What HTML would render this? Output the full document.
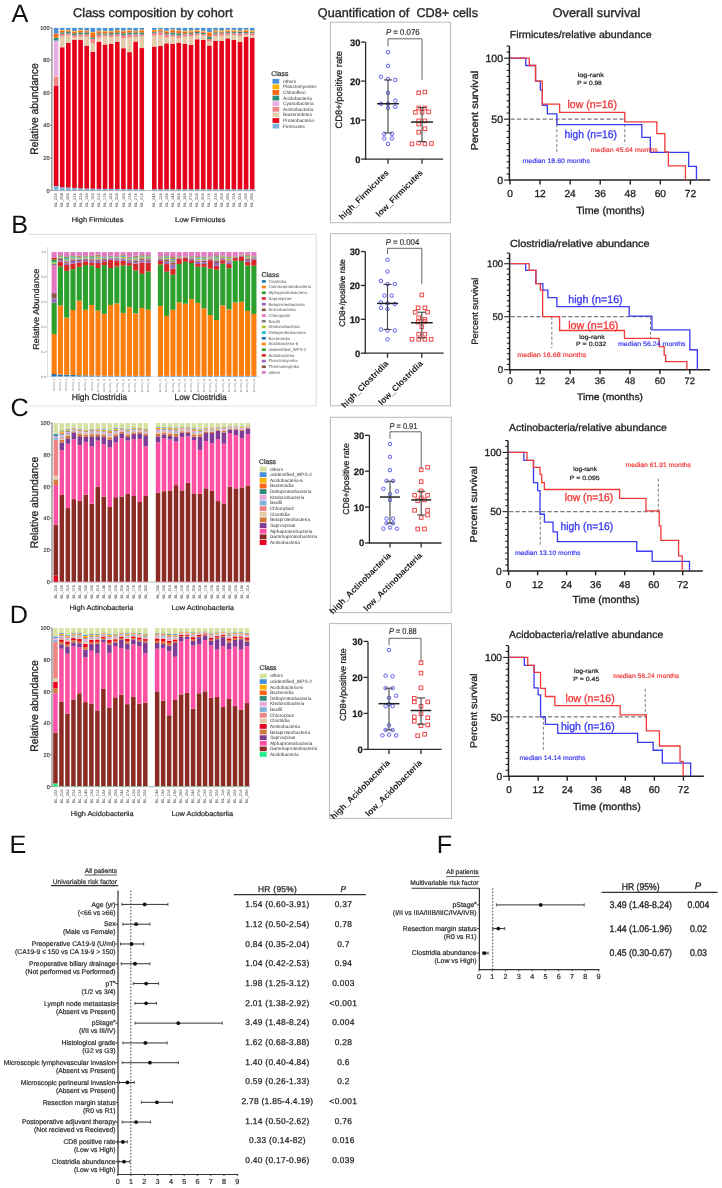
<!DOCTYPE html>
<html><head><meta charset="utf-8"><title>Figure</title>
<style>
html,body{margin:0;padding:0;background:#fff;}
body{width:722px;height:1188px;overflow:hidden;}
svg{display:block;font-family:"Liberation Sans", sans-serif;text-rendering:geometricPrecision;will-change:transform;filter:blur(0.3px);}
</style></head><body>
<svg width="722" height="1188" viewBox="0 0 722 1188">
<rect x="0" y="0" width="722" height="1188" fill="#fff"/>
<text x="11.40" y="22.20" font-size="25.2" fill="#111" stroke="none">A</text>
<text x="11.20" y="233.40" font-size="25.2" fill="#111" stroke="none">B</text>
<text x="10.40" y="415.60" font-size="25.2" fill="#111" stroke="none">C</text>
<text x="9.80" y="622.50" font-size="25.2" fill="#111" stroke="none">D</text>
<text x="9.40" y="852.80" font-size="25.2" fill="#111" stroke="none">E</text>
<text x="436.80" y="852.80" font-size="25.2" fill="#111" stroke="none">F</text>
<text x="73.10" y="16.80" font-size="12.6" fill="#2a2a2a" textLength="159.60" lengthAdjust="spacingAndGlyphs" stroke="#2a2a2a" stroke-width="0.38">Class composition by cohort</text>
<text x="317.80" y="16.80" font-size="12.6" fill="#2a2a2a" textLength="160.20" lengthAdjust="spacingAndGlyphs" stroke="#2a2a2a" stroke-width="0.38">Quantification of  CD8+ cells</text>
<text x="552.50" y="16.80" font-size="12.6" fill="#2a2a2a" textLength="87.80" lengthAdjust="spacingAndGlyphs" stroke="#2a2a2a" stroke-width="0.38">Overall survival</text>
<rect x="53.80" y="185.95" width="4.60" height="4.55" fill="#7db3da"/>
<rect x="53.80" y="85.95" width="4.60" height="100.00" fill="#e6001a"/>
<rect x="53.80" y="76.68" width="4.60" height="9.27" fill="#f08585"/>
<rect x="53.80" y="40.58" width="4.60" height="36.10" fill="#e8aee2"/>
<rect x="53.80" y="37.66" width="4.60" height="2.93" fill="#2b8c7a"/>
<rect x="53.80" y="33.59" width="4.60" height="4.06" fill="#ff6612"/>
<rect x="53.80" y="27.90" width="4.60" height="5.69" fill="#4a90d9"/>
<rect x="59.92" y="187.25" width="4.60" height="3.25" fill="#7db3da"/>
<rect x="59.92" y="47.25" width="4.60" height="140.00" fill="#e6001a"/>
<rect x="59.92" y="36.41" width="4.60" height="10.84" fill="#e2ccaa"/>
<rect x="59.92" y="33.80" width="4.60" height="2.61" fill="#f08585"/>
<rect x="59.92" y="32.36" width="4.60" height="1.44" fill="#2b8c7a"/>
<rect x="59.92" y="30.69" width="4.60" height="1.67" fill="#ff6612"/>
<rect x="59.92" y="30.00" width="4.60" height="0.69" fill="#ffb300"/>
<rect x="59.92" y="27.90" width="4.60" height="2.10" fill="#4a90d9"/>
<rect x="66.04" y="187.57" width="4.60" height="2.93" fill="#7db3da"/>
<rect x="66.04" y="42.86" width="4.60" height="144.71" fill="#e6001a"/>
<rect x="66.04" y="35.36" width="4.60" height="7.50" fill="#e2ccaa"/>
<rect x="66.04" y="33.31" width="4.60" height="2.05" fill="#f08585"/>
<rect x="66.04" y="31.49" width="4.60" height="1.82" fill="#2b8c7a"/>
<rect x="66.04" y="30.34" width="4.60" height="1.15" fill="#ff6612"/>
<rect x="66.04" y="29.77" width="4.60" height="0.56" fill="#ffb300"/>
<rect x="66.04" y="27.90" width="4.60" height="1.87" fill="#4a90d9"/>
<rect x="72.16" y="187.90" width="4.60" height="2.60" fill="#7db3da"/>
<rect x="72.16" y="39.61" width="4.60" height="148.29" fill="#e6001a"/>
<rect x="72.16" y="37.50" width="4.60" height="2.11" fill="#e2ccaa"/>
<rect x="72.16" y="35.09" width="4.60" height="2.40" fill="#f08585"/>
<rect x="72.16" y="33.28" width="4.60" height="1.82" fill="#2b8c7a"/>
<rect x="72.16" y="31.68" width="4.60" height="1.60" fill="#ff6612"/>
<rect x="72.16" y="30.98" width="4.60" height="0.70" fill="#ffb300"/>
<rect x="72.16" y="27.90" width="4.60" height="3.08" fill="#4a90d9"/>
<rect x="78.28" y="188.22" width="4.60" height="2.28" fill="#7db3da"/>
<rect x="78.28" y="39.61" width="4.60" height="148.62" fill="#e6001a"/>
<rect x="78.28" y="36.69" width="4.60" height="2.92" fill="#e2ccaa"/>
<rect x="78.28" y="34.21" width="4.60" height="2.48" fill="#f08585"/>
<rect x="78.28" y="32.37" width="4.60" height="1.84" fill="#2b8c7a"/>
<rect x="78.28" y="30.61" width="4.60" height="1.76" fill="#ff6612"/>
<rect x="78.28" y="29.88" width="4.60" height="0.73" fill="#ffb300"/>
<rect x="78.28" y="27.90" width="4.60" height="1.98" fill="#4a90d9"/>
<rect x="84.40" y="188.55" width="4.60" height="1.95" fill="#7db3da"/>
<rect x="84.40" y="45.62" width="4.60" height="142.93" fill="#e6001a"/>
<rect x="84.40" y="36.69" width="4.60" height="8.93" fill="#e2ccaa"/>
<rect x="84.40" y="34.10" width="4.60" height="2.59" fill="#f08585"/>
<rect x="84.40" y="32.35" width="4.60" height="1.75" fill="#2b8c7a"/>
<rect x="84.40" y="31.15" width="4.60" height="1.20" fill="#ff6612"/>
<rect x="84.40" y="30.56" width="4.60" height="0.59" fill="#ffb300"/>
<rect x="84.40" y="27.90" width="4.60" height="2.66" fill="#4a90d9"/>
<rect x="90.52" y="188.71" width="4.60" height="1.79" fill="#7db3da"/>
<rect x="90.52" y="51.64" width="4.60" height="137.07" fill="#e6001a"/>
<rect x="90.52" y="43.20" width="4.60" height="8.44" fill="#e2ccaa"/>
<rect x="90.52" y="38.81" width="4.60" height="4.39" fill="#f08585"/>
<rect x="90.52" y="37.29" width="4.60" height="1.52" fill="#2b8c7a"/>
<rect x="90.52" y="32.90" width="4.60" height="4.39" fill="#ff6612"/>
<rect x="90.52" y="32.13" width="4.60" height="0.77" fill="#ffb300"/>
<rect x="90.52" y="27.90" width="4.60" height="4.23" fill="#4a90d9"/>
<rect x="96.64" y="188.87" width="4.60" height="1.63" fill="#7db3da"/>
<rect x="96.64" y="41.72" width="4.60" height="147.15" fill="#e6001a"/>
<rect x="96.64" y="37.67" width="4.60" height="4.05" fill="#e2ccaa"/>
<rect x="96.64" y="34.75" width="4.60" height="2.93" fill="#f08585"/>
<rect x="96.64" y="33.29" width="4.60" height="1.46" fill="#2b8c7a"/>
<rect x="96.64" y="31.25" width="4.60" height="2.04" fill="#ff6612"/>
<rect x="96.64" y="30.62" width="4.60" height="0.63" fill="#ffb300"/>
<rect x="96.64" y="27.90" width="4.60" height="2.72" fill="#4a90d9"/>
<rect x="102.76" y="188.87" width="4.60" height="1.63" fill="#7db3da"/>
<rect x="102.76" y="44.49" width="4.60" height="144.39" fill="#e6001a"/>
<rect x="102.76" y="36.52" width="4.60" height="7.96" fill="#e2ccaa"/>
<rect x="102.76" y="34.68" width="4.60" height="1.85" fill="#f08585"/>
<rect x="102.76" y="33.46" width="4.60" height="1.22" fill="#2b8c7a"/>
<rect x="102.76" y="31.46" width="4.60" height="2.00" fill="#ff6612"/>
<rect x="102.76" y="30.91" width="4.60" height="0.56" fill="#ffb300"/>
<rect x="102.76" y="27.90" width="4.60" height="3.01" fill="#4a90d9"/>
<rect x="108.88" y="188.87" width="4.60" height="1.63" fill="#7db3da"/>
<rect x="108.88" y="43.83" width="4.60" height="145.04" fill="#e6001a"/>
<rect x="108.88" y="36.92" width="4.60" height="6.91" fill="#e2ccaa"/>
<rect x="108.88" y="34.81" width="4.60" height="2.12" fill="#f08585"/>
<rect x="108.88" y="33.16" width="4.60" height="1.65" fill="#2b8c7a"/>
<rect x="108.88" y="31.60" width="4.60" height="1.56" fill="#ff6612"/>
<rect x="108.88" y="30.94" width="4.60" height="0.65" fill="#ffb300"/>
<rect x="108.88" y="27.90" width="4.60" height="3.04" fill="#4a90d9"/>
<rect x="115.00" y="189.04" width="4.60" height="1.46" fill="#7db3da"/>
<rect x="115.00" y="41.72" width="4.60" height="147.32" fill="#e6001a"/>
<rect x="115.00" y="36.64" width="4.60" height="5.08" fill="#e2ccaa"/>
<rect x="115.00" y="34.07" width="4.60" height="2.58" fill="#f08585"/>
<rect x="115.00" y="32.45" width="4.60" height="1.61" fill="#2b8c7a"/>
<rect x="115.00" y="30.97" width="4.60" height="1.48" fill="#ff6612"/>
<rect x="115.00" y="30.19" width="4.60" height="0.78" fill="#ffb300"/>
<rect x="115.00" y="27.90" width="4.60" height="2.29" fill="#4a90d9"/>
<rect x="121.12" y="189.04" width="4.60" height="1.46" fill="#7db3da"/>
<rect x="121.12" y="48.23" width="4.60" height="140.81" fill="#e6001a"/>
<rect x="121.12" y="38.40" width="4.60" height="9.83" fill="#e2ccaa"/>
<rect x="121.12" y="35.16" width="4.60" height="3.24" fill="#f08585"/>
<rect x="121.12" y="33.33" width="4.60" height="1.83" fill="#2b8c7a"/>
<rect x="121.12" y="31.28" width="4.60" height="2.04" fill="#ff6612"/>
<rect x="121.12" y="30.58" width="4.60" height="0.71" fill="#ffb300"/>
<rect x="121.12" y="27.90" width="4.60" height="2.68" fill="#4a90d9"/>
<rect x="127.24" y="189.04" width="4.60" height="1.46" fill="#7db3da"/>
<rect x="127.24" y="52.13" width="4.60" height="136.91" fill="#e6001a"/>
<rect x="127.24" y="37.57" width="4.60" height="14.56" fill="#e2ccaa"/>
<rect x="127.24" y="34.47" width="4.60" height="3.10" fill="#f08585"/>
<rect x="127.24" y="32.55" width="4.60" height="1.92" fill="#2b8c7a"/>
<rect x="127.24" y="30.57" width="4.60" height="1.98" fill="#ff6612"/>
<rect x="127.24" y="29.90" width="4.60" height="0.67" fill="#ffb300"/>
<rect x="127.24" y="27.90" width="4.60" height="2.00" fill="#4a90d9"/>
<rect x="133.36" y="189.20" width="4.60" height="1.30" fill="#7db3da"/>
<rect x="133.36" y="41.56" width="4.60" height="147.64" fill="#e6001a"/>
<rect x="133.36" y="36.91" width="4.60" height="4.64" fill="#e2ccaa"/>
<rect x="133.36" y="34.36" width="4.60" height="2.56" fill="#f08585"/>
<rect x="133.36" y="32.54" width="4.60" height="1.81" fill="#2b8c7a"/>
<rect x="133.36" y="31.20" width="4.60" height="1.34" fill="#ff6612"/>
<rect x="133.36" y="30.62" width="4.60" height="0.58" fill="#ffb300"/>
<rect x="133.36" y="27.90" width="4.60" height="2.72" fill="#4a90d9"/>
<rect x="139.48" y="189.20" width="4.60" height="1.30" fill="#7db3da"/>
<rect x="139.48" y="48.06" width="4.60" height="141.14" fill="#e6001a"/>
<rect x="139.48" y="36.20" width="4.60" height="11.86" fill="#e2ccaa"/>
<rect x="139.48" y="34.43" width="4.60" height="1.77" fill="#f08585"/>
<rect x="139.48" y="32.49" width="4.60" height="1.94" fill="#2b8c7a"/>
<rect x="139.48" y="30.52" width="4.60" height="1.97" fill="#ff6612"/>
<rect x="139.48" y="29.77" width="4.60" height="0.75" fill="#ffb300"/>
<rect x="139.48" y="27.90" width="4.60" height="1.87" fill="#4a90d9"/>
<rect x="152.00" y="189.20" width="4.60" height="1.30" fill="#7db3da"/>
<rect x="152.00" y="46.60" width="4.60" height="142.60" fill="#e6001a"/>
<rect x="152.00" y="35.65" width="4.60" height="10.94" fill="#e2ccaa"/>
<rect x="152.00" y="32.78" width="4.60" height="2.88" fill="#f08585"/>
<rect x="152.00" y="31.84" width="4.60" height="0.94" fill="#2b8c7a"/>
<rect x="152.00" y="31.02" width="4.60" height="0.82" fill="#ff6612"/>
<rect x="152.00" y="29.96" width="4.60" height="1.06" fill="#ffb300"/>
<rect x="152.00" y="27.90" width="4.60" height="2.06" fill="#4a90d9"/>
<rect x="158.12" y="189.20" width="4.60" height="1.30" fill="#7db3da"/>
<rect x="158.12" y="45.79" width="4.60" height="143.41" fill="#e6001a"/>
<rect x="158.12" y="34.97" width="4.60" height="10.82" fill="#e2ccaa"/>
<rect x="158.12" y="32.18" width="4.60" height="2.79" fill="#f08585"/>
<rect x="158.12" y="31.48" width="4.60" height="0.69" fill="#2b8c7a"/>
<rect x="158.12" y="30.13" width="4.60" height="1.35" fill="#ff6612"/>
<rect x="158.12" y="29.43" width="4.60" height="0.70" fill="#ffb300"/>
<rect x="158.12" y="27.90" width="4.60" height="1.53" fill="#4a90d9"/>
<rect x="164.24" y="189.20" width="4.60" height="1.30" fill="#7db3da"/>
<rect x="164.24" y="43.35" width="4.60" height="145.85" fill="#e6001a"/>
<rect x="164.24" y="37.50" width="4.60" height="5.85" fill="#e2ccaa"/>
<rect x="164.24" y="34.25" width="4.60" height="3.25" fill="#f08585"/>
<rect x="164.24" y="33.11" width="4.60" height="1.14" fill="#2b8c7a"/>
<rect x="164.24" y="31.34" width="4.60" height="1.77" fill="#ff6612"/>
<rect x="164.24" y="30.65" width="4.60" height="0.69" fill="#ffb300"/>
<rect x="164.24" y="27.90" width="4.60" height="2.75" fill="#4a90d9"/>
<rect x="170.36" y="189.20" width="4.60" height="1.30" fill="#7db3da"/>
<rect x="170.36" y="43.83" width="4.60" height="145.36" fill="#e6001a"/>
<rect x="170.36" y="36.57" width="4.60" height="7.27" fill="#e2ccaa"/>
<rect x="170.36" y="34.62" width="4.60" height="1.95" fill="#f08585"/>
<rect x="170.36" y="32.51" width="4.60" height="2.11" fill="#2b8c7a"/>
<rect x="170.36" y="30.23" width="4.60" height="2.28" fill="#ff6612"/>
<rect x="170.36" y="29.48" width="4.60" height="0.75" fill="#ffb300"/>
<rect x="170.36" y="27.90" width="4.60" height="1.58" fill="#4a90d9"/>
<rect x="176.48" y="189.20" width="4.60" height="1.30" fill="#7db3da"/>
<rect x="176.48" y="42.70" width="4.60" height="146.50" fill="#e6001a"/>
<rect x="176.48" y="38.38" width="4.60" height="4.32" fill="#e2ccaa"/>
<rect x="176.48" y="35.34" width="4.60" height="3.04" fill="#f08585"/>
<rect x="176.48" y="33.23" width="4.60" height="2.11" fill="#2b8c7a"/>
<rect x="176.48" y="30.95" width="4.60" height="2.28" fill="#ff6612"/>
<rect x="176.48" y="30.26" width="4.60" height="0.69" fill="#ffb300"/>
<rect x="176.48" y="27.90" width="4.60" height="2.36" fill="#4a90d9"/>
<rect x="182.60" y="189.20" width="4.60" height="1.30" fill="#7db3da"/>
<rect x="182.60" y="43.83" width="4.60" height="145.36" fill="#e6001a"/>
<rect x="182.60" y="36.66" width="4.60" height="7.18" fill="#e2ccaa"/>
<rect x="182.60" y="34.28" width="4.60" height="2.37" fill="#f08585"/>
<rect x="182.60" y="33.26" width="4.60" height="1.02" fill="#2b8c7a"/>
<rect x="182.60" y="31.59" width="4.60" height="1.67" fill="#ff6612"/>
<rect x="182.60" y="30.77" width="4.60" height="0.83" fill="#ffb300"/>
<rect x="182.60" y="27.90" width="4.60" height="2.87" fill="#4a90d9"/>
<rect x="188.72" y="189.20" width="4.60" height="1.30" fill="#7db3da"/>
<rect x="188.72" y="44.97" width="4.60" height="144.23" fill="#e6001a"/>
<rect x="188.72" y="36.56" width="4.60" height="8.41" fill="#e2ccaa"/>
<rect x="188.72" y="33.93" width="4.60" height="2.63" fill="#f08585"/>
<rect x="188.72" y="32.73" width="4.60" height="1.20" fill="#2b8c7a"/>
<rect x="188.72" y="31.41" width="4.60" height="1.33" fill="#ff6612"/>
<rect x="188.72" y="30.31" width="4.60" height="1.10" fill="#ffb300"/>
<rect x="188.72" y="27.90" width="4.60" height="2.41" fill="#4a90d9"/>
<rect x="194.84" y="189.20" width="4.60" height="1.30" fill="#7db3da"/>
<rect x="194.84" y="39.28" width="4.60" height="149.92" fill="#e6001a"/>
<rect x="194.84" y="35.30" width="4.60" height="3.99" fill="#e2ccaa"/>
<rect x="194.84" y="33.28" width="4.60" height="2.01" fill="#f08585"/>
<rect x="194.84" y="31.93" width="4.60" height="1.35" fill="#2b8c7a"/>
<rect x="194.84" y="30.79" width="4.60" height="1.14" fill="#ff6612"/>
<rect x="194.84" y="30.11" width="4.60" height="0.68" fill="#ffb300"/>
<rect x="194.84" y="27.90" width="4.60" height="2.21" fill="#4a90d9"/>
<rect x="200.96" y="189.20" width="4.60" height="1.30" fill="#7db3da"/>
<rect x="200.96" y="39.93" width="4.60" height="149.27" fill="#e6001a"/>
<rect x="200.96" y="35.63" width="4.60" height="4.31" fill="#e2ccaa"/>
<rect x="200.96" y="33.98" width="4.60" height="1.64" fill="#f08585"/>
<rect x="200.96" y="32.80" width="4.60" height="1.19" fill="#2b8c7a"/>
<rect x="200.96" y="31.55" width="4.60" height="1.24" fill="#ff6612"/>
<rect x="200.96" y="30.79" width="4.60" height="0.76" fill="#ffb300"/>
<rect x="200.96" y="27.90" width="4.60" height="2.89" fill="#4a90d9"/>
<rect x="207.08" y="189.20" width="4.60" height="1.30" fill="#7db3da"/>
<rect x="207.08" y="45.46" width="4.60" height="143.74" fill="#e6001a"/>
<rect x="207.08" y="41.65" width="4.60" height="3.81" fill="#e2ccaa"/>
<rect x="207.08" y="39.00" width="4.60" height="2.65" fill="#f08585"/>
<rect x="207.08" y="36.56" width="4.60" height="2.44" fill="#2b8c7a"/>
<rect x="207.08" y="32.49" width="4.60" height="4.06" fill="#ff6612"/>
<rect x="207.08" y="31.97" width="4.60" height="0.53" fill="#ffb300"/>
<rect x="207.08" y="27.90" width="4.60" height="4.06" fill="#4a90d9"/>
<rect x="213.20" y="189.20" width="4.60" height="1.30" fill="#7db3da"/>
<rect x="213.20" y="40.91" width="4.60" height="148.29" fill="#e6001a"/>
<rect x="213.20" y="35.92" width="4.60" height="4.99" fill="#e2ccaa"/>
<rect x="213.20" y="33.72" width="4.60" height="2.20" fill="#f08585"/>
<rect x="213.20" y="32.41" width="4.60" height="1.31" fill="#2b8c7a"/>
<rect x="213.20" y="31.23" width="4.60" height="1.18" fill="#ff6612"/>
<rect x="213.20" y="30.28" width="4.60" height="0.95" fill="#ffb300"/>
<rect x="213.20" y="27.90" width="4.60" height="2.38" fill="#4a90d9"/>
<rect x="219.32" y="189.20" width="4.60" height="1.30" fill="#7db3da"/>
<rect x="219.32" y="40.91" width="4.60" height="148.29" fill="#e6001a"/>
<rect x="219.32" y="35.67" width="4.60" height="5.24" fill="#e2ccaa"/>
<rect x="219.32" y="32.94" width="4.60" height="2.73" fill="#f08585"/>
<rect x="219.32" y="32.23" width="4.60" height="0.71" fill="#2b8c7a"/>
<rect x="219.32" y="31.56" width="4.60" height="0.68" fill="#ff6612"/>
<rect x="219.32" y="30.44" width="4.60" height="1.11" fill="#ffb300"/>
<rect x="219.32" y="27.90" width="4.60" height="2.54" fill="#4a90d9"/>
<rect x="225.44" y="189.20" width="4.60" height="1.30" fill="#7db3da"/>
<rect x="225.44" y="38.31" width="4.60" height="150.89" fill="#e6001a"/>
<rect x="225.44" y="35.00" width="4.60" height="3.31" fill="#e2ccaa"/>
<rect x="225.44" y="32.85" width="4.60" height="2.15" fill="#f08585"/>
<rect x="225.44" y="31.63" width="4.60" height="1.23" fill="#2b8c7a"/>
<rect x="225.44" y="30.46" width="4.60" height="1.17" fill="#ff6612"/>
<rect x="225.44" y="29.73" width="4.60" height="0.72" fill="#ffb300"/>
<rect x="225.44" y="27.90" width="4.60" height="1.83" fill="#4a90d9"/>
<rect x="231.56" y="189.20" width="4.60" height="1.30" fill="#7db3da"/>
<rect x="231.56" y="39.93" width="4.60" height="149.27" fill="#e6001a"/>
<rect x="231.56" y="34.97" width="4.60" height="4.96" fill="#e2ccaa"/>
<rect x="231.56" y="32.86" width="4.60" height="2.11" fill="#f08585"/>
<rect x="231.56" y="31.62" width="4.60" height="1.23" fill="#2b8c7a"/>
<rect x="231.56" y="30.55" width="4.60" height="1.07" fill="#ff6612"/>
<rect x="231.56" y="29.82" width="4.60" height="0.73" fill="#ffb300"/>
<rect x="231.56" y="27.90" width="4.60" height="1.92" fill="#4a90d9"/>
<rect x="237.68" y="189.20" width="4.60" height="1.30" fill="#7db3da"/>
<rect x="237.68" y="41.72" width="4.60" height="147.48" fill="#e6001a"/>
<rect x="237.68" y="35.89" width="4.60" height="5.83" fill="#e2ccaa"/>
<rect x="237.68" y="33.07" width="4.60" height="2.82" fill="#f08585"/>
<rect x="237.68" y="31.86" width="4.60" height="1.21" fill="#2b8c7a"/>
<rect x="237.68" y="31.18" width="4.60" height="0.68" fill="#ff6612"/>
<rect x="237.68" y="30.49" width="4.60" height="0.69" fill="#ffb300"/>
<rect x="237.68" y="27.90" width="4.60" height="2.59" fill="#4a90d9"/>
<rect x="243.80" y="189.20" width="4.60" height="1.30" fill="#7db3da"/>
<rect x="243.80" y="36.68" width="4.60" height="152.52" fill="#e6001a"/>
<rect x="243.80" y="34.84" width="4.60" height="1.84" fill="#e2ccaa"/>
<rect x="243.80" y="32.91" width="4.60" height="1.93" fill="#f08585"/>
<rect x="243.80" y="32.03" width="4.60" height="0.88" fill="#2b8c7a"/>
<rect x="243.80" y="30.46" width="4.60" height="1.57" fill="#ff6612"/>
<rect x="243.80" y="29.69" width="4.60" height="0.77" fill="#ffb300"/>
<rect x="243.80" y="27.90" width="4.60" height="1.79" fill="#4a90d9"/>
<rect x="249.92" y="189.20" width="4.60" height="1.30" fill="#7db3da"/>
<rect x="249.92" y="37.66" width="4.60" height="151.54" fill="#e6001a"/>
<rect x="249.92" y="35.31" width="4.60" height="2.34" fill="#e2ccaa"/>
<rect x="249.92" y="33.15" width="4.60" height="2.17" fill="#f08585"/>
<rect x="249.92" y="32.18" width="4.60" height="0.96" fill="#2b8c7a"/>
<rect x="249.92" y="31.41" width="4.60" height="0.77" fill="#ff6612"/>
<rect x="249.92" y="30.38" width="4.60" height="1.03" fill="#ffb300"/>
<rect x="249.92" y="27.90" width="4.60" height="2.48" fill="#4a90d9"/>
<line x1="51.90" y1="27.60" x2="51.90" y2="190.80" stroke="#7a7a7a" stroke-width="1.1"/>
<line x1="51.80" y1="190.60" x2="256.00" y2="190.60" stroke="#8a8a8a" stroke-width="0.6"/>
<line x1="50.00" y1="190.50" x2="51.80" y2="190.50" stroke="#666" stroke-width="0.7"/>
<text x="49.60" y="192.50" font-size="5.6" fill="#444" text-anchor="end" stroke="#444" stroke-width="0.17">0</text>
<line x1="50.00" y1="157.98" x2="51.80" y2="157.98" stroke="#666" stroke-width="0.7"/>
<text x="49.60" y="159.98" font-size="5.6" fill="#444" text-anchor="end" stroke="#444" stroke-width="0.17">20</text>
<line x1="50.00" y1="125.46" x2="51.80" y2="125.46" stroke="#666" stroke-width="0.7"/>
<text x="49.60" y="127.46" font-size="5.6" fill="#444" text-anchor="end" stroke="#444" stroke-width="0.17">40</text>
<line x1="50.00" y1="92.94" x2="51.80" y2="92.94" stroke="#666" stroke-width="0.7"/>
<text x="49.60" y="94.94" font-size="5.6" fill="#444" text-anchor="end" stroke="#444" stroke-width="0.17">60</text>
<line x1="50.00" y1="60.42" x2="51.80" y2="60.42" stroke="#666" stroke-width="0.7"/>
<text x="49.60" y="62.42" font-size="5.6" fill="#444" text-anchor="end" stroke="#444" stroke-width="0.17">80</text>
<line x1="50.00" y1="27.90" x2="51.80" y2="27.90" stroke="#666" stroke-width="0.7"/>
<text x="49.60" y="29.90" font-size="5.6" fill="#444" text-anchor="end" stroke="#444" stroke-width="0.17">100</text>
<text x="38.20" y="109.00" font-size="11" fill="#2a2a2a" text-anchor="middle" textLength="91.60" lengthAdjust="spacingAndGlyphs" transform="rotate(-90 38.20 109.00)" stroke="#2a2a2a" stroke-width="0.33">Relative abundance</text>
<text x="57.20" y="193.00" font-size="3.9" fill="#444" text-anchor="end" transform="rotate(-90 57.20 193.00)">BL_22A</text>
<text x="63.32" y="193.00" font-size="3.9" fill="#444" text-anchor="end" transform="rotate(-90 63.32 193.00)">BL_25B</text>
<text x="69.44" y="193.00" font-size="3.9" fill="#444" text-anchor="end" transform="rotate(-90 69.44 193.00)">BL_26A</text>
<text x="75.56" y="193.00" font-size="3.9" fill="#444" text-anchor="end" transform="rotate(-90 75.56 193.00)">BL_23A</text>
<text x="81.68" y="193.00" font-size="3.9" fill="#444" text-anchor="end" transform="rotate(-90 81.68 193.00)">BL_22A</text>
<text x="87.80" y="193.00" font-size="3.9" fill="#444" text-anchor="end" transform="rotate(-90 87.80 193.00)">BL_19A</text>
<text x="93.92" y="193.00" font-size="3.9" fill="#444" text-anchor="end" transform="rotate(-90 93.92 193.00)">BL_16A</text>
<text x="100.04" y="193.00" font-size="3.9" fill="#444" text-anchor="end" transform="rotate(-90 100.04 193.00)">BL_21A</text>
<text x="106.16" y="193.00" font-size="3.9" fill="#444" text-anchor="end" transform="rotate(-90 106.16 193.00)">BL_17A</text>
<text x="112.28" y="193.00" font-size="3.9" fill="#444" text-anchor="end" transform="rotate(-90 112.28 193.00)">BL_16A</text>
<text x="118.40" y="193.00" font-size="3.9" fill="#444" text-anchor="end" transform="rotate(-90 118.40 193.00)">BL_20A</text>
<text x="124.52" y="193.00" font-size="3.9" fill="#444" text-anchor="end" transform="rotate(-90 124.52 193.00)">BL_18A</text>
<text x="130.64" y="193.00" font-size="3.9" fill="#444" text-anchor="end" transform="rotate(-90 130.64 193.00)">BL_13A</text>
<text x="136.76" y="193.00" font-size="3.9" fill="#444" text-anchor="end" transform="rotate(-90 136.76 193.00)">BL_27A</text>
<text x="142.88" y="193.00" font-size="3.9" fill="#444" text-anchor="end" transform="rotate(-90 142.88 193.00)">BL_21A</text>
<text x="155.40" y="193.00" font-size="3.9" fill="#444" text-anchor="end" transform="rotate(-90 155.40 193.00)">BL_24A</text>
<text x="161.52" y="193.00" font-size="3.9" fill="#444" text-anchor="end" transform="rotate(-90 161.52 193.00)">BL_12A</text>
<text x="167.64" y="193.00" font-size="3.9" fill="#444" text-anchor="end" transform="rotate(-90 167.64 193.00)">BL_19A</text>
<text x="173.76" y="193.00" font-size="3.9" fill="#444" text-anchor="end" transform="rotate(-90 173.76 193.00)">BL_14A</text>
<text x="179.88" y="193.00" font-size="3.9" fill="#444" text-anchor="end" transform="rotate(-90 179.88 193.00)">BL_26A</text>
<text x="186.00" y="193.00" font-size="3.9" fill="#444" text-anchor="end" transform="rotate(-90 186.00 193.00)">BL_18A</text>
<text x="192.12" y="193.00" font-size="3.9" fill="#444" text-anchor="end" transform="rotate(-90 192.12 193.00)">BL_27A</text>
<text x="198.24" y="193.00" font-size="3.9" fill="#444" text-anchor="end" transform="rotate(-90 198.24 193.00)">BL_20A</text>
<text x="204.36" y="193.00" font-size="3.9" fill="#444" text-anchor="end" transform="rotate(-90 204.36 193.00)">BL_30A</text>
<text x="210.48" y="193.00" font-size="3.9" fill="#444" text-anchor="end" transform="rotate(-90 210.48 193.00)">BL_17A</text>
<text x="216.60" y="193.00" font-size="3.9" fill="#444" text-anchor="end" transform="rotate(-90 216.60 193.00)">BL_23A</text>
<text x="222.72" y="193.00" font-size="3.9" fill="#444" text-anchor="end" transform="rotate(-90 222.72 193.00)">BL_25A</text>
<text x="228.84" y="193.00" font-size="3.9" fill="#444" text-anchor="end" transform="rotate(-90 228.84 193.00)">BL_28A</text>
<text x="234.96" y="193.00" font-size="3.9" fill="#444" text-anchor="end" transform="rotate(-90 234.96 193.00)">BL_15A</text>
<text x="241.08" y="193.00" font-size="3.9" fill="#444" text-anchor="end" transform="rotate(-90 241.08 193.00)">BL_32A</text>
<text x="247.20" y="193.00" font-size="3.9" fill="#444" text-anchor="end" transform="rotate(-90 247.20 193.00)">BL_19A</text>
<text x="253.32" y="193.00" font-size="3.9" fill="#444" text-anchor="end" transform="rotate(-90 253.32 193.00)">BL_29A</text>
<text x="71.70" y="221.70" font-size="7" fill="#2a2a2a" textLength="51.80" lengthAdjust="spacingAndGlyphs" stroke="#2a2a2a" stroke-width="0.21">High Firmicutes</text>
<text x="175.00" y="221.70" font-size="7" fill="#2a2a2a" textLength="50.50" lengthAdjust="spacingAndGlyphs" stroke="#2a2a2a" stroke-width="0.21">Low Firmicutes</text>
<text x="271.30" y="75.60" font-size="6.8" fill="#2a2a2a" stroke="#2a2a2a" stroke-width="0.20">Class</text>
<rect x="272.50" y="78.90" width="6.70" height="4.80" fill="#4a90d9"/>
<text x="283.00" y="82.80" font-size="4.75" fill="#333">others</text>
<rect x="272.50" y="84.50" width="6.70" height="4.80" fill="#ffb300"/>
<text x="283.00" y="88.40" font-size="4.75" fill="#333">Planctomycetes</text>
<rect x="272.50" y="90.10" width="6.70" height="4.80" fill="#ff6612"/>
<text x="283.00" y="94.00" font-size="4.75" fill="#333">Chloroflexi</text>
<rect x="272.50" y="95.70" width="6.70" height="4.80" fill="#2b8c7a"/>
<text x="283.00" y="99.60" font-size="4.75" fill="#333">Acidobacteria</text>
<rect x="272.50" y="101.30" width="6.70" height="4.80" fill="#e8aee2"/>
<text x="283.00" y="105.20" font-size="4.75" fill="#333">Cyanobacteria</text>
<rect x="272.50" y="106.90" width="6.70" height="4.80" fill="#f08585"/>
<text x="283.00" y="110.80" font-size="4.75" fill="#333">Actinobacteria</text>
<rect x="272.50" y="112.50" width="6.70" height="4.80" fill="#e2ccaa"/>
<text x="283.00" y="116.40" font-size="4.75" fill="#333">Bacteroidetes</text>
<rect x="272.50" y="118.10" width="6.70" height="4.80" fill="#e6001a"/>
<text x="283.00" y="122.00" font-size="4.75" fill="#333">Proteobacteria</text>
<rect x="272.50" y="123.70" width="6.70" height="4.80" fill="#7db3da"/>
<text x="283.00" y="127.60" font-size="4.75" fill="#333">Firmicutes</text>
<rect x="330.40" y="22.20" width="120.10" height="200.50" fill="none" stroke="#b9b9b9" stroke-width="1"/>
<line x1="365.60" y1="42.10" x2="365.60" y2="159.70" stroke="#2b2b2b" stroke-width="1.3"/>
<line x1="365.00" y1="159.10" x2="443.00" y2="159.10" stroke="#2b2b2b" stroke-width="1.3"/>
<line x1="361.10" y1="159.10" x2="365.60" y2="159.10" stroke="#2b2b2b" stroke-width="1.3"/>
<text x="360.40" y="162.50" font-size="9.4" fill="#222" text-anchor="end" font-weight="bold" stroke="#222" stroke-width="0.25">0</text>
<line x1="361.10" y1="120.10" x2="365.60" y2="120.10" stroke="#2b2b2b" stroke-width="1.3"/>
<text x="360.40" y="123.50" font-size="9.4" fill="#222" text-anchor="end" font-weight="bold" stroke="#222" stroke-width="0.25">10</text>
<line x1="361.10" y1="81.10" x2="365.60" y2="81.10" stroke="#2b2b2b" stroke-width="1.3"/>
<text x="360.40" y="84.50" font-size="9.4" fill="#222" text-anchor="end" font-weight="bold" stroke="#222" stroke-width="0.25">20</text>
<line x1="361.10" y1="42.10" x2="365.60" y2="42.10" stroke="#2b2b2b" stroke-width="1.3"/>
<text x="360.40" y="45.50" font-size="9.4" fill="#222" text-anchor="end" font-weight="bold" stroke="#222" stroke-width="0.25">30</text>
<line x1="388.00" y1="159.10" x2="388.00" y2="163.70" stroke="#2b2b2b" stroke-width="1.3"/>
<line x1="422.00" y1="159.10" x2="422.00" y2="163.70" stroke="#2b2b2b" stroke-width="1.3"/>
<text x="342.50" y="89.80" font-size="9.393939393939394" fill="#222" text-anchor="middle" textLength="77.50" lengthAdjust="spacingAndGlyphs" transform="rotate(-90 342.50 89.80)" stroke="#222" stroke-width="0.28">CD8+/positive rate</text>
<polyline points="388.00,46.50 388.00,38.80 422.00,38.80 422.00,79.80" fill="none" stroke="#666" stroke-width="1.0"/>
<text x="402.80" y="34.80" font-size="8.6" fill="#333" stroke="#333" stroke-width="0.2" text-anchor="middle" textLength="33.6" lengthAdjust="spacingAndGlyphs"><tspan font-style="italic">P</tspan> = 0.076</text>
<circle cx="388.00" cy="52.24" r="1.75" fill="none" stroke="#5b5bf2" stroke-width="1.0"/>
<circle cx="388.00" cy="65.89" r="1.75" fill="none" stroke="#5b5bf2" stroke-width="1.0"/>
<circle cx="380.90" cy="76.81" r="1.75" fill="none" stroke="#5b5bf2" stroke-width="1.0"/>
<circle cx="395.30" cy="79.93" r="1.75" fill="none" stroke="#5b5bf2" stroke-width="1.0"/>
<circle cx="388.00" cy="79.15" r="1.75" fill="none" stroke="#5b5bf2" stroke-width="1.0"/>
<circle cx="388.00" cy="92.80" r="1.75" fill="none" stroke="#5b5bf2" stroke-width="1.0"/>
<circle cx="395.30" cy="100.60" r="1.75" fill="none" stroke="#5b5bf2" stroke-width="1.0"/>
<circle cx="381.00" cy="103.72" r="1.75" fill="none" stroke="#5b5bf2" stroke-width="1.0"/>
<circle cx="388.00" cy="103.72" r="1.75" fill="none" stroke="#5b5bf2" stroke-width="1.0"/>
<circle cx="388.00" cy="108.01" r="1.75" fill="none" stroke="#5b5bf2" stroke-width="1.0"/>
<circle cx="395.30" cy="106.84" r="1.75" fill="none" stroke="#5b5bf2" stroke-width="1.0"/>
<circle cx="384.20" cy="133.75" r="1.75" fill="none" stroke="#5b5bf2" stroke-width="1.0"/>
<circle cx="392.00" cy="133.75" r="1.75" fill="none" stroke="#5b5bf2" stroke-width="1.0"/>
<circle cx="384.20" cy="138.43" r="1.75" fill="none" stroke="#5b5bf2" stroke-width="1.0"/>
<circle cx="392.00" cy="138.43" r="1.75" fill="none" stroke="#5b5bf2" stroke-width="1.0"/>
<circle cx="388.00" cy="143.89" r="1.75" fill="none" stroke="#5b5bf2" stroke-width="1.0"/>
<rect x="416.90" y="91.00" width="3.6" height="3.6" fill="none" stroke="#f04848" stroke-width="1.0"/>
<rect x="423.10" y="90.22" width="3.6" height="3.6" fill="none" stroke="#f04848" stroke-width="1.0"/>
<rect x="416.90" y="106.21" width="3.6" height="3.6" fill="none" stroke="#f04848" stroke-width="1.0"/>
<rect x="423.10" y="106.21" width="3.6" height="3.6" fill="none" stroke="#f04848" stroke-width="1.0"/>
<rect x="413.60" y="110.50" width="3.6" height="3.6" fill="none" stroke="#f04848" stroke-width="1.0"/>
<rect x="420.20" y="110.50" width="3.6" height="3.6" fill="none" stroke="#f04848" stroke-width="1.0"/>
<rect x="426.80" y="110.11" width="3.6" height="3.6" fill="none" stroke="#f04848" stroke-width="1.0"/>
<rect x="416.90" y="119.08" width="3.6" height="3.6" fill="none" stroke="#f04848" stroke-width="1.0"/>
<rect x="423.10" y="119.08" width="3.6" height="3.6" fill="none" stroke="#f04848" stroke-width="1.0"/>
<rect x="416.90" y="122.20" width="3.6" height="3.6" fill="none" stroke="#f04848" stroke-width="1.0"/>
<rect x="423.10" y="126.88" width="3.6" height="3.6" fill="none" stroke="#f04848" stroke-width="1.0"/>
<rect x="416.90" y="130.39" width="3.6" height="3.6" fill="none" stroke="#f04848" stroke-width="1.0"/>
<rect x="410.20" y="142.09" width="3.6" height="3.6" fill="none" stroke="#f04848" stroke-width="1.0"/>
<rect x="416.90" y="141.31" width="3.6" height="3.6" fill="none" stroke="#f04848" stroke-width="1.0"/>
<rect x="423.10" y="142.09" width="3.6" height="3.6" fill="none" stroke="#f04848" stroke-width="1.0"/>
<rect x="429.70" y="141.70" width="3.6" height="3.6" fill="none" stroke="#f04848" stroke-width="1.0"/>
<line x1="388.00" y1="132.97" x2="388.00" y2="79.93" stroke="#444" stroke-width="1.1"/>
<line x1="377.00" y1="103.72" x2="399.00" y2="103.72" stroke="#222" stroke-width="1.5"/>
<line x1="384.00" y1="132.97" x2="392.00" y2="132.97" stroke="#444" stroke-width="1.1"/>
<line x1="384.00" y1="79.93" x2="392.00" y2="79.93" stroke="#444" stroke-width="1.1"/>
<line x1="422.00" y1="141.55" x2="422.00" y2="107.62" stroke="#444" stroke-width="1.1"/>
<line x1="411.00" y1="122.05" x2="433.00" y2="122.05" stroke="#222" stroke-width="1.5"/>
<line x1="418.00" y1="141.55" x2="426.00" y2="141.55" stroke="#444" stroke-width="1.1"/>
<line x1="418.00" y1="107.62" x2="426.00" y2="107.62" stroke="#444" stroke-width="1.1"/>
<text x="389.50" y="173.30" font-size="8.6" fill="#222" font-weight="bold" text-anchor="end" transform="rotate(-45 389.50 173.30)">high_Firmicutes</text>
<text x="423.50" y="173.30" font-size="8.6" fill="#222" font-weight="bold" text-anchor="end" transform="rotate(-45 423.50 173.30)">low_Firmicutes</text>
<rect x="330.40" y="233.70" width="120.10" height="172.10" fill="none" stroke="#b9b9b9" stroke-width="1"/>
<line x1="365.30" y1="251.59" x2="365.30" y2="353.80" stroke="#2b2b2b" stroke-width="1.3"/>
<line x1="364.70" y1="353.20" x2="443.60" y2="353.20" stroke="#2b2b2b" stroke-width="1.3"/>
<line x1="360.80" y1="353.20" x2="365.30" y2="353.20" stroke="#2b2b2b" stroke-width="1.3"/>
<text x="360.10" y="356.60" font-size="9.4" fill="#222" text-anchor="end" font-weight="bold" stroke="#222" stroke-width="0.25">0</text>
<line x1="360.80" y1="319.33" x2="365.30" y2="319.33" stroke="#2b2b2b" stroke-width="1.3"/>
<text x="360.10" y="322.73" font-size="9.4" fill="#222" text-anchor="end" font-weight="bold" stroke="#222" stroke-width="0.25">10</text>
<line x1="360.80" y1="285.46" x2="365.30" y2="285.46" stroke="#2b2b2b" stroke-width="1.3"/>
<text x="360.10" y="288.86" font-size="9.4" fill="#222" text-anchor="end" font-weight="bold" stroke="#222" stroke-width="0.25">20</text>
<line x1="360.80" y1="251.59" x2="365.30" y2="251.59" stroke="#2b2b2b" stroke-width="1.3"/>
<text x="360.10" y="254.99" font-size="9.4" fill="#222" text-anchor="end" font-weight="bold" stroke="#222" stroke-width="0.25">30</text>
<line x1="387.50" y1="353.20" x2="387.50" y2="357.80" stroke="#2b2b2b" stroke-width="1.3"/>
<line x1="421.80" y1="353.20" x2="421.80" y2="357.80" stroke="#2b2b2b" stroke-width="1.3"/>
<text x="344.60" y="293.00" font-size="8.181818181818182" fill="#222" text-anchor="middle" textLength="67.50" lengthAdjust="spacingAndGlyphs" transform="rotate(-90 344.60 293.00)" stroke="#222" stroke-width="0.25">CD8+/positive rate</text>
<polyline points="387.50,254.00 387.50,248.30 421.80,248.30 421.80,284.20" fill="none" stroke="#666" stroke-width="1.0"/>
<text x="402.45" y="244.70" font-size="8.6" fill="#333" stroke="#333" stroke-width="0.2" text-anchor="middle" textLength="33.6" lengthAdjust="spacingAndGlyphs"><tspan font-style="italic">P</tspan> = 0.004</text>
<circle cx="387.50" cy="259.72" r="1.75" fill="none" stroke="#5b5bf2" stroke-width="1.0"/>
<circle cx="387.50" cy="271.57" r="1.75" fill="none" stroke="#5b5bf2" stroke-width="1.0"/>
<circle cx="380.90" cy="281.06" r="1.75" fill="none" stroke="#5b5bf2" stroke-width="1.0"/>
<circle cx="394.80" cy="284.11" r="1.75" fill="none" stroke="#5b5bf2" stroke-width="1.0"/>
<circle cx="387.50" cy="284.11" r="1.75" fill="none" stroke="#5b5bf2" stroke-width="1.0"/>
<circle cx="384.40" cy="295.62" r="1.75" fill="none" stroke="#5b5bf2" stroke-width="1.0"/>
<circle cx="391.70" cy="295.62" r="1.75" fill="none" stroke="#5b5bf2" stroke-width="1.0"/>
<circle cx="380.90" cy="302.39" r="1.75" fill="none" stroke="#5b5bf2" stroke-width="1.0"/>
<circle cx="387.50" cy="303.41" r="1.75" fill="none" stroke="#5b5bf2" stroke-width="1.0"/>
<circle cx="394.80" cy="304.09" r="1.75" fill="none" stroke="#5b5bf2" stroke-width="1.0"/>
<circle cx="380.90" cy="307.81" r="1.75" fill="none" stroke="#5b5bf2" stroke-width="1.0"/>
<circle cx="387.50" cy="309.17" r="1.75" fill="none" stroke="#5b5bf2" stroke-width="1.0"/>
<circle cx="380.90" cy="329.49" r="1.75" fill="none" stroke="#5b5bf2" stroke-width="1.0"/>
<circle cx="387.50" cy="330.51" r="1.75" fill="none" stroke="#5b5bf2" stroke-width="1.0"/>
<circle cx="394.80" cy="330.51" r="1.75" fill="none" stroke="#5b5bf2" stroke-width="1.0"/>
<circle cx="387.50" cy="339.31" r="1.75" fill="none" stroke="#5b5bf2" stroke-width="1.0"/>
<rect x="420.00" y="293.14" width="3.6" height="3.6" fill="none" stroke="#f04848" stroke-width="1.0"/>
<rect x="416.30" y="306.01" width="3.6" height="3.6" fill="none" stroke="#f04848" stroke-width="1.0"/>
<rect x="423.10" y="306.01" width="3.6" height="3.6" fill="none" stroke="#f04848" stroke-width="1.0"/>
<rect x="413.40" y="310.42" width="3.6" height="3.6" fill="none" stroke="#f04848" stroke-width="1.0"/>
<rect x="425.80" y="310.42" width="3.6" height="3.6" fill="none" stroke="#f04848" stroke-width="1.0"/>
<rect x="416.90" y="315.84" width="3.6" height="3.6" fill="none" stroke="#f04848" stroke-width="1.0"/>
<rect x="423.10" y="317.53" width="3.6" height="3.6" fill="none" stroke="#f04848" stroke-width="1.0"/>
<rect x="416.30" y="320.24" width="3.6" height="3.6" fill="none" stroke="#f04848" stroke-width="1.0"/>
<rect x="423.10" y="319.56" width="3.6" height="3.6" fill="none" stroke="#f04848" stroke-width="1.0"/>
<rect x="420.00" y="324.98" width="3.6" height="3.6" fill="none" stroke="#f04848" stroke-width="1.0"/>
<rect x="416.90" y="332.43" width="3.6" height="3.6" fill="none" stroke="#f04848" stroke-width="1.0"/>
<rect x="423.10" y="332.43" width="3.6" height="3.6" fill="none" stroke="#f04848" stroke-width="1.0"/>
<rect x="410.20" y="337.51" width="3.6" height="3.6" fill="none" stroke="#f04848" stroke-width="1.0"/>
<rect x="416.90" y="337.51" width="3.6" height="3.6" fill="none" stroke="#f04848" stroke-width="1.0"/>
<rect x="423.10" y="337.51" width="3.6" height="3.6" fill="none" stroke="#f04848" stroke-width="1.0"/>
<rect x="429.40" y="337.51" width="3.6" height="3.6" fill="none" stroke="#f04848" stroke-width="1.0"/>
<line x1="387.50" y1="329.49" x2="387.50" y2="284.44" stroke="#444" stroke-width="1.1"/>
<line x1="377.00" y1="303.41" x2="398.00" y2="303.41" stroke="#222" stroke-width="1.5"/>
<line x1="383.50" y1="329.49" x2="391.50" y2="329.49" stroke="#444" stroke-width="1.1"/>
<line x1="383.50" y1="284.44" x2="391.50" y2="284.44" stroke="#444" stroke-width="1.1"/>
<line x1="421.80" y1="337.96" x2="421.80" y2="312.22" stroke="#444" stroke-width="1.1"/>
<line x1="410.90" y1="322.72" x2="432.70" y2="322.72" stroke="#222" stroke-width="1.5"/>
<line x1="417.80" y1="337.96" x2="425.80" y2="337.96" stroke="#444" stroke-width="1.1"/>
<line x1="417.80" y1="312.22" x2="425.80" y2="312.22" stroke="#444" stroke-width="1.1"/>
<text x="389.00" y="364.20" font-size="8.6" fill="#222" font-weight="bold" text-anchor="end" transform="rotate(-45 389.00 364.20)">high_Clostridia</text>
<text x="423.30" y="364.20" font-size="8.6" fill="#222" font-weight="bold" text-anchor="end" transform="rotate(-45 423.30 364.20)">low_Clostridia</text>
<rect x="330.40" y="417.30" width="120.90" height="195.30" fill="none" stroke="#b9b9b9" stroke-width="1"/>
<line x1="369.40" y1="435.30" x2="369.40" y2="543.60" stroke="#2b2b2b" stroke-width="1.3"/>
<line x1="368.80" y1="543.00" x2="441.50" y2="543.00" stroke="#2b2b2b" stroke-width="1.3"/>
<line x1="364.90" y1="543.00" x2="369.40" y2="543.00" stroke="#2b2b2b" stroke-width="1.3"/>
<text x="364.20" y="546.40" font-size="9.4" fill="#222" text-anchor="end" font-weight="bold" stroke="#222" stroke-width="0.25">0</text>
<line x1="364.90" y1="507.10" x2="369.40" y2="507.10" stroke="#2b2b2b" stroke-width="1.3"/>
<text x="364.20" y="510.50" font-size="9.4" fill="#222" text-anchor="end" font-weight="bold" stroke="#222" stroke-width="0.25">10</text>
<line x1="364.90" y1="471.20" x2="369.40" y2="471.20" stroke="#2b2b2b" stroke-width="1.3"/>
<text x="364.20" y="474.60" font-size="9.4" fill="#222" text-anchor="end" font-weight="bold" stroke="#222" stroke-width="0.25">20</text>
<line x1="364.90" y1="435.30" x2="369.40" y2="435.30" stroke="#2b2b2b" stroke-width="1.3"/>
<text x="364.20" y="438.70" font-size="9.4" fill="#222" text-anchor="end" font-weight="bold" stroke="#222" stroke-width="0.25">30</text>
<line x1="390.00" y1="543.00" x2="390.00" y2="547.60" stroke="#2b2b2b" stroke-width="1.3"/>
<line x1="421.20" y1="543.00" x2="421.20" y2="547.60" stroke="#2b2b2b" stroke-width="1.3"/>
<text x="348.80" y="479.00" font-size="8.690909090909091" fill="#222" text-anchor="middle" textLength="71.70" lengthAdjust="spacingAndGlyphs" transform="rotate(-90 348.80 479.00)" stroke="#222" stroke-width="0.26">CD8+/positive rate</text>
<polyline points="390.00,439.00 390.00,431.80 421.20,431.80 421.20,469.20" fill="none" stroke="#666" stroke-width="1.0"/>
<text x="403.40" y="428.70" font-size="8.6" fill="#333" stroke="#333" stroke-width="0.2" text-anchor="middle" textLength="27.8" lengthAdjust="spacingAndGlyphs"><tspan font-style="italic">P</tspan> = 0.91</text>
<circle cx="390.00" cy="443.92" r="1.75" fill="none" stroke="#5b5bf2" stroke-width="1.0"/>
<circle cx="390.00" cy="456.84" r="1.75" fill="none" stroke="#5b5bf2" stroke-width="1.0"/>
<circle cx="390.00" cy="470.12" r="1.75" fill="none" stroke="#5b5bf2" stroke-width="1.0"/>
<circle cx="386.50" cy="480.89" r="1.75" fill="none" stroke="#5b5bf2" stroke-width="1.0"/>
<circle cx="393.10" cy="480.89" r="1.75" fill="none" stroke="#5b5bf2" stroke-width="1.0"/>
<circle cx="383.40" cy="488.79" r="1.75" fill="none" stroke="#5b5bf2" stroke-width="1.0"/>
<circle cx="396.90" cy="491.30" r="1.75" fill="none" stroke="#5b5bf2" stroke-width="1.0"/>
<circle cx="390.00" cy="494.18" r="1.75" fill="none" stroke="#5b5bf2" stroke-width="1.0"/>
<circle cx="390.00" cy="499.92" r="1.75" fill="none" stroke="#5b5bf2" stroke-width="1.0"/>
<circle cx="386.50" cy="518.59" r="1.75" fill="none" stroke="#5b5bf2" stroke-width="1.0"/>
<circle cx="393.10" cy="518.59" r="1.75" fill="none" stroke="#5b5bf2" stroke-width="1.0"/>
<circle cx="386.50" cy="523.25" r="1.75" fill="none" stroke="#5b5bf2" stroke-width="1.0"/>
<circle cx="393.10" cy="523.25" r="1.75" fill="none" stroke="#5b5bf2" stroke-width="1.0"/>
<circle cx="383.40" cy="528.64" r="1.75" fill="none" stroke="#5b5bf2" stroke-width="1.0"/>
<circle cx="390.00" cy="527.56" r="1.75" fill="none" stroke="#5b5bf2" stroke-width="1.0"/>
<circle cx="396.90" cy="528.64" r="1.75" fill="none" stroke="#5b5bf2" stroke-width="1.0"/>
<rect x="419.40" y="467.96" width="3.6" height="3.6" fill="none" stroke="#f04848" stroke-width="1.0"/>
<rect x="425.80" y="465.45" width="3.6" height="3.6" fill="none" stroke="#f04848" stroke-width="1.0"/>
<rect x="419.40" y="479.81" width="3.6" height="3.6" fill="none" stroke="#f04848" stroke-width="1.0"/>
<rect x="419.40" y="489.14" width="3.6" height="3.6" fill="none" stroke="#f04848" stroke-width="1.0"/>
<rect x="412.80" y="493.45" width="3.6" height="3.6" fill="none" stroke="#f04848" stroke-width="1.0"/>
<rect x="425.80" y="493.45" width="3.6" height="3.6" fill="none" stroke="#f04848" stroke-width="1.0"/>
<rect x="415.90" y="498.84" width="3.6" height="3.6" fill="none" stroke="#f04848" stroke-width="1.0"/>
<rect x="422.70" y="498.12" width="3.6" height="3.6" fill="none" stroke="#f04848" stroke-width="1.0"/>
<rect x="412.80" y="508.53" width="3.6" height="3.6" fill="none" stroke="#f04848" stroke-width="1.0"/>
<rect x="425.80" y="508.53" width="3.6" height="3.6" fill="none" stroke="#f04848" stroke-width="1.0"/>
<rect x="425.80" y="513.20" width="3.6" height="3.6" fill="none" stroke="#f04848" stroke-width="1.0"/>
<rect x="419.40" y="515.71" width="3.6" height="3.6" fill="none" stroke="#f04848" stroke-width="1.0"/>
<rect x="415.90" y="527.20" width="3.6" height="3.6" fill="none" stroke="#f04848" stroke-width="1.0"/>
<rect x="422.70" y="527.20" width="3.6" height="3.6" fill="none" stroke="#f04848" stroke-width="1.0"/>
<rect x="419.40" y="495.97" width="3.6" height="3.6" fill="none" stroke="#f04848" stroke-width="1.0"/>
<line x1="390.00" y1="523.25" x2="390.00" y2="481.25" stroke="#444" stroke-width="1.1"/>
<line x1="380.00" y1="497.05" x2="400.00" y2="497.05" stroke="#222" stroke-width="1.5"/>
<line x1="386.00" y1="523.25" x2="394.00" y2="523.25" stroke="#444" stroke-width="1.1"/>
<line x1="386.00" y1="481.25" x2="394.00" y2="481.25" stroke="#444" stroke-width="1.1"/>
<line x1="421.20" y1="515.00" x2="421.20" y2="491.30" stroke="#444" stroke-width="1.1"/>
<line x1="411.20" y1="499.92" x2="431.20" y2="499.92" stroke="#222" stroke-width="1.5"/>
<line x1="417.20" y1="515.00" x2="425.20" y2="515.00" stroke="#444" stroke-width="1.1"/>
<line x1="417.20" y1="491.30" x2="425.20" y2="491.30" stroke="#444" stroke-width="1.1"/>
<text x="391.50" y="556.00" font-size="8.6" fill="#222" font-weight="bold" text-anchor="end" transform="rotate(-45 391.50 556.00)">high_Actinobacteria</text>
<text x="422.70" y="556.00" font-size="8.6" fill="#222" font-weight="bold" text-anchor="end" transform="rotate(-45 422.70 556.00)">low_Actinobacteria</text>
<rect x="329.50" y="623.60" width="122.00" height="194.80" fill="none" stroke="#b9b9b9" stroke-width="1"/>
<line x1="368.00" y1="641.40" x2="368.00" y2="750.00" stroke="#2b2b2b" stroke-width="1.3"/>
<line x1="367.40" y1="749.40" x2="441.60" y2="749.40" stroke="#2b2b2b" stroke-width="1.3"/>
<line x1="363.50" y1="749.40" x2="368.00" y2="749.40" stroke="#2b2b2b" stroke-width="1.3"/>
<text x="362.80" y="752.80" font-size="9.4" fill="#222" text-anchor="end" font-weight="bold" stroke="#222" stroke-width="0.25">0</text>
<line x1="363.50" y1="713.40" x2="368.00" y2="713.40" stroke="#2b2b2b" stroke-width="1.3"/>
<text x="362.80" y="716.80" font-size="9.4" fill="#222" text-anchor="end" font-weight="bold" stroke="#222" stroke-width="0.25">10</text>
<line x1="363.50" y1="677.40" x2="368.00" y2="677.40" stroke="#2b2b2b" stroke-width="1.3"/>
<text x="362.80" y="680.80" font-size="9.4" fill="#222" text-anchor="end" font-weight="bold" stroke="#222" stroke-width="0.25">20</text>
<line x1="363.50" y1="641.40" x2="368.00" y2="641.40" stroke="#2b2b2b" stroke-width="1.3"/>
<text x="362.80" y="644.80" font-size="9.4" fill="#222" text-anchor="end" font-weight="bold" stroke="#222" stroke-width="0.25">30</text>
<line x1="389.00" y1="749.40" x2="389.00" y2="754.00" stroke="#2b2b2b" stroke-width="1.3"/>
<line x1="421.00" y1="749.40" x2="421.00" y2="754.00" stroke="#2b2b2b" stroke-width="1.3"/>
<text x="346.00" y="684.70" font-size="8.799999999999999" fill="#222" text-anchor="middle" textLength="72.60" lengthAdjust="spacingAndGlyphs" transform="rotate(-90 346.00 684.70)" stroke="#222" stroke-width="0.26">CD8+/positive rate</text>
<polyline points="389.00,645.20 389.00,638.30 421.00,638.30 421.00,662.00" fill="none" stroke="#666" stroke-width="1.0"/>
<text x="402.80" y="634.20" font-size="8.6" fill="#333" stroke="#333" stroke-width="0.2" text-anchor="middle" textLength="27.8" lengthAdjust="spacingAndGlyphs"><tspan font-style="italic">P</tspan> = 0.88</text>
<circle cx="389.00" cy="650.04" r="1.75" fill="none" stroke="#5b5bf2" stroke-width="1.0"/>
<circle cx="385.60" cy="675.60" r="1.75" fill="none" stroke="#5b5bf2" stroke-width="1.0"/>
<circle cx="392.60" cy="676.32" r="1.75" fill="none" stroke="#5b5bf2" stroke-width="1.0"/>
<circle cx="385.60" cy="688.20" r="1.75" fill="none" stroke="#5b5bf2" stroke-width="1.0"/>
<circle cx="392.60" cy="688.20" r="1.75" fill="none" stroke="#5b5bf2" stroke-width="1.0"/>
<circle cx="389.00" cy="697.92" r="1.75" fill="none" stroke="#5b5bf2" stroke-width="1.0"/>
<circle cx="396.20" cy="695.76" r="1.75" fill="none" stroke="#5b5bf2" stroke-width="1.0"/>
<circle cx="385.60" cy="706.20" r="1.75" fill="none" stroke="#5b5bf2" stroke-width="1.0"/>
<circle cx="392.60" cy="706.20" r="1.75" fill="none" stroke="#5b5bf2" stroke-width="1.0"/>
<circle cx="389.00" cy="704.04" r="1.75" fill="none" stroke="#5b5bf2" stroke-width="1.0"/>
<circle cx="389.00" cy="725.28" r="1.75" fill="none" stroke="#5b5bf2" stroke-width="1.0"/>
<circle cx="385.60" cy="729.96" r="1.75" fill="none" stroke="#5b5bf2" stroke-width="1.0"/>
<circle cx="392.60" cy="729.96" r="1.75" fill="none" stroke="#5b5bf2" stroke-width="1.0"/>
<circle cx="382.50" cy="735.36" r="1.75" fill="none" stroke="#5b5bf2" stroke-width="1.0"/>
<circle cx="389.00" cy="734.64" r="1.75" fill="none" stroke="#5b5bf2" stroke-width="1.0"/>
<circle cx="396.20" cy="735.36" r="1.75" fill="none" stroke="#5b5bf2" stroke-width="1.0"/>
<rect x="419.20" y="660.84" width="3.6" height="3.6" fill="none" stroke="#f04848" stroke-width="1.0"/>
<rect x="419.20" y="671.28" width="3.6" height="3.6" fill="none" stroke="#f04848" stroke-width="1.0"/>
<rect x="419.20" y="686.04" width="3.6" height="3.6" fill="none" stroke="#f04848" stroke-width="1.0"/>
<rect x="412.50" y="696.48" width="3.6" height="3.6" fill="none" stroke="#f04848" stroke-width="1.0"/>
<rect x="412.50" y="700.08" width="3.6" height="3.6" fill="none" stroke="#f04848" stroke-width="1.0"/>
<rect x="425.90" y="700.08" width="3.6" height="3.6" fill="none" stroke="#f04848" stroke-width="1.0"/>
<rect x="419.20" y="704.40" width="3.6" height="3.6" fill="none" stroke="#f04848" stroke-width="1.0"/>
<rect x="419.20" y="711.96" width="3.6" height="3.6" fill="none" stroke="#f04848" stroke-width="1.0"/>
<rect x="412.50" y="715.20" width="3.6" height="3.6" fill="none" stroke="#f04848" stroke-width="1.0"/>
<rect x="425.90" y="715.92" width="3.6" height="3.6" fill="none" stroke="#f04848" stroke-width="1.0"/>
<rect x="412.50" y="719.52" width="3.6" height="3.6" fill="none" stroke="#f04848" stroke-width="1.0"/>
<rect x="419.20" y="723.84" width="3.6" height="3.6" fill="none" stroke="#f04848" stroke-width="1.0"/>
<rect x="425.90" y="723.12" width="3.6" height="3.6" fill="none" stroke="#f04848" stroke-width="1.0"/>
<rect x="415.80" y="733.92" width="3.6" height="3.6" fill="none" stroke="#f04848" stroke-width="1.0"/>
<rect x="422.80" y="732.48" width="3.6" height="3.6" fill="none" stroke="#f04848" stroke-width="1.0"/>
<line x1="389.00" y1="729.96" x2="389.00" y2="688.20" stroke="#444" stroke-width="1.1"/>
<line x1="378.50" y1="703.68" x2="399.50" y2="703.68" stroke="#222" stroke-width="1.5"/>
<line x1="385.00" y1="729.96" x2="393.00" y2="729.96" stroke="#444" stroke-width="1.1"/>
<line x1="385.00" y1="688.20" x2="393.00" y2="688.20" stroke="#444" stroke-width="1.1"/>
<line x1="421.00" y1="724.20" x2="421.00" y2="697.92" stroke="#444" stroke-width="1.1"/>
<line x1="410.70" y1="710.52" x2="431.30" y2="710.52" stroke="#222" stroke-width="1.5"/>
<line x1="417.00" y1="724.20" x2="425.00" y2="724.20" stroke="#444" stroke-width="1.1"/>
<line x1="417.00" y1="697.92" x2="425.00" y2="697.92" stroke="#444" stroke-width="1.1"/>
<text x="390.50" y="763.40" font-size="8.6" fill="#222" font-weight="bold" text-anchor="end" transform="rotate(-45 390.50 763.40)">high_Acidobacteria</text>
<text x="422.50" y="763.40" font-size="8.6" fill="#222" font-weight="bold" text-anchor="end" transform="rotate(-45 422.50 763.40)">low_Acidobacteria</text>
<text x="509.70" y="38.20" font-size="10.3" fill="#222" textLength="141.90" lengthAdjust="spacingAndGlyphs" stroke="#222" stroke-width="0.31">Firmicutes/relative abundance</text>
<line x1="509.40" y1="46.10" x2="509.40" y2="180.80" stroke="#222" stroke-width="1.5"/>
<line x1="504.00" y1="180.10" x2="509.40" y2="180.10" stroke="#222" stroke-width="1.1"/>
<line x1="506.60" y1="174.00" x2="509.40" y2="174.00" stroke="#222" stroke-width="1.1"/>
<line x1="506.60" y1="167.91" x2="509.40" y2="167.91" stroke="#222" stroke-width="1.1"/>
<line x1="506.60" y1="161.81" x2="509.40" y2="161.81" stroke="#222" stroke-width="1.1"/>
<line x1="506.60" y1="155.72" x2="509.40" y2="155.72" stroke="#222" stroke-width="1.1"/>
<line x1="506.60" y1="149.62" x2="509.40" y2="149.62" stroke="#222" stroke-width="1.1"/>
<line x1="506.60" y1="143.53" x2="509.40" y2="143.53" stroke="#222" stroke-width="1.1"/>
<line x1="506.60" y1="137.44" x2="509.40" y2="137.44" stroke="#222" stroke-width="1.1"/>
<line x1="506.60" y1="131.34" x2="509.40" y2="131.34" stroke="#222" stroke-width="1.1"/>
<line x1="506.60" y1="125.24" x2="509.40" y2="125.24" stroke="#222" stroke-width="1.1"/>
<line x1="504.00" y1="119.15" x2="509.40" y2="119.15" stroke="#222" stroke-width="1.1"/>
<line x1="506.60" y1="113.05" x2="509.40" y2="113.05" stroke="#222" stroke-width="1.1"/>
<line x1="506.60" y1="106.96" x2="509.40" y2="106.96" stroke="#222" stroke-width="1.1"/>
<line x1="506.60" y1="100.86" x2="509.40" y2="100.86" stroke="#222" stroke-width="1.1"/>
<line x1="506.60" y1="94.77" x2="509.40" y2="94.77" stroke="#222" stroke-width="1.1"/>
<line x1="506.60" y1="88.67" x2="509.40" y2="88.67" stroke="#222" stroke-width="1.1"/>
<line x1="506.60" y1="82.58" x2="509.40" y2="82.58" stroke="#222" stroke-width="1.1"/>
<line x1="506.60" y1="76.48" x2="509.40" y2="76.48" stroke="#222" stroke-width="1.1"/>
<line x1="506.60" y1="70.39" x2="509.40" y2="70.39" stroke="#222" stroke-width="1.1"/>
<line x1="506.60" y1="64.29" x2="509.40" y2="64.29" stroke="#222" stroke-width="1.1"/>
<line x1="504.00" y1="58.20" x2="509.40" y2="58.20" stroke="#222" stroke-width="1.1"/>
<line x1="506.60" y1="52.10" x2="509.40" y2="52.10" stroke="#222" stroke-width="1.1"/>
<line x1="506.60" y1="46.01" x2="509.40" y2="46.01" stroke="#222" stroke-width="1.1"/>
<text x="503.00" y="183.90" font-size="10.5" fill="#222" text-anchor="end" stroke="#222" stroke-width="0.32">0</text>
<text x="503.00" y="122.95" font-size="10.5" fill="#222" text-anchor="end" stroke="#222" stroke-width="0.32">50</text>
<text x="503.00" y="62.00" font-size="10.5" fill="#222" text-anchor="end" stroke="#222" stroke-width="0.32">100</text>
<line x1="508.80" y1="180.10" x2="710.20" y2="180.10" stroke="#222" stroke-width="1.5"/>
<line x1="510.00" y1="180.10" x2="510.00" y2="184.50" stroke="#222" stroke-width="1.4"/>
<text x="510.00" y="197.30" font-size="10.2" fill="#222" text-anchor="middle" stroke="#222" stroke-width="0.31">0</text>
<line x1="540.07" y1="180.10" x2="540.07" y2="184.50" stroke="#222" stroke-width="1.4"/>
<text x="540.07" y="197.30" font-size="10.2" fill="#222" text-anchor="middle" stroke="#222" stroke-width="0.31">12</text>
<line x1="570.14" y1="180.10" x2="570.14" y2="184.50" stroke="#222" stroke-width="1.4"/>
<text x="570.14" y="197.30" font-size="10.2" fill="#222" text-anchor="middle" stroke="#222" stroke-width="0.31">24</text>
<line x1="600.22" y1="180.10" x2="600.22" y2="184.50" stroke="#222" stroke-width="1.4"/>
<text x="600.22" y="197.30" font-size="10.2" fill="#222" text-anchor="middle" stroke="#222" stroke-width="0.31">36</text>
<line x1="630.29" y1="180.10" x2="630.29" y2="184.50" stroke="#222" stroke-width="1.4"/>
<text x="630.29" y="197.30" font-size="10.2" fill="#222" text-anchor="middle" stroke="#222" stroke-width="0.31">48</text>
<line x1="660.36" y1="180.10" x2="660.36" y2="184.50" stroke="#222" stroke-width="1.4"/>
<text x="660.36" y="197.30" font-size="10.2" fill="#222" text-anchor="middle" stroke="#222" stroke-width="0.31">60</text>
<line x1="690.43" y1="180.10" x2="690.43" y2="184.50" stroke="#222" stroke-width="1.4"/>
<text x="690.43" y="197.30" font-size="10.2" fill="#222" text-anchor="middle" stroke="#222" stroke-width="0.31">72</text>
<text x="576.20" y="214.00" font-size="10.4" fill="#222" textLength="68.50" lengthAdjust="spacingAndGlyphs" stroke="#222" stroke-width="0.31">Time (months)</text>
<text x="478.10" y="110.70" font-size="10.0" fill="#222" text-anchor="middle" textLength="79.80" lengthAdjust="spacingAndGlyphs" transform="rotate(-90 478.10 110.70)" stroke="#222" stroke-width="0.30">Percent survival</text>
<line x1="510.50" y1="119.15" x2="624.77" y2="119.15" stroke="#7a7a7a" stroke-width="1.2" stroke-dasharray="4.2,2.2"/>
<line x1="556.86" y1="119.15" x2="556.86" y2="153.00" stroke="#7a7a7a" stroke-width="1.0" stroke-dasharray="3,2"/>
<line x1="624.77" y1="119.15" x2="624.77" y2="144.50" stroke="#7a7a7a" stroke-width="1.0" stroke-dasharray="3,2"/>
<polyline points="510.00,58.20 525.79,58.20 525.79,65.51 535.56,65.51 535.56,81.12 540.32,81.12 540.32,89.89 542.33,89.89 542.33,105.25 547.34,105.25 547.34,113.79 556.86,113.79 556.86,124.64 641.82,124.64 641.82,137.31 650.34,137.31 650.34,152.43 688.68,152.43 688.68,166.45 696.45,166.45 696.45,180.10" fill="none" stroke="#3b3bf0" stroke-width="1.3" stroke-linejoin="miter"/>
<polyline points="510.00,58.20 529.30,58.20 529.30,65.51 535.56,65.51 535.56,81.12 542.33,81.12 542.33,104.03 559.62,104.03 559.62,112.45 624.77,112.45 624.77,121.83 656.85,121.83 656.85,133.53 664.87,133.53 664.87,151.82 668.38,151.82 668.38,165.84 685.42,165.84 685.42,180.10" fill="none" stroke="#f03a3a" stroke-width="1.3" stroke-linejoin="miter"/>
<text x="577.70" y="76.93" font-size="6.2" fill="#222" textLength="26.20" lengthAdjust="spacingAndGlyphs" stroke="#222" stroke-width="0.19">log-rank</text>
<text x="577.20" y="85.13" font-size="6.2" fill="#222" textLength="24.50" lengthAdjust="spacingAndGlyphs" stroke="#222" stroke-width="0.19">P = 0.98</text>
<text x="567.50" y="107.76" font-size="11" fill="#f03a3a" textLength="49.50" lengthAdjust="spacingAndGlyphs" stroke="#f03a3a" stroke-width="0.33">low (n=16)</text>
<text x="564.60" y="137.76" font-size="11" fill="#3b3bf0" textLength="52.40" lengthAdjust="spacingAndGlyphs" stroke="#3b3bf0" stroke-width="0.33">high (n=16)</text>
<text x="590.80" y="152.10" font-size="6.4" fill="#f03a3a" textLength="66.90" lengthAdjust="spacingAndGlyphs" stroke="#f03a3a" stroke-width="0.19">median 45.64 months</text>
<text x="522.50" y="162.80" font-size="6.4" fill="#3b3bf0" textLength="67.50" lengthAdjust="spacingAndGlyphs" stroke="#3b3bf0" stroke-width="0.19">median 18.60 months</text>
<text x="510.00" y="246.80" font-size="10.3" fill="#222" textLength="139.40" lengthAdjust="spacingAndGlyphs" stroke="#222" stroke-width="0.31">Clostridia/relative abundance</text>
<line x1="509.60" y1="253.30" x2="509.60" y2="370.40" stroke="#222" stroke-width="1.5"/>
<line x1="504.20" y1="369.70" x2="509.60" y2="369.70" stroke="#222" stroke-width="1.1"/>
<line x1="506.80" y1="364.40" x2="509.60" y2="364.40" stroke="#222" stroke-width="1.1"/>
<line x1="506.80" y1="359.10" x2="509.60" y2="359.10" stroke="#222" stroke-width="1.1"/>
<line x1="506.80" y1="353.80" x2="509.60" y2="353.80" stroke="#222" stroke-width="1.1"/>
<line x1="506.80" y1="348.50" x2="509.60" y2="348.50" stroke="#222" stroke-width="1.1"/>
<line x1="506.80" y1="343.20" x2="509.60" y2="343.20" stroke="#222" stroke-width="1.1"/>
<line x1="506.80" y1="337.90" x2="509.60" y2="337.90" stroke="#222" stroke-width="1.1"/>
<line x1="506.80" y1="332.60" x2="509.60" y2="332.60" stroke="#222" stroke-width="1.1"/>
<line x1="506.80" y1="327.30" x2="509.60" y2="327.30" stroke="#222" stroke-width="1.1"/>
<line x1="506.80" y1="322.00" x2="509.60" y2="322.00" stroke="#222" stroke-width="1.1"/>
<line x1="504.20" y1="316.70" x2="509.60" y2="316.70" stroke="#222" stroke-width="1.1"/>
<line x1="506.80" y1="311.40" x2="509.60" y2="311.40" stroke="#222" stroke-width="1.1"/>
<line x1="506.80" y1="306.10" x2="509.60" y2="306.10" stroke="#222" stroke-width="1.1"/>
<line x1="506.80" y1="300.80" x2="509.60" y2="300.80" stroke="#222" stroke-width="1.1"/>
<line x1="506.80" y1="295.50" x2="509.60" y2="295.50" stroke="#222" stroke-width="1.1"/>
<line x1="506.80" y1="290.20" x2="509.60" y2="290.20" stroke="#222" stroke-width="1.1"/>
<line x1="506.80" y1="284.90" x2="509.60" y2="284.90" stroke="#222" stroke-width="1.1"/>
<line x1="506.80" y1="279.60" x2="509.60" y2="279.60" stroke="#222" stroke-width="1.1"/>
<line x1="506.80" y1="274.30" x2="509.60" y2="274.30" stroke="#222" stroke-width="1.1"/>
<line x1="506.80" y1="269.00" x2="509.60" y2="269.00" stroke="#222" stroke-width="1.1"/>
<line x1="504.20" y1="263.70" x2="509.60" y2="263.70" stroke="#222" stroke-width="1.1"/>
<line x1="506.80" y1="258.40" x2="509.60" y2="258.40" stroke="#222" stroke-width="1.1"/>
<line x1="506.80" y1="253.10" x2="509.60" y2="253.10" stroke="#222" stroke-width="1.1"/>
<text x="503.20" y="373.20" font-size="9.66" fill="#222" text-anchor="end" stroke="#222" stroke-width="0.29">0</text>
<text x="503.20" y="320.20" font-size="9.66" fill="#222" text-anchor="end" stroke="#222" stroke-width="0.29">50</text>
<text x="503.20" y="267.20" font-size="9.66" fill="#222" text-anchor="end" stroke="#222" stroke-width="0.29">100</text>
<line x1="509.00" y1="369.70" x2="710.00" y2="369.70" stroke="#222" stroke-width="1.5"/>
<line x1="510.20" y1="369.70" x2="510.20" y2="374.10" stroke="#222" stroke-width="1.4"/>
<text x="510.20" y="384.11" font-size="9.384" fill="#222" text-anchor="middle" stroke="#222" stroke-width="0.28">0</text>
<line x1="540.14" y1="369.70" x2="540.14" y2="374.10" stroke="#222" stroke-width="1.4"/>
<text x="540.14" y="384.11" font-size="9.384" fill="#222" text-anchor="middle" stroke="#222" stroke-width="0.28">12</text>
<line x1="570.08" y1="369.70" x2="570.08" y2="374.10" stroke="#222" stroke-width="1.4"/>
<text x="570.08" y="384.11" font-size="9.384" fill="#222" text-anchor="middle" stroke="#222" stroke-width="0.28">24</text>
<line x1="600.02" y1="369.70" x2="600.02" y2="374.10" stroke="#222" stroke-width="1.4"/>
<text x="600.02" y="384.11" font-size="9.384" fill="#222" text-anchor="middle" stroke="#222" stroke-width="0.28">36</text>
<line x1="629.96" y1="369.70" x2="629.96" y2="374.10" stroke="#222" stroke-width="1.4"/>
<text x="629.96" y="384.11" font-size="9.384" fill="#222" text-anchor="middle" stroke="#222" stroke-width="0.28">48</text>
<line x1="659.90" y1="369.70" x2="659.90" y2="374.10" stroke="#222" stroke-width="1.4"/>
<text x="659.90" y="384.11" font-size="9.384" fill="#222" text-anchor="middle" stroke="#222" stroke-width="0.28">60</text>
<line x1="689.84" y1="369.70" x2="689.84" y2="374.10" stroke="#222" stroke-width="1.4"/>
<text x="689.84" y="384.11" font-size="9.384" fill="#222" text-anchor="middle" stroke="#222" stroke-width="0.28">72</text>
<text x="577.00" y="400.40" font-size="9.568000000000001" fill="#222" textLength="66.00" lengthAdjust="spacingAndGlyphs" stroke="#222" stroke-width="0.29">Time (months)</text>
<text x="477.81" y="311.20" font-size="9.200000000000001" fill="#222" text-anchor="middle" textLength="67.00" lengthAdjust="spacingAndGlyphs" transform="rotate(-90 477.81 311.20)" stroke="#222" stroke-width="0.28">Percent survival</text>
<line x1="510.70" y1="316.70" x2="651.92" y2="316.70" stroke="#7a7a7a" stroke-width="1.2" stroke-dasharray="4.2,2.2"/>
<line x1="551.82" y1="316.70" x2="551.82" y2="348.20" stroke="#7a7a7a" stroke-width="1.0" stroke-dasharray="3,2"/>
<line x1="650.52" y1="316.70" x2="650.52" y2="338.00" stroke="#7a7a7a" stroke-width="1.0" stroke-dasharray="3,2"/>
<polyline points="510.20,263.70 525.67,263.70 525.67,270.32 535.90,270.32 535.90,283.57 542.88,283.57 542.88,290.20 547.87,290.20 547.87,297.62 556.86,297.62 556.86,306.63 629.21,306.63 629.21,316.06 651.92,316.06 651.92,329.95 689.84,329.95 689.84,349.77 697.33,349.77 697.33,369.70" fill="none" stroke="#3b3bf0" stroke-width="1.3" stroke-linejoin="miter"/>
<polyline points="510.20,263.70 529.16,263.70 529.16,270.32 535.90,270.32 535.90,283.57 540.39,283.57 540.39,290.20 542.63,290.20 542.63,316.70 559.60,316.70 559.60,330.48 624.47,330.48 624.47,338.43 659.15,338.43 659.15,346.59 664.14,346.59 664.14,355.18 665.64,355.18 665.64,361.64 686.85,361.64 686.85,369.70" fill="none" stroke="#f03a3a" stroke-width="1.3" stroke-linejoin="miter"/>
<text x="568.20" y="303.36" font-size="11" fill="#3b3bf0" textLength="54.50" lengthAdjust="spacingAndGlyphs" stroke="#3b3bf0" stroke-width="0.33">high (n=16)</text>
<text x="568.20" y="329.06" font-size="11" fill="#f03a3a" textLength="50.20" lengthAdjust="spacingAndGlyphs" stroke="#f03a3a" stroke-width="0.33">low (n=16)</text>
<text x="579.30" y="339.23" font-size="6.2" fill="#222" textLength="25.40" lengthAdjust="spacingAndGlyphs" stroke="#222" stroke-width="0.19">log-rank</text>
<text x="576.10" y="346.03" font-size="6.2" fill="#222" textLength="30.10" lengthAdjust="spacingAndGlyphs" stroke="#222" stroke-width="0.19">P = 0.032</text>
<text x="618.00" y="345.70" font-size="6.4" fill="#3b3bf0" textLength="67.60" lengthAdjust="spacingAndGlyphs" stroke="#3b3bf0" stroke-width="0.19">median 56.24 months</text>
<text x="517.30" y="356.50" font-size="6.4" fill="#f03a3a" textLength="69.00" lengthAdjust="spacingAndGlyphs" stroke="#f03a3a" stroke-width="0.19">median 16.68 months</text>
<text x="509.00" y="431.10" font-size="10.3" fill="#222" textLength="157.80" lengthAdjust="spacingAndGlyphs" stroke="#222" stroke-width="0.31">Actinobacteria/relative abundance</text>
<line x1="508.00" y1="440.80" x2="508.00" y2="571.60" stroke="#222" stroke-width="1.5"/>
<line x1="502.60" y1="570.90" x2="508.00" y2="570.90" stroke="#222" stroke-width="1.1"/>
<line x1="505.20" y1="564.98" x2="508.00" y2="564.98" stroke="#222" stroke-width="1.1"/>
<line x1="505.20" y1="559.05" x2="508.00" y2="559.05" stroke="#222" stroke-width="1.1"/>
<line x1="505.20" y1="553.12" x2="508.00" y2="553.12" stroke="#222" stroke-width="1.1"/>
<line x1="505.20" y1="547.20" x2="508.00" y2="547.20" stroke="#222" stroke-width="1.1"/>
<line x1="505.20" y1="541.27" x2="508.00" y2="541.27" stroke="#222" stroke-width="1.1"/>
<line x1="505.20" y1="535.35" x2="508.00" y2="535.35" stroke="#222" stroke-width="1.1"/>
<line x1="505.20" y1="529.42" x2="508.00" y2="529.42" stroke="#222" stroke-width="1.1"/>
<line x1="505.20" y1="523.50" x2="508.00" y2="523.50" stroke="#222" stroke-width="1.1"/>
<line x1="505.20" y1="517.57" x2="508.00" y2="517.57" stroke="#222" stroke-width="1.1"/>
<line x1="502.60" y1="511.65" x2="508.00" y2="511.65" stroke="#222" stroke-width="1.1"/>
<line x1="505.20" y1="505.72" x2="508.00" y2="505.72" stroke="#222" stroke-width="1.1"/>
<line x1="505.20" y1="499.80" x2="508.00" y2="499.80" stroke="#222" stroke-width="1.1"/>
<line x1="505.20" y1="493.88" x2="508.00" y2="493.88" stroke="#222" stroke-width="1.1"/>
<line x1="505.20" y1="487.95" x2="508.00" y2="487.95" stroke="#222" stroke-width="1.1"/>
<line x1="505.20" y1="482.02" x2="508.00" y2="482.02" stroke="#222" stroke-width="1.1"/>
<line x1="505.20" y1="476.10" x2="508.00" y2="476.10" stroke="#222" stroke-width="1.1"/>
<line x1="505.20" y1="470.17" x2="508.00" y2="470.17" stroke="#222" stroke-width="1.1"/>
<line x1="505.20" y1="464.25" x2="508.00" y2="464.25" stroke="#222" stroke-width="1.1"/>
<line x1="505.20" y1="458.32" x2="508.00" y2="458.32" stroke="#222" stroke-width="1.1"/>
<line x1="502.60" y1="452.40" x2="508.00" y2="452.40" stroke="#222" stroke-width="1.1"/>
<line x1="505.20" y1="446.47" x2="508.00" y2="446.47" stroke="#222" stroke-width="1.1"/>
<line x1="505.20" y1="440.55" x2="508.00" y2="440.55" stroke="#222" stroke-width="1.1"/>
<text x="501.60" y="574.62" font-size="10.29" fill="#222" text-anchor="end" stroke="#222" stroke-width="0.31">0</text>
<text x="501.60" y="515.37" font-size="10.29" fill="#222" text-anchor="end" stroke="#222" stroke-width="0.31">50</text>
<text x="501.60" y="456.12" font-size="10.29" fill="#222" text-anchor="end" stroke="#222" stroke-width="0.31">100</text>
<line x1="507.40" y1="570.90" x2="702.80" y2="570.90" stroke="#222" stroke-width="1.5"/>
<line x1="508.60" y1="570.90" x2="508.60" y2="575.30" stroke="#222" stroke-width="1.4"/>
<text x="508.60" y="587.73" font-size="9.995999999999999" fill="#222" text-anchor="middle" stroke="#222" stroke-width="0.30">0</text>
<line x1="537.62" y1="570.90" x2="537.62" y2="575.30" stroke="#222" stroke-width="1.4"/>
<text x="537.62" y="587.73" font-size="9.995999999999999" fill="#222" text-anchor="middle" stroke="#222" stroke-width="0.30">12</text>
<line x1="566.63" y1="570.90" x2="566.63" y2="575.30" stroke="#222" stroke-width="1.4"/>
<text x="566.63" y="587.73" font-size="9.995999999999999" fill="#222" text-anchor="middle" stroke="#222" stroke-width="0.30">24</text>
<line x1="595.65" y1="570.90" x2="595.65" y2="575.30" stroke="#222" stroke-width="1.4"/>
<text x="595.65" y="587.73" font-size="9.995999999999999" fill="#222" text-anchor="middle" stroke="#222" stroke-width="0.30">36</text>
<line x1="624.66" y1="570.90" x2="624.66" y2="575.30" stroke="#222" stroke-width="1.4"/>
<text x="624.66" y="587.73" font-size="9.995999999999999" fill="#222" text-anchor="middle" stroke="#222" stroke-width="0.30">48</text>
<line x1="653.68" y1="570.90" x2="653.68" y2="575.30" stroke="#222" stroke-width="1.4"/>
<text x="653.68" y="587.73" font-size="9.995999999999999" fill="#222" text-anchor="middle" stroke="#222" stroke-width="0.30">60</text>
<line x1="682.70" y1="570.90" x2="682.70" y2="575.30" stroke="#222" stroke-width="1.4"/>
<text x="682.70" y="587.73" font-size="9.995999999999999" fill="#222" text-anchor="middle" stroke="#222" stroke-width="0.30">72</text>
<text x="572.50" y="603.43" font-size="10.192" fill="#222" textLength="67.10" lengthAdjust="spacingAndGlyphs" stroke="#222" stroke-width="0.31">Time (months)</text>
<text x="477.03" y="504.30" font-size="9.8" fill="#222" text-anchor="middle" textLength="76.20" lengthAdjust="spacingAndGlyphs" transform="rotate(-90 477.03 504.30)" stroke="#222" stroke-width="0.29">Percent survival</text>
<line x1="509.10" y1="511.65" x2="659.24" y2="511.65" stroke="#7a7a7a" stroke-width="1.2" stroke-dasharray="4.2,2.2"/>
<line x1="540.28" y1="511.65" x2="540.28" y2="546.30" stroke="#7a7a7a" stroke-width="1.0" stroke-dasharray="3,2"/>
<line x1="658.30" y1="511.65" x2="658.30" y2="477.60" stroke="#7a7a7a" stroke-width="1.0" stroke-dasharray="3,2"/>
<polyline points="508.60,452.40 523.83,452.40 523.83,460.34 533.51,460.34 533.51,482.62 537.62,482.62 537.62,490.68 540.03,490.68 540.03,514.26 544.39,514.26 544.39,522.20 553.09,522.20 553.09,531.79 557.44,531.79 557.44,541.63 636.75,541.63 636.75,551.23 652.23,551.23 652.23,561.30 689.47,561.30 689.47,570.90" fill="none" stroke="#3b3bf0" stroke-width="1.3" stroke-linejoin="miter"/>
<polyline points="508.60,452.40 526.98,452.40 526.98,460.34 533.51,460.34 533.51,467.33 540.03,467.33 540.03,474.44 541.73,474.44 541.73,482.62 544.39,482.62 544.39,489.49 619.59,489.49 619.59,498.38 645.94,498.38 645.94,510.82 659.24,510.82 659.24,525.87 660.93,525.87 660.93,540.33 678.59,540.33 678.59,555.85 682.21,555.85 682.21,570.90" fill="none" stroke="#f03a3a" stroke-width="1.3" stroke-linejoin="miter"/>
<text x="625.50" y="467.00" font-size="6.4" fill="#f03a3a" textLength="65.50" lengthAdjust="spacingAndGlyphs" stroke="#f03a3a" stroke-width="0.19">median 61.91 months</text>
<text x="573.30" y="471.23" font-size="6.2" fill="#222" textLength="23.60" lengthAdjust="spacingAndGlyphs" stroke="#222" stroke-width="0.19">log-rank</text>
<text x="569.70" y="479.83" font-size="6.2" fill="#222" textLength="30.00" lengthAdjust="spacingAndGlyphs" stroke="#222" stroke-width="0.19">P = 0.095</text>
<text x="564.70" y="500.86" font-size="11" fill="#f03a3a" textLength="48.50" lengthAdjust="spacingAndGlyphs" stroke="#f03a3a" stroke-width="0.33">low (n=16)</text>
<text x="560.50" y="529.86" font-size="11" fill="#3b3bf0" textLength="52.70" lengthAdjust="spacingAndGlyphs" stroke="#3b3bf0" stroke-width="0.33">high (n=16)</text>
<text x="514.90" y="555.30" font-size="6.4" fill="#3b3bf0" textLength="65.60" lengthAdjust="spacingAndGlyphs" stroke="#3b3bf0" stroke-width="0.19">median 13.10 months</text>
<text x="509.00" y="638.40" font-size="10.3" fill="#222" textLength="154.20" lengthAdjust="spacingAndGlyphs" stroke="#222" stroke-width="0.31">Acidobacteria/relative abundance</text>
<line x1="508.50" y1="645.80" x2="508.50" y2="777.00" stroke="#222" stroke-width="1.5"/>
<line x1="503.10" y1="776.30" x2="508.50" y2="776.30" stroke="#222" stroke-width="1.1"/>
<line x1="505.70" y1="770.35" x2="508.50" y2="770.35" stroke="#222" stroke-width="1.1"/>
<line x1="505.70" y1="764.41" x2="508.50" y2="764.41" stroke="#222" stroke-width="1.1"/>
<line x1="505.70" y1="758.46" x2="508.50" y2="758.46" stroke="#222" stroke-width="1.1"/>
<line x1="505.70" y1="752.52" x2="508.50" y2="752.52" stroke="#222" stroke-width="1.1"/>
<line x1="505.70" y1="746.57" x2="508.50" y2="746.57" stroke="#222" stroke-width="1.1"/>
<line x1="505.70" y1="740.63" x2="508.50" y2="740.63" stroke="#222" stroke-width="1.1"/>
<line x1="505.70" y1="734.68" x2="508.50" y2="734.68" stroke="#222" stroke-width="1.1"/>
<line x1="505.70" y1="728.74" x2="508.50" y2="728.74" stroke="#222" stroke-width="1.1"/>
<line x1="505.70" y1="722.79" x2="508.50" y2="722.79" stroke="#222" stroke-width="1.1"/>
<line x1="503.10" y1="716.85" x2="508.50" y2="716.85" stroke="#222" stroke-width="1.1"/>
<line x1="505.70" y1="710.90" x2="508.50" y2="710.90" stroke="#222" stroke-width="1.1"/>
<line x1="505.70" y1="704.96" x2="508.50" y2="704.96" stroke="#222" stroke-width="1.1"/>
<line x1="505.70" y1="699.01" x2="508.50" y2="699.01" stroke="#222" stroke-width="1.1"/>
<line x1="505.70" y1="693.07" x2="508.50" y2="693.07" stroke="#222" stroke-width="1.1"/>
<line x1="505.70" y1="687.12" x2="508.50" y2="687.12" stroke="#222" stroke-width="1.1"/>
<line x1="505.70" y1="681.18" x2="508.50" y2="681.18" stroke="#222" stroke-width="1.1"/>
<line x1="505.70" y1="675.23" x2="508.50" y2="675.23" stroke="#222" stroke-width="1.1"/>
<line x1="505.70" y1="669.29" x2="508.50" y2="669.29" stroke="#222" stroke-width="1.1"/>
<line x1="505.70" y1="663.34" x2="508.50" y2="663.34" stroke="#222" stroke-width="1.1"/>
<line x1="503.10" y1="657.40" x2="508.50" y2="657.40" stroke="#222" stroke-width="1.1"/>
<line x1="505.70" y1="651.45" x2="508.50" y2="651.45" stroke="#222" stroke-width="1.1"/>
<line x1="505.70" y1="645.51" x2="508.50" y2="645.51" stroke="#222" stroke-width="1.1"/>
<text x="502.10" y="780.02" font-size="10.29" fill="#222" text-anchor="end" stroke="#222" stroke-width="0.31">0</text>
<text x="502.10" y="720.57" font-size="10.29" fill="#222" text-anchor="end" stroke="#222" stroke-width="0.31">50</text>
<text x="502.10" y="661.12" font-size="10.29" fill="#222" text-anchor="end" stroke="#222" stroke-width="0.31">100</text>
<line x1="507.90" y1="776.30" x2="703.80" y2="776.30" stroke="#222" stroke-width="1.5"/>
<line x1="509.10" y1="776.30" x2="509.10" y2="780.70" stroke="#222" stroke-width="1.4"/>
<text x="509.10" y="793.13" font-size="9.995999999999999" fill="#222" text-anchor="middle" stroke="#222" stroke-width="0.30">0</text>
<line x1="538.15" y1="776.30" x2="538.15" y2="780.70" stroke="#222" stroke-width="1.4"/>
<text x="538.15" y="793.13" font-size="9.995999999999999" fill="#222" text-anchor="middle" stroke="#222" stroke-width="0.30">12</text>
<line x1="567.20" y1="776.30" x2="567.20" y2="780.70" stroke="#222" stroke-width="1.4"/>
<text x="567.20" y="793.13" font-size="9.995999999999999" fill="#222" text-anchor="middle" stroke="#222" stroke-width="0.30">24</text>
<line x1="596.26" y1="776.30" x2="596.26" y2="780.70" stroke="#222" stroke-width="1.4"/>
<text x="596.26" y="793.13" font-size="9.995999999999999" fill="#222" text-anchor="middle" stroke="#222" stroke-width="0.30">36</text>
<line x1="625.31" y1="776.30" x2="625.31" y2="780.70" stroke="#222" stroke-width="1.4"/>
<text x="625.31" y="793.13" font-size="9.995999999999999" fill="#222" text-anchor="middle" stroke="#222" stroke-width="0.30">48</text>
<line x1="654.36" y1="776.30" x2="654.36" y2="780.70" stroke="#222" stroke-width="1.4"/>
<text x="654.36" y="793.13" font-size="9.995999999999999" fill="#222" text-anchor="middle" stroke="#222" stroke-width="0.30">60</text>
<line x1="683.41" y1="776.30" x2="683.41" y2="780.70" stroke="#222" stroke-width="1.4"/>
<text x="683.41" y="793.13" font-size="9.995999999999999" fill="#222" text-anchor="middle" stroke="#222" stroke-width="0.30">72</text>
<text x="573.00" y="809.63" font-size="10.192" fill="#222" textLength="67.70" lengthAdjust="spacingAndGlyphs" stroke="#222" stroke-width="0.31">Time (months)</text>
<text x="477.03" y="710.70" font-size="9.8" fill="#222" text-anchor="middle" textLength="74.40" lengthAdjust="spacingAndGlyphs" transform="rotate(-90 477.03 710.70)" stroke="#222" stroke-width="0.29">Percent survival</text>
<line x1="509.60" y1="716.85" x2="646.37" y2="716.85" stroke="#7a7a7a" stroke-width="1.2" stroke-dasharray="4.2,2.2"/>
<line x1="543.33" y1="716.85" x2="543.33" y2="751.30" stroke="#7a7a7a" stroke-width="1.0" stroke-dasharray="3,2"/>
<line x1="645.26" y1="716.85" x2="645.26" y2="687.60" stroke="#7a7a7a" stroke-width="1.0" stroke-dasharray="3,2"/>
<polyline points="509.10,657.40 524.35,657.40 524.35,665.37 534.04,665.37 534.04,687.84 538.15,687.84 538.15,694.85 540.57,694.85 540.57,716.85 545.41,716.85 545.41,724.46 557.76,724.46 557.76,733.38 637.66,733.38 637.66,742.29 653.15,742.29 653.15,750.26 662.35,750.26 662.35,763.10 690.67,763.10 690.67,776.30" fill="none" stroke="#3b3bf0" stroke-width="1.3" stroke-linejoin="miter"/>
<polyline points="509.10,657.40 527.74,657.40 527.74,665.37 534.04,665.37 534.04,672.38 540.57,672.38 540.57,688.43 545.41,688.43 545.41,696.52 554.86,696.52 554.86,705.67 620.22,705.67 620.22,714.95 646.37,714.95 646.37,730.88 659.44,730.88 659.44,745.98 680.02,745.98 680.02,761.56 683.17,761.56 683.17,776.30" fill="none" stroke="#f03a3a" stroke-width="1.3" stroke-linejoin="miter"/>
<text x="574.00" y="673.03" font-size="6.2" fill="#222" textLength="24.60" lengthAdjust="spacingAndGlyphs" stroke="#222" stroke-width="0.19">log-rank</text>
<text x="573.30" y="680.83" font-size="6.2" fill="#222" textLength="26.00" lengthAdjust="spacingAndGlyphs" stroke="#222" stroke-width="0.19">P = 0.45</text>
<text x="613.20" y="678.10" font-size="6.4" fill="#f03a3a" textLength="66.00" lengthAdjust="spacingAndGlyphs" stroke="#f03a3a" stroke-width="0.19">median 56.24 months</text>
<text x="565.40" y="701.66" font-size="11" fill="#f03a3a" textLength="49.30" lengthAdjust="spacingAndGlyphs" stroke="#f03a3a" stroke-width="0.33">low (n=16)</text>
<text x="561.00" y="729.56" font-size="11" fill="#3b3bf0" textLength="53.70" lengthAdjust="spacingAndGlyphs" stroke="#3b3bf0" stroke-width="0.33">high (n=16)</text>
<text x="519.40" y="759.50" font-size="6.4" fill="#3b3bf0" textLength="66.10" lengthAdjust="spacingAndGlyphs" stroke="#3b3bf0" stroke-width="0.19">median 14.14 months</text>
<line x1="28.50" y1="234.40" x2="316.30" y2="234.40" stroke="#d8d8d8" stroke-width="0.9"/>
<line x1="316.30" y1="234.40" x2="316.30" y2="405.90" stroke="#d8d8d8" stroke-width="0.9"/>
<line x1="28.50" y1="405.90" x2="316.30" y2="405.90" stroke="#e0e0e0" stroke-width="0.9"/>
<line x1="47.50" y1="246.80" x2="47.50" y2="377.00" stroke="#c8c8c8" stroke-width="0.6"/>
<line x1="47.50" y1="376.80" x2="260.00" y2="376.80" stroke="#c8c8c8" stroke-width="0.6"/>
<line x1="46.30" y1="376.50" x2="47.50" y2="376.50" stroke="#aaa" stroke-width="0.5"/>
<text x="45.80" y="377.60" font-size="3.2" fill="#666" text-anchor="end">0.0</text>
<line x1="46.30" y1="351.62" x2="47.50" y2="351.62" stroke="#aaa" stroke-width="0.5"/>
<text x="45.80" y="352.72" font-size="3.2" fill="#666" text-anchor="end">0.2</text>
<line x1="46.30" y1="326.74" x2="47.50" y2="326.74" stroke="#aaa" stroke-width="0.5"/>
<text x="45.80" y="327.84" font-size="3.2" fill="#666" text-anchor="end">0.4</text>
<line x1="46.30" y1="301.86" x2="47.50" y2="301.86" stroke="#aaa" stroke-width="0.5"/>
<text x="45.80" y="302.96" font-size="3.2" fill="#666" text-anchor="end">0.6</text>
<line x1="46.30" y1="276.98" x2="47.50" y2="276.98" stroke="#aaa" stroke-width="0.5"/>
<text x="45.80" y="278.08" font-size="3.2" fill="#666" text-anchor="end">0.8</text>
<line x1="46.30" y1="252.10" x2="47.50" y2="252.10" stroke="#aaa" stroke-width="0.5"/>
<text x="45.80" y="253.20" font-size="3.2" fill="#666" text-anchor="end">1.0</text>
<text x="39.40" y="309.20" font-size="8.6" fill="#2a2a2a" text-anchor="middle" textLength="81.10" lengthAdjust="spacingAndGlyphs" transform="rotate(-90 39.40 309.20)" stroke="#2a2a2a" stroke-width="0.26">Relative Abundance</text>
<rect x="51.60" y="374.01" width="5.10" height="2.49" fill="#1f77b4"/>
<rect x="51.60" y="333.96" width="5.10" height="40.06" fill="#ff7f0e"/>
<rect x="51.60" y="302.86" width="5.10" height="31.10" fill="#2ca02c"/>
<rect x="51.60" y="298.38" width="5.10" height="4.48" fill="#9467bd"/>
<rect x="51.60" y="293.15" width="5.10" height="5.22" fill="#8c564b"/>
<rect x="51.60" y="265.04" width="5.10" height="28.11" fill="#e377c2"/>
<rect x="51.60" y="263.92" width="5.10" height="1.12" fill="#7f7f7f"/>
<rect x="51.60" y="262.67" width="5.10" height="1.24" fill="#bcbd22"/>
<rect x="51.60" y="261.80" width="5.10" height="0.87" fill="#17becf"/>
<rect x="51.60" y="259.56" width="5.10" height="2.24" fill="#2ca02c"/>
<rect x="51.60" y="257.57" width="5.10" height="1.99" fill="#d62728"/>
<rect x="51.60" y="252.10" width="5.10" height="5.47" fill="#e377c2"/>
<rect x="57.87" y="374.51" width="5.10" height="1.99" fill="#1f77b4"/>
<rect x="57.87" y="305.47" width="5.10" height="69.04" fill="#ff7f0e"/>
<rect x="57.87" y="266.53" width="5.10" height="38.94" fill="#2ca02c"/>
<rect x="57.87" y="261.55" width="5.10" height="4.98" fill="#d62728"/>
<rect x="57.87" y="260.19" width="5.10" height="1.36" fill="#9467bd"/>
<rect x="57.87" y="258.92" width="5.10" height="1.27" fill="#8c564b"/>
<rect x="57.87" y="258.67" width="5.10" height="0.25" fill="#e377c2"/>
<rect x="57.87" y="257.90" width="5.10" height="0.78" fill="#7f7f7f"/>
<rect x="57.87" y="257.22" width="5.10" height="0.67" fill="#bcbd22"/>
<rect x="57.87" y="256.83" width="5.10" height="0.39" fill="#17becf"/>
<rect x="57.87" y="256.45" width="5.10" height="0.38" fill="#1f77b4"/>
<rect x="57.87" y="256.16" width="5.10" height="0.29" fill="#ff7f0e"/>
<rect x="57.87" y="255.73" width="5.10" height="0.43" fill="#2ca02c"/>
<rect x="57.87" y="255.49" width="5.10" height="0.25" fill="#d62728"/>
<rect x="57.87" y="255.33" width="5.10" height="0.15" fill="#9467bd"/>
<rect x="57.87" y="255.19" width="5.10" height="0.14" fill="#8c564b"/>
<rect x="57.87" y="252.10" width="5.10" height="3.09" fill="#e377c2"/>
<rect x="64.14" y="374.63" width="5.10" height="1.87" fill="#1f77b4"/>
<rect x="64.14" y="317.66" width="5.10" height="56.98" fill="#ff7f0e"/>
<rect x="64.14" y="270.88" width="5.10" height="46.77" fill="#2ca02c"/>
<rect x="64.14" y="265.04" width="5.10" height="5.85" fill="#d62728"/>
<rect x="64.14" y="263.35" width="5.10" height="1.69" fill="#9467bd"/>
<rect x="64.14" y="262.23" width="5.10" height="1.13" fill="#8c564b"/>
<rect x="64.14" y="261.69" width="5.10" height="0.53" fill="#e377c2"/>
<rect x="64.14" y="260.38" width="5.10" height="1.31" fill="#7f7f7f"/>
<rect x="64.14" y="259.36" width="5.10" height="1.02" fill="#bcbd22"/>
<rect x="64.14" y="258.65" width="5.10" height="0.71" fill="#17becf"/>
<rect x="64.14" y="257.99" width="5.10" height="0.67" fill="#1f77b4"/>
<rect x="64.14" y="257.62" width="5.10" height="0.37" fill="#ff7f0e"/>
<rect x="64.14" y="256.87" width="5.10" height="0.74" fill="#2ca02c"/>
<rect x="64.14" y="256.47" width="5.10" height="0.40" fill="#d62728"/>
<rect x="64.14" y="256.26" width="5.10" height="0.21" fill="#9467bd"/>
<rect x="64.14" y="256.13" width="5.10" height="0.13" fill="#8c564b"/>
<rect x="64.14" y="252.10" width="5.10" height="4.03" fill="#e377c2"/>
<rect x="70.41" y="375.01" width="5.10" height="1.49" fill="#1f77b4"/>
<rect x="70.41" y="309.95" width="5.10" height="65.06" fill="#ff7f0e"/>
<rect x="70.41" y="269.14" width="5.10" height="40.80" fill="#2ca02c"/>
<rect x="70.41" y="263.54" width="5.10" height="5.60" fill="#d62728"/>
<rect x="70.41" y="260.87" width="5.10" height="2.67" fill="#9467bd"/>
<rect x="70.41" y="259.92" width="5.10" height="0.95" fill="#8c564b"/>
<rect x="70.41" y="259.46" width="5.10" height="0.45" fill="#e377c2"/>
<rect x="70.41" y="258.51" width="5.10" height="0.95" fill="#7f7f7f"/>
<rect x="70.41" y="257.75" width="5.10" height="0.77" fill="#bcbd22"/>
<rect x="70.41" y="257.04" width="5.10" height="0.71" fill="#17becf"/>
<rect x="70.41" y="256.76" width="5.10" height="0.28" fill="#1f77b4"/>
<rect x="70.41" y="256.43" width="5.10" height="0.33" fill="#ff7f0e"/>
<rect x="70.41" y="256.04" width="5.10" height="0.39" fill="#2ca02c"/>
<rect x="70.41" y="255.55" width="5.10" height="0.49" fill="#d62728"/>
<rect x="70.41" y="255.31" width="5.10" height="0.24" fill="#9467bd"/>
<rect x="70.41" y="255.16" width="5.10" height="0.15" fill="#8c564b"/>
<rect x="70.41" y="252.10" width="5.10" height="3.06" fill="#e377c2"/>
<rect x="76.68" y="375.26" width="5.10" height="1.24" fill="#1f77b4"/>
<rect x="76.68" y="300.62" width="5.10" height="74.64" fill="#ff7f0e"/>
<rect x="76.68" y="266.90" width="5.10" height="33.71" fill="#2ca02c"/>
<rect x="76.68" y="262.55" width="5.10" height="4.35" fill="#d62728"/>
<rect x="76.68" y="260.91" width="5.10" height="1.64" fill="#9467bd"/>
<rect x="76.68" y="260.05" width="5.10" height="0.86" fill="#8c564b"/>
<rect x="76.68" y="259.62" width="5.10" height="0.42" fill="#e377c2"/>
<rect x="76.68" y="258.83" width="5.10" height="0.79" fill="#7f7f7f"/>
<rect x="76.68" y="258.29" width="5.10" height="0.54" fill="#bcbd22"/>
<rect x="76.68" y="257.71" width="5.10" height="0.58" fill="#17becf"/>
<rect x="76.68" y="257.36" width="5.10" height="0.35" fill="#1f77b4"/>
<rect x="76.68" y="256.83" width="5.10" height="0.53" fill="#ff7f0e"/>
<rect x="76.68" y="256.34" width="5.10" height="0.49" fill="#2ca02c"/>
<rect x="76.68" y="256.06" width="5.10" height="0.28" fill="#d62728"/>
<rect x="76.68" y="255.78" width="5.10" height="0.28" fill="#9467bd"/>
<rect x="76.68" y="255.68" width="5.10" height="0.09" fill="#8c564b"/>
<rect x="76.68" y="252.10" width="5.10" height="3.58" fill="#e377c2"/>
<rect x="82.95" y="375.38" width="5.10" height="1.12" fill="#1f77b4"/>
<rect x="82.95" y="309.70" width="5.10" height="65.68" fill="#ff7f0e"/>
<rect x="82.95" y="265.04" width="5.10" height="44.66" fill="#2ca02c"/>
<rect x="82.95" y="261.31" width="5.10" height="3.73" fill="#d62728"/>
<rect x="82.95" y="259.56" width="5.10" height="1.74" fill="#9467bd"/>
<rect x="82.95" y="258.94" width="5.10" height="0.63" fill="#8c564b"/>
<rect x="82.95" y="258.65" width="5.10" height="0.29" fill="#e377c2"/>
<rect x="82.95" y="258.28" width="5.10" height="0.37" fill="#7f7f7f"/>
<rect x="82.95" y="257.63" width="5.10" height="0.66" fill="#bcbd22"/>
<rect x="82.95" y="257.07" width="5.10" height="0.56" fill="#17becf"/>
<rect x="82.95" y="256.76" width="5.10" height="0.31" fill="#1f77b4"/>
<rect x="82.95" y="256.31" width="5.10" height="0.45" fill="#ff7f0e"/>
<rect x="82.95" y="256.01" width="5.10" height="0.30" fill="#2ca02c"/>
<rect x="82.95" y="255.68" width="5.10" height="0.33" fill="#d62728"/>
<rect x="82.95" y="255.49" width="5.10" height="0.19" fill="#9467bd"/>
<rect x="82.95" y="255.37" width="5.10" height="0.12" fill="#8c564b"/>
<rect x="82.95" y="252.10" width="5.10" height="3.27" fill="#e377c2"/>
<rect x="89.22" y="375.50" width="5.10" height="1.00" fill="#1f77b4"/>
<rect x="89.22" y="304.97" width="5.10" height="70.53" fill="#ff7f0e"/>
<rect x="89.22" y="265.41" width="5.10" height="39.56" fill="#2ca02c"/>
<rect x="89.22" y="262.55" width="5.10" height="2.86" fill="#d62728"/>
<rect x="89.22" y="260.58" width="5.10" height="1.97" fill="#9467bd"/>
<rect x="89.22" y="259.32" width="5.10" height="1.26" fill="#8c564b"/>
<rect x="89.22" y="259.02" width="5.10" height="0.30" fill="#e377c2"/>
<rect x="89.22" y="258.31" width="5.10" height="0.70" fill="#7f7f7f"/>
<rect x="89.22" y="257.91" width="5.10" height="0.40" fill="#bcbd22"/>
<rect x="89.22" y="257.34" width="5.10" height="0.58" fill="#17becf"/>
<rect x="89.22" y="256.99" width="5.10" height="0.35" fill="#1f77b4"/>
<rect x="89.22" y="256.47" width="5.10" height="0.52" fill="#ff7f0e"/>
<rect x="89.22" y="256.01" width="5.10" height="0.47" fill="#2ca02c"/>
<rect x="89.22" y="255.75" width="5.10" height="0.26" fill="#d62728"/>
<rect x="89.22" y="255.58" width="5.10" height="0.17" fill="#9467bd"/>
<rect x="89.22" y="255.44" width="5.10" height="0.14" fill="#8c564b"/>
<rect x="89.22" y="252.10" width="5.10" height="3.34" fill="#e377c2"/>
<rect x="95.49" y="375.63" width="5.10" height="0.87" fill="#1f77b4"/>
<rect x="95.49" y="310.57" width="5.10" height="65.06" fill="#ff7f0e"/>
<rect x="95.49" y="268.02" width="5.10" height="42.54" fill="#2ca02c"/>
<rect x="95.49" y="263.05" width="5.10" height="4.98" fill="#d62728"/>
<rect x="95.49" y="260.74" width="5.10" height="2.31" fill="#9467bd"/>
<rect x="95.49" y="259.69" width="5.10" height="1.05" fill="#8c564b"/>
<rect x="95.49" y="259.36" width="5.10" height="0.33" fill="#e377c2"/>
<rect x="95.49" y="258.75" width="5.10" height="0.62" fill="#7f7f7f"/>
<rect x="95.49" y="257.59" width="5.10" height="1.16" fill="#bcbd22"/>
<rect x="95.49" y="257.06" width="5.10" height="0.54" fill="#17becf"/>
<rect x="95.49" y="256.68" width="5.10" height="0.38" fill="#1f77b4"/>
<rect x="95.49" y="256.16" width="5.10" height="0.52" fill="#ff7f0e"/>
<rect x="95.49" y="255.42" width="5.10" height="0.74" fill="#2ca02c"/>
<rect x="95.49" y="255.10" width="5.10" height="0.32" fill="#d62728"/>
<rect x="95.49" y="254.83" width="5.10" height="0.27" fill="#9467bd"/>
<rect x="95.49" y="254.63" width="5.10" height="0.20" fill="#8c564b"/>
<rect x="95.49" y="252.10" width="5.10" height="2.53" fill="#e377c2"/>
<rect x="101.76" y="375.75" width="5.10" height="0.75" fill="#1f77b4"/>
<rect x="101.76" y="313.93" width="5.10" height="61.83" fill="#ff7f0e"/>
<rect x="101.76" y="265.04" width="5.10" height="48.89" fill="#2ca02c"/>
<rect x="101.76" y="261.31" width="5.10" height="3.73" fill="#d62728"/>
<rect x="101.76" y="259.82" width="5.10" height="1.48" fill="#9467bd"/>
<rect x="101.76" y="258.91" width="5.10" height="0.91" fill="#8c564b"/>
<rect x="101.76" y="258.72" width="5.10" height="0.19" fill="#e377c2"/>
<rect x="101.76" y="258.28" width="5.10" height="0.44" fill="#7f7f7f"/>
<rect x="101.76" y="257.86" width="5.10" height="0.42" fill="#bcbd22"/>
<rect x="101.76" y="257.36" width="5.10" height="0.49" fill="#17becf"/>
<rect x="101.76" y="257.04" width="5.10" height="0.32" fill="#1f77b4"/>
<rect x="101.76" y="256.84" width="5.10" height="0.20" fill="#ff7f0e"/>
<rect x="101.76" y="256.63" width="5.10" height="0.21" fill="#2ca02c"/>
<rect x="101.76" y="256.44" width="5.10" height="0.19" fill="#d62728"/>
<rect x="101.76" y="256.33" width="5.10" height="0.11" fill="#9467bd"/>
<rect x="101.76" y="256.24" width="5.10" height="0.09" fill="#8c564b"/>
<rect x="101.76" y="252.10" width="5.10" height="4.14" fill="#e377c2"/>
<rect x="108.03" y="375.75" width="5.10" height="0.75" fill="#1f77b4"/>
<rect x="108.03" y="304.97" width="5.10" height="70.78" fill="#ff7f0e"/>
<rect x="108.03" y="268.02" width="5.10" height="36.95" fill="#2ca02c"/>
<rect x="108.03" y="259.81" width="5.10" height="8.21" fill="#d62728"/>
<rect x="108.03" y="258.91" width="5.10" height="0.90" fill="#9467bd"/>
<rect x="108.03" y="258.51" width="5.10" height="0.40" fill="#8c564b"/>
<rect x="108.03" y="258.31" width="5.10" height="0.21" fill="#e377c2"/>
<rect x="108.03" y="257.91" width="5.10" height="0.40" fill="#7f7f7f"/>
<rect x="108.03" y="257.44" width="5.10" height="0.47" fill="#bcbd22"/>
<rect x="108.03" y="256.96" width="5.10" height="0.48" fill="#17becf"/>
<rect x="108.03" y="256.70" width="5.10" height="0.26" fill="#1f77b4"/>
<rect x="108.03" y="256.43" width="5.10" height="0.27" fill="#ff7f0e"/>
<rect x="108.03" y="256.14" width="5.10" height="0.29" fill="#2ca02c"/>
<rect x="108.03" y="255.89" width="5.10" height="0.25" fill="#d62728"/>
<rect x="108.03" y="255.80" width="5.10" height="0.09" fill="#9467bd"/>
<rect x="108.03" y="255.69" width="5.10" height="0.12" fill="#8c564b"/>
<rect x="108.03" y="252.10" width="5.10" height="3.59" fill="#e377c2"/>
<rect x="114.30" y="375.88" width="5.10" height="0.62" fill="#1f77b4"/>
<rect x="114.30" y="303.48" width="5.10" height="72.40" fill="#ff7f0e"/>
<rect x="114.30" y="266.53" width="5.10" height="36.95" fill="#2ca02c"/>
<rect x="114.30" y="260.81" width="5.10" height="5.72" fill="#d62728"/>
<rect x="114.30" y="259.26" width="5.10" height="1.55" fill="#9467bd"/>
<rect x="114.30" y="258.37" width="5.10" height="0.89" fill="#8c564b"/>
<rect x="114.30" y="258.15" width="5.10" height="0.22" fill="#e377c2"/>
<rect x="114.30" y="257.71" width="5.10" height="0.44" fill="#7f7f7f"/>
<rect x="114.30" y="257.39" width="5.10" height="0.33" fill="#bcbd22"/>
<rect x="114.30" y="256.97" width="5.10" height="0.42" fill="#17becf"/>
<rect x="114.30" y="256.81" width="5.10" height="0.16" fill="#1f77b4"/>
<rect x="114.30" y="256.62" width="5.10" height="0.19" fill="#ff7f0e"/>
<rect x="114.30" y="256.40" width="5.10" height="0.22" fill="#2ca02c"/>
<rect x="114.30" y="256.23" width="5.10" height="0.17" fill="#d62728"/>
<rect x="114.30" y="256.10" width="5.10" height="0.12" fill="#9467bd"/>
<rect x="114.30" y="256.04" width="5.10" height="0.06" fill="#8c564b"/>
<rect x="114.30" y="252.10" width="5.10" height="3.94" fill="#e377c2"/>
<rect x="120.57" y="375.88" width="5.10" height="0.62" fill="#1f77b4"/>
<rect x="120.57" y="312.93" width="5.10" height="62.95" fill="#ff7f0e"/>
<rect x="120.57" y="265.41" width="5.10" height="47.52" fill="#2ca02c"/>
<rect x="120.57" y="260.81" width="5.10" height="4.60" fill="#d62728"/>
<rect x="120.57" y="259.46" width="5.10" height="1.34" fill="#9467bd"/>
<rect x="120.57" y="258.70" width="5.10" height="0.76" fill="#8c564b"/>
<rect x="120.57" y="258.37" width="5.10" height="0.33" fill="#e377c2"/>
<rect x="120.57" y="257.91" width="5.10" height="0.46" fill="#7f7f7f"/>
<rect x="120.57" y="256.94" width="5.10" height="0.97" fill="#bcbd22"/>
<rect x="120.57" y="256.29" width="5.10" height="0.65" fill="#17becf"/>
<rect x="120.57" y="256.02" width="5.10" height="0.27" fill="#1f77b4"/>
<rect x="120.57" y="255.66" width="5.10" height="0.36" fill="#ff7f0e"/>
<rect x="120.57" y="255.27" width="5.10" height="0.39" fill="#2ca02c"/>
<rect x="120.57" y="254.94" width="5.10" height="0.33" fill="#d62728"/>
<rect x="120.57" y="254.78" width="5.10" height="0.16" fill="#9467bd"/>
<rect x="120.57" y="254.59" width="5.10" height="0.19" fill="#8c564b"/>
<rect x="120.57" y="252.10" width="5.10" height="2.49" fill="#e377c2"/>
<rect x="126.84" y="375.88" width="5.10" height="0.62" fill="#1f77b4"/>
<rect x="126.84" y="307.21" width="5.10" height="68.67" fill="#ff7f0e"/>
<rect x="126.84" y="265.78" width="5.10" height="41.43" fill="#2ca02c"/>
<rect x="126.84" y="263.05" width="5.10" height="2.74" fill="#d62728"/>
<rect x="126.84" y="261.27" width="5.10" height="1.78" fill="#9467bd"/>
<rect x="126.84" y="260.18" width="5.10" height="1.08" fill="#8c564b"/>
<rect x="126.84" y="259.94" width="5.10" height="0.24" fill="#e377c2"/>
<rect x="126.84" y="259.44" width="5.10" height="0.50" fill="#7f7f7f"/>
<rect x="126.84" y="258.80" width="5.10" height="0.64" fill="#bcbd22"/>
<rect x="126.84" y="258.32" width="5.10" height="0.48" fill="#17becf"/>
<rect x="126.84" y="257.86" width="5.10" height="0.46" fill="#1f77b4"/>
<rect x="126.84" y="257.54" width="5.10" height="0.32" fill="#ff7f0e"/>
<rect x="126.84" y="257.27" width="5.10" height="0.27" fill="#2ca02c"/>
<rect x="126.84" y="256.77" width="5.10" height="0.50" fill="#d62728"/>
<rect x="126.84" y="256.55" width="5.10" height="0.22" fill="#9467bd"/>
<rect x="126.84" y="256.44" width="5.10" height="0.11" fill="#8c564b"/>
<rect x="126.84" y="252.10" width="5.10" height="4.34" fill="#e377c2"/>
<rect x="133.11" y="375.88" width="5.10" height="0.62" fill="#1f77b4"/>
<rect x="133.11" y="313.43" width="5.10" height="62.45" fill="#ff7f0e"/>
<rect x="133.11" y="270.51" width="5.10" height="42.92" fill="#2ca02c"/>
<rect x="133.11" y="263.54" width="5.10" height="6.97" fill="#d62728"/>
<rect x="133.11" y="262.25" width="5.10" height="1.29" fill="#9467bd"/>
<rect x="133.11" y="260.97" width="5.10" height="1.28" fill="#8c564b"/>
<rect x="133.11" y="260.40" width="5.10" height="0.58" fill="#e377c2"/>
<rect x="133.11" y="259.33" width="5.10" height="1.07" fill="#7f7f7f"/>
<rect x="133.11" y="258.36" width="5.10" height="0.96" fill="#bcbd22"/>
<rect x="133.11" y="257.82" width="5.10" height="0.54" fill="#17becf"/>
<rect x="133.11" y="257.45" width="5.10" height="0.37" fill="#1f77b4"/>
<rect x="133.11" y="257.09" width="5.10" height="0.37" fill="#ff7f0e"/>
<rect x="133.11" y="256.48" width="5.10" height="0.61" fill="#2ca02c"/>
<rect x="133.11" y="256.05" width="5.10" height="0.43" fill="#d62728"/>
<rect x="133.11" y="255.75" width="5.10" height="0.31" fill="#9467bd"/>
<rect x="133.11" y="255.60" width="5.10" height="0.14" fill="#8c564b"/>
<rect x="133.11" y="252.10" width="5.10" height="3.50" fill="#e377c2"/>
<rect x="139.38" y="375.88" width="5.10" height="0.62" fill="#1f77b4"/>
<rect x="139.38" y="307.96" width="5.10" height="67.92" fill="#ff7f0e"/>
<rect x="139.38" y="273.87" width="5.10" height="34.09" fill="#2ca02c"/>
<rect x="139.38" y="262.55" width="5.10" height="11.32" fill="#d62728"/>
<rect x="139.38" y="260.50" width="5.10" height="2.05" fill="#9467bd"/>
<rect x="139.38" y="259.13" width="5.10" height="1.37" fill="#8c564b"/>
<rect x="139.38" y="258.71" width="5.10" height="0.42" fill="#e377c2"/>
<rect x="139.38" y="257.89" width="5.10" height="0.82" fill="#7f7f7f"/>
<rect x="139.38" y="257.07" width="5.10" height="0.82" fill="#bcbd22"/>
<rect x="139.38" y="256.44" width="5.10" height="0.63" fill="#17becf"/>
<rect x="139.38" y="256.19" width="5.10" height="0.26" fill="#1f77b4"/>
<rect x="139.38" y="255.79" width="5.10" height="0.40" fill="#ff7f0e"/>
<rect x="139.38" y="255.44" width="5.10" height="0.35" fill="#2ca02c"/>
<rect x="139.38" y="255.23" width="5.10" height="0.20" fill="#d62728"/>
<rect x="139.38" y="255.11" width="5.10" height="0.12" fill="#9467bd"/>
<rect x="139.38" y="255.00" width="5.10" height="0.11" fill="#8c564b"/>
<rect x="139.38" y="252.10" width="5.10" height="2.90" fill="#e377c2"/>
<rect x="145.65" y="375.88" width="5.10" height="0.62" fill="#1f77b4"/>
<rect x="145.65" y="309.70" width="5.10" height="66.18" fill="#ff7f0e"/>
<rect x="145.65" y="271.38" width="5.10" height="38.32" fill="#2ca02c"/>
<rect x="145.65" y="262.80" width="5.10" height="8.58" fill="#d62728"/>
<rect x="145.65" y="260.85" width="5.10" height="1.95" fill="#9467bd"/>
<rect x="145.65" y="259.47" width="5.10" height="1.38" fill="#8c564b"/>
<rect x="145.65" y="259.15" width="5.10" height="0.32" fill="#e377c2"/>
<rect x="145.65" y="258.24" width="5.10" height="0.91" fill="#7f7f7f"/>
<rect x="145.65" y="257.30" width="5.10" height="0.94" fill="#bcbd22"/>
<rect x="145.65" y="256.56" width="5.10" height="0.74" fill="#17becf"/>
<rect x="145.65" y="256.26" width="5.10" height="0.30" fill="#1f77b4"/>
<rect x="145.65" y="255.95" width="5.10" height="0.31" fill="#ff7f0e"/>
<rect x="145.65" y="255.63" width="5.10" height="0.32" fill="#2ca02c"/>
<rect x="145.65" y="255.37" width="5.10" height="0.26" fill="#d62728"/>
<rect x="145.65" y="255.22" width="5.10" height="0.15" fill="#9467bd"/>
<rect x="145.65" y="255.07" width="5.10" height="0.15" fill="#8c564b"/>
<rect x="145.65" y="252.10" width="5.10" height="2.97" fill="#e377c2"/>
<rect x="157.90" y="375.88" width="5.10" height="0.62" fill="#1f77b4"/>
<rect x="157.90" y="305.97" width="5.10" height="69.91" fill="#ff7f0e"/>
<rect x="157.90" y="264.54" width="5.10" height="41.43" fill="#2ca02c"/>
<rect x="157.90" y="261.06" width="5.10" height="3.48" fill="#d62728"/>
<rect x="157.90" y="259.69" width="5.10" height="1.37" fill="#9467bd"/>
<rect x="157.90" y="259.05" width="5.10" height="0.64" fill="#8c564b"/>
<rect x="157.90" y="258.81" width="5.10" height="0.24" fill="#e377c2"/>
<rect x="157.90" y="258.27" width="5.10" height="0.53" fill="#7f7f7f"/>
<rect x="157.90" y="257.98" width="5.10" height="0.29" fill="#bcbd22"/>
<rect x="157.90" y="257.60" width="5.10" height="0.39" fill="#17becf"/>
<rect x="157.90" y="257.31" width="5.10" height="0.29" fill="#1f77b4"/>
<rect x="157.90" y="256.99" width="5.10" height="0.32" fill="#ff7f0e"/>
<rect x="157.90" y="256.68" width="5.10" height="0.31" fill="#2ca02c"/>
<rect x="157.90" y="256.47" width="5.10" height="0.21" fill="#d62728"/>
<rect x="157.90" y="256.37" width="5.10" height="0.10" fill="#9467bd"/>
<rect x="157.90" y="256.27" width="5.10" height="0.11" fill="#8c564b"/>
<rect x="157.90" y="252.10" width="5.10" height="4.17" fill="#e377c2"/>
<rect x="164.13" y="375.88" width="5.10" height="0.62" fill="#1f77b4"/>
<rect x="164.13" y="315.92" width="5.10" height="59.96" fill="#ff7f0e"/>
<rect x="164.13" y="271.76" width="5.10" height="44.16" fill="#2ca02c"/>
<rect x="164.13" y="264.04" width="5.10" height="7.71" fill="#d62728"/>
<rect x="164.13" y="261.61" width="5.10" height="2.44" fill="#9467bd"/>
<rect x="164.13" y="259.98" width="5.10" height="1.62" fill="#8c564b"/>
<rect x="164.13" y="259.62" width="5.10" height="0.36" fill="#e377c2"/>
<rect x="164.13" y="258.90" width="5.10" height="0.72" fill="#7f7f7f"/>
<rect x="164.13" y="257.83" width="5.10" height="1.07" fill="#bcbd22"/>
<rect x="164.13" y="257.09" width="5.10" height="0.74" fill="#17becf"/>
<rect x="164.13" y="256.80" width="5.10" height="0.29" fill="#1f77b4"/>
<rect x="164.13" y="256.47" width="5.10" height="0.33" fill="#ff7f0e"/>
<rect x="164.13" y="256.13" width="5.10" height="0.34" fill="#2ca02c"/>
<rect x="164.13" y="255.61" width="5.10" height="0.52" fill="#d62728"/>
<rect x="164.13" y="255.32" width="5.10" height="0.29" fill="#9467bd"/>
<rect x="164.13" y="255.21" width="5.10" height="0.11" fill="#8c564b"/>
<rect x="164.13" y="252.10" width="5.10" height="3.11" fill="#e377c2"/>
<rect x="170.36" y="375.88" width="5.10" height="0.62" fill="#1f77b4"/>
<rect x="170.36" y="309.82" width="5.10" height="66.06" fill="#ff7f0e"/>
<rect x="170.36" y="274.74" width="5.10" height="35.08" fill="#2ca02c"/>
<rect x="170.36" y="268.65" width="5.10" height="6.10" fill="#d62728"/>
<rect x="170.36" y="264.71" width="5.10" height="3.93" fill="#9467bd"/>
<rect x="170.36" y="262.79" width="5.10" height="1.92" fill="#8c564b"/>
<rect x="170.36" y="262.29" width="5.10" height="0.50" fill="#e377c2"/>
<rect x="170.36" y="261.11" width="5.10" height="1.18" fill="#7f7f7f"/>
<rect x="170.36" y="260.31" width="5.10" height="0.80" fill="#bcbd22"/>
<rect x="170.36" y="259.76" width="5.10" height="0.56" fill="#17becf"/>
<rect x="170.36" y="258.97" width="5.10" height="0.78" fill="#1f77b4"/>
<rect x="170.36" y="258.21" width="5.10" height="0.76" fill="#ff7f0e"/>
<rect x="170.36" y="257.51" width="5.10" height="0.70" fill="#2ca02c"/>
<rect x="170.36" y="256.75" width="5.10" height="0.77" fill="#d62728"/>
<rect x="170.36" y="256.43" width="5.10" height="0.32" fill="#9467bd"/>
<rect x="170.36" y="256.13" width="5.10" height="0.29" fill="#8c564b"/>
<rect x="170.36" y="252.10" width="5.10" height="4.03" fill="#e377c2"/>
<rect x="176.59" y="375.88" width="5.10" height="0.62" fill="#1f77b4"/>
<rect x="176.59" y="302.48" width="5.10" height="73.40" fill="#ff7f0e"/>
<rect x="176.59" y="264.04" width="5.10" height="38.44" fill="#2ca02c"/>
<rect x="176.59" y="258.69" width="5.10" height="5.35" fill="#d62728"/>
<rect x="176.59" y="258.13" width="5.10" height="0.57" fill="#9467bd"/>
<rect x="176.59" y="257.77" width="5.10" height="0.36" fill="#8c564b"/>
<rect x="176.59" y="257.65" width="5.10" height="0.12" fill="#e377c2"/>
<rect x="176.59" y="257.41" width="5.10" height="0.23" fill="#7f7f7f"/>
<rect x="176.59" y="257.10" width="5.10" height="0.32" fill="#bcbd22"/>
<rect x="176.59" y="256.91" width="5.10" height="0.19" fill="#17becf"/>
<rect x="176.59" y="256.77" width="5.10" height="0.14" fill="#1f77b4"/>
<rect x="176.59" y="256.64" width="5.10" height="0.12" fill="#ff7f0e"/>
<rect x="176.59" y="256.41" width="5.10" height="0.24" fill="#2ca02c"/>
<rect x="176.59" y="256.28" width="5.10" height="0.13" fill="#d62728"/>
<rect x="176.59" y="256.19" width="5.10" height="0.09" fill="#9467bd"/>
<rect x="176.59" y="256.13" width="5.10" height="0.06" fill="#8c564b"/>
<rect x="176.59" y="252.10" width="5.10" height="4.03" fill="#e377c2"/>
<rect x="182.82" y="375.88" width="5.10" height="0.62" fill="#1f77b4"/>
<rect x="182.82" y="303.73" width="5.10" height="72.15" fill="#ff7f0e"/>
<rect x="182.82" y="261.80" width="5.10" height="41.92" fill="#2ca02c"/>
<rect x="182.82" y="258.07" width="5.10" height="3.73" fill="#d62728"/>
<rect x="182.82" y="257.64" width="5.10" height="0.43" fill="#9467bd"/>
<rect x="182.82" y="257.27" width="5.10" height="0.37" fill="#8c564b"/>
<rect x="182.82" y="257.17" width="5.10" height="0.09" fill="#e377c2"/>
<rect x="182.82" y="256.98" width="5.10" height="0.19" fill="#7f7f7f"/>
<rect x="182.82" y="256.80" width="5.10" height="0.19" fill="#bcbd22"/>
<rect x="182.82" y="256.71" width="5.10" height="0.09" fill="#17becf"/>
<rect x="182.82" y="256.62" width="5.10" height="0.09" fill="#1f77b4"/>
<rect x="182.82" y="256.53" width="5.10" height="0.08" fill="#ff7f0e"/>
<rect x="182.82" y="256.47" width="5.10" height="0.07" fill="#2ca02c"/>
<rect x="182.82" y="256.35" width="5.10" height="0.11" fill="#d62728"/>
<rect x="182.82" y="256.31" width="5.10" height="0.04" fill="#9467bd"/>
<rect x="182.82" y="256.28" width="5.10" height="0.04" fill="#8c564b"/>
<rect x="182.82" y="252.10" width="5.10" height="4.18" fill="#e377c2"/>
<rect x="189.05" y="375.88" width="5.10" height="0.62" fill="#1f77b4"/>
<rect x="189.05" y="299.12" width="5.10" height="76.75" fill="#ff7f0e"/>
<rect x="189.05" y="263.05" width="5.10" height="36.08" fill="#2ca02c"/>
<rect x="189.05" y="260.19" width="5.10" height="2.86" fill="#d62728"/>
<rect x="189.05" y="259.06" width="5.10" height="1.13" fill="#9467bd"/>
<rect x="189.05" y="258.50" width="5.10" height="0.56" fill="#8c564b"/>
<rect x="189.05" y="258.28" width="5.10" height="0.22" fill="#e377c2"/>
<rect x="189.05" y="257.83" width="5.10" height="0.45" fill="#7f7f7f"/>
<rect x="189.05" y="257.31" width="5.10" height="0.53" fill="#bcbd22"/>
<rect x="189.05" y="257.07" width="5.10" height="0.24" fill="#17becf"/>
<rect x="189.05" y="256.84" width="5.10" height="0.23" fill="#1f77b4"/>
<rect x="189.05" y="256.64" width="5.10" height="0.21" fill="#ff7f0e"/>
<rect x="189.05" y="256.42" width="5.10" height="0.21" fill="#2ca02c"/>
<rect x="189.05" y="256.16" width="5.10" height="0.26" fill="#d62728"/>
<rect x="189.05" y="256.03" width="5.10" height="0.13" fill="#9467bd"/>
<rect x="189.05" y="255.94" width="5.10" height="0.09" fill="#8c564b"/>
<rect x="189.05" y="252.10" width="5.10" height="3.84" fill="#e377c2"/>
<rect x="195.28" y="375.88" width="5.10" height="0.62" fill="#1f77b4"/>
<rect x="195.28" y="302.86" width="5.10" height="73.02" fill="#ff7f0e"/>
<rect x="195.28" y="266.78" width="5.10" height="36.08" fill="#2ca02c"/>
<rect x="195.28" y="264.04" width="5.10" height="2.74" fill="#d62728"/>
<rect x="195.28" y="261.66" width="5.10" height="2.38" fill="#9467bd"/>
<rect x="195.28" y="260.63" width="5.10" height="1.03" fill="#8c564b"/>
<rect x="195.28" y="260.24" width="5.10" height="0.39" fill="#e377c2"/>
<rect x="195.28" y="259.52" width="5.10" height="0.72" fill="#7f7f7f"/>
<rect x="195.28" y="258.80" width="5.10" height="0.72" fill="#bcbd22"/>
<rect x="195.28" y="258.14" width="5.10" height="0.66" fill="#17becf"/>
<rect x="195.28" y="257.79" width="5.10" height="0.34" fill="#1f77b4"/>
<rect x="195.28" y="257.35" width="5.10" height="0.44" fill="#ff7f0e"/>
<rect x="195.28" y="256.93" width="5.10" height="0.42" fill="#2ca02c"/>
<rect x="195.28" y="256.44" width="5.10" height="0.49" fill="#d62728"/>
<rect x="195.28" y="256.19" width="5.10" height="0.25" fill="#9467bd"/>
<rect x="195.28" y="256.01" width="5.10" height="0.19" fill="#8c564b"/>
<rect x="195.28" y="252.10" width="5.10" height="3.91" fill="#e377c2"/>
<rect x="201.51" y="375.88" width="5.10" height="0.62" fill="#1f77b4"/>
<rect x="201.51" y="308.33" width="5.10" height="67.55" fill="#ff7f0e"/>
<rect x="201.51" y="266.78" width="5.10" height="41.55" fill="#2ca02c"/>
<rect x="201.51" y="264.04" width="5.10" height="2.74" fill="#d62728"/>
<rect x="201.51" y="262.33" width="5.10" height="1.71" fill="#9467bd"/>
<rect x="201.51" y="261.00" width="5.10" height="1.33" fill="#8c564b"/>
<rect x="201.51" y="260.42" width="5.10" height="0.57" fill="#e377c2"/>
<rect x="201.51" y="259.34" width="5.10" height="1.08" fill="#7f7f7f"/>
<rect x="201.51" y="258.74" width="5.10" height="0.60" fill="#bcbd22"/>
<rect x="201.51" y="258.27" width="5.10" height="0.47" fill="#17becf"/>
<rect x="201.51" y="257.86" width="5.10" height="0.40" fill="#1f77b4"/>
<rect x="201.51" y="257.53" width="5.10" height="0.34" fill="#ff7f0e"/>
<rect x="201.51" y="257.12" width="5.10" height="0.40" fill="#2ca02c"/>
<rect x="201.51" y="256.84" width="5.10" height="0.28" fill="#d62728"/>
<rect x="201.51" y="256.55" width="5.10" height="0.29" fill="#9467bd"/>
<rect x="201.51" y="256.35" width="5.10" height="0.21" fill="#8c564b"/>
<rect x="201.51" y="252.10" width="5.10" height="4.25" fill="#e377c2"/>
<rect x="207.74" y="375.88" width="5.10" height="0.62" fill="#1f77b4"/>
<rect x="207.74" y="315.05" width="5.10" height="60.83" fill="#ff7f0e"/>
<rect x="207.74" y="268.65" width="5.10" height="46.40" fill="#2ca02c"/>
<rect x="207.74" y="260.19" width="5.10" height="8.46" fill="#d62728"/>
<rect x="207.74" y="259.49" width="5.10" height="0.70" fill="#9467bd"/>
<rect x="207.74" y="258.81" width="5.10" height="0.68" fill="#8c564b"/>
<rect x="207.74" y="258.59" width="5.10" height="0.22" fill="#e377c2"/>
<rect x="207.74" y="258.32" width="5.10" height="0.28" fill="#7f7f7f"/>
<rect x="207.74" y="257.81" width="5.10" height="0.50" fill="#bcbd22"/>
<rect x="207.74" y="257.39" width="5.10" height="0.42" fill="#17becf"/>
<rect x="207.74" y="257.24" width="5.10" height="0.15" fill="#1f77b4"/>
<rect x="207.74" y="256.92" width="5.10" height="0.32" fill="#ff7f0e"/>
<rect x="207.74" y="256.71" width="5.10" height="0.21" fill="#2ca02c"/>
<rect x="207.74" y="256.52" width="5.10" height="0.19" fill="#d62728"/>
<rect x="207.74" y="256.36" width="5.10" height="0.16" fill="#9467bd"/>
<rect x="207.74" y="256.26" width="5.10" height="0.10" fill="#8c564b"/>
<rect x="207.74" y="252.10" width="5.10" height="4.16" fill="#e377c2"/>
<rect x="213.97" y="375.88" width="5.10" height="0.62" fill="#1f77b4"/>
<rect x="213.97" y="320.02" width="5.10" height="55.86" fill="#ff7f0e"/>
<rect x="213.97" y="269.76" width="5.10" height="50.26" fill="#2ca02c"/>
<rect x="213.97" y="265.66" width="5.10" height="4.11" fill="#d62728"/>
<rect x="213.97" y="262.88" width="5.10" height="2.78" fill="#9467bd"/>
<rect x="213.97" y="261.10" width="5.10" height="1.79" fill="#8c564b"/>
<rect x="213.97" y="260.58" width="5.10" height="0.51" fill="#e377c2"/>
<rect x="213.97" y="259.70" width="5.10" height="0.89" fill="#7f7f7f"/>
<rect x="213.97" y="258.69" width="5.10" height="1.00" fill="#bcbd22"/>
<rect x="213.97" y="257.58" width="5.10" height="1.11" fill="#17becf"/>
<rect x="213.97" y="257.22" width="5.10" height="0.36" fill="#1f77b4"/>
<rect x="213.97" y="256.49" width="5.10" height="0.74" fill="#ff7f0e"/>
<rect x="213.97" y="255.81" width="5.10" height="0.67" fill="#2ca02c"/>
<rect x="213.97" y="255.45" width="5.10" height="0.36" fill="#d62728"/>
<rect x="213.97" y="255.15" width="5.10" height="0.31" fill="#9467bd"/>
<rect x="213.97" y="254.89" width="5.10" height="0.26" fill="#8c564b"/>
<rect x="213.97" y="252.10" width="5.10" height="2.79" fill="#e377c2"/>
<rect x="220.20" y="375.88" width="5.10" height="0.62" fill="#1f77b4"/>
<rect x="220.20" y="305.47" width="5.10" height="70.41" fill="#ff7f0e"/>
<rect x="220.20" y="263.67" width="5.10" height="41.80" fill="#2ca02c"/>
<rect x="220.20" y="260.19" width="5.10" height="3.48" fill="#d62728"/>
<rect x="220.20" y="259.39" width="5.10" height="0.80" fill="#9467bd"/>
<rect x="220.20" y="258.37" width="5.10" height="1.02" fill="#8c564b"/>
<rect x="220.20" y="258.07" width="5.10" height="0.30" fill="#e377c2"/>
<rect x="220.20" y="257.39" width="5.10" height="0.67" fill="#7f7f7f"/>
<rect x="220.20" y="257.06" width="5.10" height="0.34" fill="#bcbd22"/>
<rect x="220.20" y="256.74" width="5.10" height="0.32" fill="#17becf"/>
<rect x="220.20" y="256.58" width="5.10" height="0.15" fill="#1f77b4"/>
<rect x="220.20" y="256.22" width="5.10" height="0.36" fill="#ff7f0e"/>
<rect x="220.20" y="255.98" width="5.10" height="0.24" fill="#2ca02c"/>
<rect x="220.20" y="255.81" width="5.10" height="0.17" fill="#d62728"/>
<rect x="220.20" y="255.67" width="5.10" height="0.14" fill="#9467bd"/>
<rect x="220.20" y="255.54" width="5.10" height="0.13" fill="#8c564b"/>
<rect x="220.20" y="252.10" width="5.10" height="3.44" fill="#e377c2"/>
<rect x="226.43" y="375.88" width="5.10" height="0.62" fill="#1f77b4"/>
<rect x="226.43" y="309.32" width="5.10" height="66.55" fill="#ff7f0e"/>
<rect x="226.43" y="268.15" width="5.10" height="41.18" fill="#2ca02c"/>
<rect x="226.43" y="264.04" width="5.10" height="4.11" fill="#d62728"/>
<rect x="226.43" y="262.28" width="5.10" height="1.77" fill="#9467bd"/>
<rect x="226.43" y="261.33" width="5.10" height="0.95" fill="#8c564b"/>
<rect x="226.43" y="260.75" width="5.10" height="0.58" fill="#e377c2"/>
<rect x="226.43" y="259.82" width="5.10" height="0.93" fill="#7f7f7f"/>
<rect x="226.43" y="258.80" width="5.10" height="1.02" fill="#bcbd22"/>
<rect x="226.43" y="258.33" width="5.10" height="0.47" fill="#17becf"/>
<rect x="226.43" y="258.05" width="5.10" height="0.28" fill="#1f77b4"/>
<rect x="226.43" y="257.45" width="5.10" height="0.60" fill="#ff7f0e"/>
<rect x="226.43" y="256.95" width="5.10" height="0.49" fill="#2ca02c"/>
<rect x="226.43" y="256.67" width="5.10" height="0.29" fill="#d62728"/>
<rect x="226.43" y="256.31" width="5.10" height="0.35" fill="#9467bd"/>
<rect x="226.43" y="256.12" width="5.10" height="0.19" fill="#8c564b"/>
<rect x="226.43" y="252.10" width="5.10" height="4.02" fill="#e377c2"/>
<rect x="232.66" y="375.88" width="5.10" height="0.62" fill="#1f77b4"/>
<rect x="232.66" y="302.48" width="5.10" height="73.40" fill="#ff7f0e"/>
<rect x="232.66" y="260.56" width="5.10" height="41.92" fill="#2ca02c"/>
<rect x="232.66" y="258.07" width="5.10" height="2.49" fill="#d62728"/>
<rect x="232.66" y="257.72" width="5.10" height="0.35" fill="#9467bd"/>
<rect x="232.66" y="257.32" width="5.10" height="0.40" fill="#8c564b"/>
<rect x="232.66" y="257.25" width="5.10" height="0.07" fill="#e377c2"/>
<rect x="232.66" y="256.98" width="5.10" height="0.27" fill="#7f7f7f"/>
<rect x="232.66" y="256.78" width="5.10" height="0.20" fill="#bcbd22"/>
<rect x="232.66" y="256.63" width="5.10" height="0.15" fill="#17becf"/>
<rect x="232.66" y="256.53" width="5.10" height="0.11" fill="#1f77b4"/>
<rect x="232.66" y="256.36" width="5.10" height="0.17" fill="#ff7f0e"/>
<rect x="232.66" y="256.25" width="5.10" height="0.10" fill="#2ca02c"/>
<rect x="232.66" y="256.18" width="5.10" height="0.07" fill="#d62728"/>
<rect x="232.66" y="256.12" width="5.10" height="0.06" fill="#9467bd"/>
<rect x="232.66" y="256.08" width="5.10" height="0.03" fill="#8c564b"/>
<rect x="232.66" y="252.10" width="5.10" height="3.98" fill="#e377c2"/>
<rect x="238.89" y="375.88" width="5.10" height="0.62" fill="#1f77b4"/>
<rect x="238.89" y="301.74" width="5.10" height="74.14" fill="#ff7f0e"/>
<rect x="238.89" y="261.06" width="5.10" height="40.68" fill="#2ca02c"/>
<rect x="238.89" y="256.45" width="5.10" height="4.60" fill="#d62728"/>
<rect x="238.89" y="256.08" width="5.10" height="0.38" fill="#9467bd"/>
<rect x="238.89" y="255.88" width="5.10" height="0.20" fill="#8c564b"/>
<rect x="238.89" y="255.80" width="5.10" height="0.08" fill="#e377c2"/>
<rect x="238.89" y="255.63" width="5.10" height="0.17" fill="#7f7f7f"/>
<rect x="238.89" y="255.45" width="5.10" height="0.17" fill="#bcbd22"/>
<rect x="238.89" y="255.25" width="5.10" height="0.20" fill="#17becf"/>
<rect x="238.89" y="255.17" width="5.10" height="0.09" fill="#1f77b4"/>
<rect x="238.89" y="255.05" width="5.10" height="0.12" fill="#ff7f0e"/>
<rect x="238.89" y="254.95" width="5.10" height="0.09" fill="#2ca02c"/>
<rect x="238.89" y="254.86" width="5.10" height="0.09" fill="#d62728"/>
<rect x="238.89" y="254.83" width="5.10" height="0.04" fill="#9467bd"/>
<rect x="238.89" y="254.79" width="5.10" height="0.03" fill="#8c564b"/>
<rect x="238.89" y="252.10" width="5.10" height="2.69" fill="#e377c2"/>
<rect x="245.12" y="375.88" width="5.10" height="0.62" fill="#1f77b4"/>
<rect x="245.12" y="310.94" width="5.10" height="64.94" fill="#ff7f0e"/>
<rect x="245.12" y="265.66" width="5.10" height="45.28" fill="#2ca02c"/>
<rect x="245.12" y="261.80" width="5.10" height="3.86" fill="#d62728"/>
<rect x="245.12" y="259.81" width="5.10" height="2.00" fill="#9467bd"/>
<rect x="245.12" y="258.76" width="5.10" height="1.05" fill="#8c564b"/>
<rect x="245.12" y="258.50" width="5.10" height="0.25" fill="#e377c2"/>
<rect x="245.12" y="257.84" width="5.10" height="0.66" fill="#7f7f7f"/>
<rect x="245.12" y="256.94" width="5.10" height="0.91" fill="#bcbd22"/>
<rect x="245.12" y="256.57" width="5.10" height="0.37" fill="#17becf"/>
<rect x="245.12" y="256.15" width="5.10" height="0.42" fill="#1f77b4"/>
<rect x="245.12" y="255.77" width="5.10" height="0.38" fill="#ff7f0e"/>
<rect x="245.12" y="255.36" width="5.10" height="0.40" fill="#2ca02c"/>
<rect x="245.12" y="254.94" width="5.10" height="0.43" fill="#d62728"/>
<rect x="245.12" y="254.75" width="5.10" height="0.18" fill="#9467bd"/>
<rect x="245.12" y="254.62" width="5.10" height="0.14" fill="#8c564b"/>
<rect x="245.12" y="252.10" width="5.10" height="2.52" fill="#e377c2"/>
<rect x="251.35" y="375.88" width="5.10" height="0.62" fill="#1f77b4"/>
<rect x="251.35" y="313.93" width="5.10" height="61.95" fill="#ff7f0e"/>
<rect x="251.35" y="265.66" width="5.10" height="48.27" fill="#2ca02c"/>
<rect x="251.35" y="259.56" width="5.10" height="6.10" fill="#d62728"/>
<rect x="251.35" y="258.35" width="5.10" height="1.22" fill="#9467bd"/>
<rect x="251.35" y="257.89" width="5.10" height="0.46" fill="#8c564b"/>
<rect x="251.35" y="257.66" width="5.10" height="0.22" fill="#e377c2"/>
<rect x="251.35" y="257.26" width="5.10" height="0.41" fill="#7f7f7f"/>
<rect x="251.35" y="256.87" width="5.10" height="0.39" fill="#bcbd22"/>
<rect x="251.35" y="256.61" width="5.10" height="0.26" fill="#17becf"/>
<rect x="251.35" y="256.45" width="5.10" height="0.15" fill="#1f77b4"/>
<rect x="251.35" y="256.32" width="5.10" height="0.14" fill="#ff7f0e"/>
<rect x="251.35" y="256.17" width="5.10" height="0.15" fill="#2ca02c"/>
<rect x="251.35" y="256.05" width="5.10" height="0.12" fill="#d62728"/>
<rect x="251.35" y="255.93" width="5.10" height="0.13" fill="#9467bd"/>
<rect x="251.35" y="255.87" width="5.10" height="0.06" fill="#8c564b"/>
<rect x="251.35" y="252.10" width="5.10" height="3.77" fill="#e377c2"/>
<text x="54.95" y="378.80" font-size="2.7" fill="#777" text-anchor="end" transform="rotate(-90 54.95 378.80)">BLCDS_3</text>
<text x="61.22" y="378.80" font-size="2.7" fill="#777" text-anchor="end" transform="rotate(-90 61.22 378.80)">BLCDS_4</text>
<text x="67.49" y="378.80" font-size="2.7" fill="#777" text-anchor="end" transform="rotate(-90 67.49 378.80)">BLCDS_5</text>
<text x="73.76" y="378.80" font-size="2.7" fill="#777" text-anchor="end" transform="rotate(-90 73.76 378.80)">BLCDS_6</text>
<text x="80.03" y="378.80" font-size="2.7" fill="#777" text-anchor="end" transform="rotate(-90 80.03 378.80)">BLCDS_7</text>
<text x="86.30" y="378.80" font-size="2.7" fill="#777" text-anchor="end" transform="rotate(-90 86.30 378.80)">BLCDS_8</text>
<text x="92.57" y="378.80" font-size="2.7" fill="#777" text-anchor="end" transform="rotate(-90 92.57 378.80)">BLCDS_9</text>
<text x="98.84" y="378.80" font-size="2.7" fill="#777" text-anchor="end" transform="rotate(-90 98.84 378.80)">BLCDS_10</text>
<text x="105.11" y="378.80" font-size="2.7" fill="#777" text-anchor="end" transform="rotate(-90 105.11 378.80)">BLCDS_11</text>
<text x="111.38" y="378.80" font-size="2.7" fill="#777" text-anchor="end" transform="rotate(-90 111.38 378.80)">BLCDS_12</text>
<text x="117.65" y="378.80" font-size="2.7" fill="#777" text-anchor="end" transform="rotate(-90 117.65 378.80)">BLCDS_13</text>
<text x="123.92" y="378.80" font-size="2.7" fill="#777" text-anchor="end" transform="rotate(-90 123.92 378.80)">BLCDS_14</text>
<text x="130.19" y="378.80" font-size="2.7" fill="#777" text-anchor="end" transform="rotate(-90 130.19 378.80)">BLCDS_15</text>
<text x="136.46" y="378.80" font-size="2.7" fill="#777" text-anchor="end" transform="rotate(-90 136.46 378.80)">BLCDS_16</text>
<text x="142.73" y="378.80" font-size="2.7" fill="#777" text-anchor="end" transform="rotate(-90 142.73 378.80)">BLCDS_17</text>
<text x="149.00" y="378.80" font-size="2.7" fill="#777" text-anchor="end" transform="rotate(-90 149.00 378.80)">BLCDS_18</text>
<text x="161.25" y="378.80" font-size="2.7" fill="#777" text-anchor="end" transform="rotate(-90 161.25 378.80)">BLCDS_21</text>
<text x="167.48" y="378.80" font-size="2.7" fill="#777" text-anchor="end" transform="rotate(-90 167.48 378.80)">BLCDS_22</text>
<text x="173.71" y="378.80" font-size="2.7" fill="#777" text-anchor="end" transform="rotate(-90 173.71 378.80)">BLCDS_23</text>
<text x="179.94" y="378.80" font-size="2.7" fill="#777" text-anchor="end" transform="rotate(-90 179.94 378.80)">BLCDS_24</text>
<text x="186.17" y="378.80" font-size="2.7" fill="#777" text-anchor="end" transform="rotate(-90 186.17 378.80)">BLCDS_25</text>
<text x="192.40" y="378.80" font-size="2.7" fill="#777" text-anchor="end" transform="rotate(-90 192.40 378.80)">BLCDS_26</text>
<text x="198.63" y="378.80" font-size="2.7" fill="#777" text-anchor="end" transform="rotate(-90 198.63 378.80)">BLCDS_27</text>
<text x="204.86" y="378.80" font-size="2.7" fill="#777" text-anchor="end" transform="rotate(-90 204.86 378.80)">BLCDS_28</text>
<text x="211.09" y="378.80" font-size="2.7" fill="#777" text-anchor="end" transform="rotate(-90 211.09 378.80)">BLCDS_29</text>
<text x="217.32" y="378.80" font-size="2.7" fill="#777" text-anchor="end" transform="rotate(-90 217.32 378.80)">BLCDS_30</text>
<text x="223.55" y="378.80" font-size="2.7" fill="#777" text-anchor="end" transform="rotate(-90 223.55 378.80)">BLCDS_31</text>
<text x="229.78" y="378.80" font-size="2.7" fill="#777" text-anchor="end" transform="rotate(-90 229.78 378.80)">BLCDS_32</text>
<text x="236.01" y="378.80" font-size="2.7" fill="#777" text-anchor="end" transform="rotate(-90 236.01 378.80)">BLCDS_33</text>
<text x="242.24" y="378.80" font-size="2.7" fill="#777" text-anchor="end" transform="rotate(-90 242.24 378.80)">BLCDS_34</text>
<text x="248.47" y="378.80" font-size="2.7" fill="#777" text-anchor="end" transform="rotate(-90 248.47 378.80)">BLCDS_35</text>
<text x="254.70" y="378.80" font-size="2.7" fill="#777" text-anchor="end" transform="rotate(-90 254.70 378.80)">BLCDS_36</text>
<text x="71.80" y="399.50" font-size="8.6" fill="#2a2a2a" textLength="55.20" lengthAdjust="spacingAndGlyphs" stroke="#2a2a2a" stroke-width="0.26">High Clostridia</text>
<text x="174.60" y="399.50" font-size="8.6" fill="#2a2a2a" textLength="52.00" lengthAdjust="spacingAndGlyphs" stroke="#2a2a2a" stroke-width="0.26">Low Clostridia</text>
<text x="261.40" y="277.40" font-size="7.0" fill="#333" stroke="#333" stroke-width="0.21">Class</text>
<rect x="261.80" y="280.10" width="4.00" height="2.60" fill="#1f77b4"/>
<text x="268.40" y="282.80" font-size="4.3" fill="#555">Clostridia</text>
<rect x="261.80" y="285.79" width="4.00" height="2.60" fill="#ff7f0e"/>
<text x="268.40" y="288.49" font-size="4.3" fill="#555">Gammaproteobacteria</text>
<rect x="261.80" y="291.48" width="4.00" height="2.60" fill="#2ca02c"/>
<text x="268.40" y="294.18" font-size="4.3" fill="#555">Alphaproteobacteria</text>
<rect x="261.80" y="297.17" width="4.00" height="2.60" fill="#d62728"/>
<text x="268.40" y="299.87" font-size="4.3" fill="#555">Saprospirae</text>
<rect x="261.80" y="302.86" width="4.00" height="2.60" fill="#9467bd"/>
<text x="268.40" y="305.56" font-size="4.3" fill="#555">Betaproteobacteria</text>
<rect x="261.80" y="308.55" width="4.00" height="2.60" fill="#8c564b"/>
<text x="268.40" y="311.25" font-size="4.3" fill="#555">Actinobacteria</text>
<rect x="261.80" y="314.24" width="4.00" height="2.60" fill="#e377c2"/>
<text x="268.40" y="316.94" font-size="4.3" fill="#555">Chloroplast</text>
<rect x="261.80" y="319.93" width="4.00" height="2.60" fill="#7f7f7f"/>
<text x="268.40" y="322.63" font-size="4.3" fill="#555">Bacilli</text>
<rect x="261.80" y="325.62" width="4.00" height="2.60" fill="#bcbd22"/>
<text x="268.40" y="328.32" font-size="4.3" fill="#555">Ktedonobacteria</text>
<rect x="261.80" y="331.31" width="4.00" height="2.60" fill="#17becf"/>
<text x="268.40" y="334.01" font-size="4.3" fill="#555">Deltaproteobacteria</text>
<rect x="261.80" y="337.00" width="4.00" height="2.60" fill="#1f77b4"/>
<text x="268.40" y="339.70" font-size="4.3" fill="#555">Bacteroidia</text>
<rect x="261.80" y="342.69" width="4.00" height="2.60" fill="#ff7f0e"/>
<text x="268.40" y="345.39" font-size="4.3" fill="#555">Acidobacteria-6</text>
<rect x="261.80" y="348.38" width="4.00" height="2.60" fill="#2ca02c"/>
<text x="268.40" y="351.08" font-size="4.3" fill="#555">unidentified_WPS-2</text>
<rect x="261.80" y="354.07" width="4.00" height="2.60" fill="#d62728"/>
<text x="268.40" y="356.77" font-size="4.3" fill="#555">Acidobacteria</text>
<rect x="261.80" y="359.76" width="4.00" height="2.60" fill="#9467bd"/>
<text x="268.40" y="362.46" font-size="4.3" fill="#555">Planctomycetia</text>
<rect x="261.80" y="365.45" width="4.00" height="2.60" fill="#8c564b"/>
<text x="268.40" y="368.15" font-size="4.3" fill="#555">Thermoleophilia</text>
<rect x="261.80" y="371.14" width="4.00" height="2.60" fill="#e377c2"/>
<text x="268.40" y="373.84" font-size="4.3" fill="#555">others</text>
<rect x="53.60" y="575.64" width="4.50" height="6.36" fill="#e8001c"/>
<rect x="53.60" y="524.76" width="4.50" height="50.88" fill="#8b2b24"/>
<rect x="53.60" y="485.01" width="4.50" height="39.75" fill="#ff4fa3"/>
<rect x="53.60" y="479.44" width="4.50" height="5.56" fill="#d3783b"/>
<rect x="53.60" y="475.79" width="4.50" height="3.66" fill="#e3cba8"/>
<rect x="53.60" y="439.85" width="4.50" height="35.93" fill="#f08484"/>
<rect x="53.60" y="438.11" width="4.50" height="1.75" fill="#7fb3d9"/>
<rect x="53.60" y="436.36" width="4.50" height="1.75" fill="#e8a9e0"/>
<rect x="53.60" y="435.08" width="4.50" height="1.27" fill="#2e8b7a"/>
<rect x="53.60" y="433.81" width="4.50" height="1.27" fill="#4a90d9"/>
<rect x="53.60" y="423.00" width="4.50" height="10.81" fill="#d6e2a2"/>
<rect x="59.59" y="581.36" width="4.50" height="0.64" fill="#e8001c"/>
<rect x="59.59" y="495.03" width="4.50" height="86.34" fill="#8b2b24"/>
<rect x="59.59" y="450.19" width="4.50" height="44.84" fill="#ff4fa3"/>
<rect x="59.59" y="442.56" width="4.50" height="7.63" fill="#7e3c96"/>
<rect x="59.59" y="439.77" width="4.50" height="2.79" fill="#d3783b"/>
<rect x="59.59" y="438.68" width="4.50" height="1.09" fill="#e3cba8"/>
<rect x="59.59" y="437.67" width="4.50" height="1.01" fill="#f08484"/>
<rect x="59.59" y="436.44" width="4.50" height="1.23" fill="#7fb3d9"/>
<rect x="59.59" y="434.46" width="4.50" height="1.99" fill="#e8a9e0"/>
<rect x="59.59" y="433.59" width="4.50" height="0.87" fill="#2e8b7a"/>
<rect x="59.59" y="432.57" width="4.50" height="1.02" fill="#ff6418"/>
<rect x="59.59" y="431.21" width="4.50" height="1.36" fill="#ffb000"/>
<rect x="59.59" y="430.31" width="4.50" height="0.89" fill="#4a90d9"/>
<rect x="59.59" y="423.00" width="4.50" height="7.31" fill="#d6e2a2"/>
<rect x="65.58" y="581.36" width="4.50" height="0.64" fill="#e8001c"/>
<rect x="65.58" y="508.06" width="4.50" height="73.30" fill="#8b2b24"/>
<rect x="65.58" y="443.83" width="4.50" height="64.24" fill="#ff4fa3"/>
<rect x="65.58" y="438.26" width="4.50" height="5.56" fill="#7e3c96"/>
<rect x="65.58" y="435.66" width="4.50" height="2.61" fill="#d3783b"/>
<rect x="65.58" y="434.94" width="4.50" height="0.71" fill="#e3cba8"/>
<rect x="65.58" y="434.13" width="4.50" height="0.82" fill="#f08484"/>
<rect x="65.58" y="433.12" width="4.50" height="1.01" fill="#7fb3d9"/>
<rect x="65.58" y="431.80" width="4.50" height="1.32" fill="#e8a9e0"/>
<rect x="65.58" y="431.08" width="4.50" height="0.72" fill="#2e8b7a"/>
<rect x="65.58" y="430.51" width="4.50" height="0.58" fill="#ff6418"/>
<rect x="65.58" y="429.64" width="4.50" height="0.87" fill="#ffb000"/>
<rect x="65.58" y="428.88" width="4.50" height="0.75" fill="#4a90d9"/>
<rect x="65.58" y="423.00" width="4.50" height="5.88" fill="#d6e2a2"/>
<rect x="71.57" y="581.36" width="4.50" height="0.64" fill="#e8001c"/>
<rect x="71.57" y="499.16" width="4.50" height="82.20" fill="#8b2b24"/>
<rect x="71.57" y="439.22" width="4.50" height="59.94" fill="#ff4fa3"/>
<rect x="71.57" y="432.54" width="4.50" height="6.68" fill="#7e3c96"/>
<rect x="71.57" y="431.34" width="4.50" height="1.20" fill="#d3783b"/>
<rect x="71.57" y="430.84" width="4.50" height="0.51" fill="#e3cba8"/>
<rect x="71.57" y="430.52" width="4.50" height="0.32" fill="#f08484"/>
<rect x="71.57" y="429.99" width="4.50" height="0.53" fill="#7fb3d9"/>
<rect x="71.57" y="429.19" width="4.50" height="0.81" fill="#e8a9e0"/>
<rect x="71.57" y="428.82" width="4.50" height="0.36" fill="#2e8b7a"/>
<rect x="71.57" y="428.42" width="4.50" height="0.40" fill="#ff6418"/>
<rect x="71.57" y="427.83" width="4.50" height="0.59" fill="#ffb000"/>
<rect x="71.57" y="427.45" width="4.50" height="0.37" fill="#4a90d9"/>
<rect x="71.57" y="423.00" width="4.50" height="4.45" fill="#d6e2a2"/>
<rect x="77.56" y="581.36" width="4.50" height="0.64" fill="#e8001c"/>
<rect x="77.56" y="500.91" width="4.50" height="80.45" fill="#8b2b24"/>
<rect x="77.56" y="444.94" width="4.50" height="55.97" fill="#ff4fa3"/>
<rect x="77.56" y="436.20" width="4.50" height="8.75" fill="#7e3c96"/>
<rect x="77.56" y="433.84" width="4.50" height="2.35" fill="#d3783b"/>
<rect x="77.56" y="433.22" width="4.50" height="0.63" fill="#e3cba8"/>
<rect x="77.56" y="432.65" width="4.50" height="0.56" fill="#f08484"/>
<rect x="77.56" y="431.94" width="4.50" height="0.71" fill="#7fb3d9"/>
<rect x="77.56" y="431.06" width="4.50" height="0.88" fill="#e8a9e0"/>
<rect x="77.56" y="430.65" width="4.50" height="0.41" fill="#2e8b7a"/>
<rect x="77.56" y="430.11" width="4.50" height="0.54" fill="#ff6418"/>
<rect x="77.56" y="429.49" width="4.50" height="0.63" fill="#ffb000"/>
<rect x="77.56" y="428.88" width="4.50" height="0.60" fill="#4a90d9"/>
<rect x="77.56" y="423.00" width="4.50" height="5.88" fill="#d6e2a2"/>
<rect x="83.55" y="581.36" width="4.50" height="0.64" fill="#e8001c"/>
<rect x="83.55" y="494.71" width="4.50" height="86.66" fill="#8b2b24"/>
<rect x="83.55" y="441.92" width="4.50" height="52.79" fill="#ff4fa3"/>
<rect x="83.55" y="436.83" width="4.50" height="5.09" fill="#7e3c96"/>
<rect x="83.55" y="434.53" width="4.50" height="2.30" fill="#d3783b"/>
<rect x="83.55" y="433.79" width="4.50" height="0.74" fill="#e3cba8"/>
<rect x="83.55" y="433.23" width="4.50" height="0.56" fill="#f08484"/>
<rect x="83.55" y="432.69" width="4.50" height="0.55" fill="#7fb3d9"/>
<rect x="83.55" y="431.76" width="4.50" height="0.93" fill="#e8a9e0"/>
<rect x="83.55" y="431.21" width="4.50" height="0.55" fill="#2e8b7a"/>
<rect x="83.55" y="430.63" width="4.50" height="0.58" fill="#ff6418"/>
<rect x="83.55" y="430.05" width="4.50" height="0.58" fill="#ffb000"/>
<rect x="83.55" y="429.52" width="4.50" height="0.53" fill="#4a90d9"/>
<rect x="83.55" y="423.00" width="4.50" height="6.52" fill="#d6e2a2"/>
<rect x="89.54" y="581.36" width="4.50" height="0.64" fill="#e8001c"/>
<rect x="89.54" y="503.77" width="4.50" height="77.59" fill="#8b2b24"/>
<rect x="89.54" y="446.37" width="4.50" height="57.40" fill="#ff4fa3"/>
<rect x="89.54" y="436.51" width="4.50" height="9.86" fill="#7e3c96"/>
<rect x="89.54" y="434.19" width="4.50" height="2.32" fill="#d3783b"/>
<rect x="89.54" y="433.58" width="4.50" height="0.61" fill="#e3cba8"/>
<rect x="89.54" y="432.98" width="4.50" height="0.60" fill="#f08484"/>
<rect x="89.54" y="432.19" width="4.50" height="0.80" fill="#7fb3d9"/>
<rect x="89.54" y="431.23" width="4.50" height="0.96" fill="#e8a9e0"/>
<rect x="89.54" y="430.64" width="4.50" height="0.59" fill="#2e8b7a"/>
<rect x="89.54" y="430.15" width="4.50" height="0.48" fill="#ff6418"/>
<rect x="89.54" y="429.49" width="4.50" height="0.66" fill="#ffb000"/>
<rect x="89.54" y="428.88" width="4.50" height="0.61" fill="#4a90d9"/>
<rect x="89.54" y="423.00" width="4.50" height="5.88" fill="#d6e2a2"/>
<rect x="95.53" y="581.36" width="4.50" height="0.64" fill="#e8001c"/>
<rect x="95.53" y="486.60" width="4.50" height="94.76" fill="#8b2b24"/>
<rect x="95.53" y="440.65" width="4.50" height="45.95" fill="#ff4fa3"/>
<rect x="95.53" y="436.20" width="4.50" height="4.45" fill="#7e3c96"/>
<rect x="95.53" y="434.17" width="4.50" height="2.02" fill="#d3783b"/>
<rect x="95.53" y="433.44" width="4.50" height="0.73" fill="#e3cba8"/>
<rect x="95.53" y="433.07" width="4.50" height="0.38" fill="#f08484"/>
<rect x="95.53" y="432.33" width="4.50" height="0.74" fill="#7fb3d9"/>
<rect x="95.53" y="431.20" width="4.50" height="1.13" fill="#e8a9e0"/>
<rect x="95.53" y="430.81" width="4.50" height="0.39" fill="#2e8b7a"/>
<rect x="95.53" y="430.25" width="4.50" height="0.56" fill="#ff6418"/>
<rect x="95.53" y="429.40" width="4.50" height="0.84" fill="#ffb000"/>
<rect x="95.53" y="428.88" width="4.50" height="0.52" fill="#4a90d9"/>
<rect x="95.53" y="423.00" width="4.50" height="5.88" fill="#d6e2a2"/>
<rect x="101.52" y="581.36" width="4.50" height="0.64" fill="#e8001c"/>
<rect x="101.52" y="496.78" width="4.50" height="84.59" fill="#8b2b24"/>
<rect x="101.52" y="444.15" width="4.50" height="52.63" fill="#ff4fa3"/>
<rect x="101.52" y="436.83" width="4.50" height="7.31" fill="#7e3c96"/>
<rect x="101.52" y="434.98" width="4.50" height="1.85" fill="#d3783b"/>
<rect x="101.52" y="434.25" width="4.50" height="0.73" fill="#e3cba8"/>
<rect x="101.52" y="433.56" width="4.50" height="0.69" fill="#f08484"/>
<rect x="101.52" y="432.81" width="4.50" height="0.76" fill="#7fb3d9"/>
<rect x="101.52" y="431.69" width="4.50" height="1.11" fill="#e8a9e0"/>
<rect x="101.52" y="431.18" width="4.50" height="0.51" fill="#2e8b7a"/>
<rect x="101.52" y="430.71" width="4.50" height="0.47" fill="#ff6418"/>
<rect x="101.52" y="429.67" width="4.50" height="1.04" fill="#ffb000"/>
<rect x="101.52" y="428.88" width="4.50" height="0.79" fill="#4a90d9"/>
<rect x="101.52" y="423.00" width="4.50" height="5.88" fill="#d6e2a2"/>
<rect x="107.51" y="581.36" width="4.50" height="0.64" fill="#e8001c"/>
<rect x="107.51" y="506.95" width="4.50" height="74.41" fill="#8b2b24"/>
<rect x="107.51" y="447.17" width="4.50" height="59.78" fill="#ff4fa3"/>
<rect x="107.51" y="439.54" width="4.50" height="7.63" fill="#7e3c96"/>
<rect x="107.51" y="437.29" width="4.50" height="2.24" fill="#d3783b"/>
<rect x="107.51" y="436.25" width="4.50" height="1.04" fill="#e3cba8"/>
<rect x="107.51" y="435.39" width="4.50" height="0.86" fill="#f08484"/>
<rect x="107.51" y="434.53" width="4.50" height="0.86" fill="#7fb3d9"/>
<rect x="107.51" y="433.24" width="4.50" height="1.30" fill="#e8a9e0"/>
<rect x="107.51" y="432.61" width="4.50" height="0.62" fill="#2e8b7a"/>
<rect x="107.51" y="432.03" width="4.50" height="0.58" fill="#ff6418"/>
<rect x="107.51" y="431.09" width="4.50" height="0.94" fill="#ffb000"/>
<rect x="107.51" y="430.31" width="4.50" height="0.78" fill="#4a90d9"/>
<rect x="107.51" y="423.00" width="4.50" height="7.31" fill="#d6e2a2"/>
<rect x="113.50" y="581.36" width="4.50" height="0.64" fill="#e8001c"/>
<rect x="113.50" y="497.25" width="4.50" height="84.11" fill="#8b2b24"/>
<rect x="113.50" y="442.56" width="4.50" height="54.70" fill="#ff4fa3"/>
<rect x="113.50" y="436.20" width="4.50" height="6.36" fill="#7e3c96"/>
<rect x="113.50" y="434.23" width="4.50" height="1.97" fill="#d3783b"/>
<rect x="113.50" y="433.51" width="4.50" height="0.72" fill="#e3cba8"/>
<rect x="113.50" y="432.90" width="4.50" height="0.60" fill="#f08484"/>
<rect x="113.50" y="432.31" width="4.50" height="0.60" fill="#7fb3d9"/>
<rect x="113.50" y="431.13" width="4.50" height="1.18" fill="#e8a9e0"/>
<rect x="113.50" y="430.42" width="4.50" height="0.72" fill="#2e8b7a"/>
<rect x="113.50" y="429.81" width="4.50" height="0.61" fill="#ff6418"/>
<rect x="113.50" y="428.92" width="4.50" height="0.89" fill="#ffb000"/>
<rect x="113.50" y="428.09" width="4.50" height="0.84" fill="#4a90d9"/>
<rect x="113.50" y="423.00" width="4.50" height="5.09" fill="#d6e2a2"/>
<rect x="119.49" y="581.36" width="4.50" height="0.64" fill="#e8001c"/>
<rect x="119.49" y="496.46" width="4.50" height="84.91" fill="#8b2b24"/>
<rect x="119.49" y="438.26" width="4.50" height="58.19" fill="#ff4fa3"/>
<rect x="119.49" y="433.33" width="4.50" height="4.93" fill="#7e3c96"/>
<rect x="119.49" y="431.67" width="4.50" height="1.67" fill="#d3783b"/>
<rect x="119.49" y="431.23" width="4.50" height="0.44" fill="#e3cba8"/>
<rect x="119.49" y="430.81" width="4.50" height="0.42" fill="#f08484"/>
<rect x="119.49" y="430.40" width="4.50" height="0.40" fill="#7fb3d9"/>
<rect x="119.49" y="429.67" width="4.50" height="0.73" fill="#e8a9e0"/>
<rect x="119.49" y="429.35" width="4.50" height="0.33" fill="#2e8b7a"/>
<rect x="119.49" y="428.97" width="4.50" height="0.38" fill="#ff6418"/>
<rect x="119.49" y="428.53" width="4.50" height="0.44" fill="#ffb000"/>
<rect x="119.49" y="428.09" width="4.50" height="0.44" fill="#4a90d9"/>
<rect x="119.49" y="423.00" width="4.50" height="5.09" fill="#d6e2a2"/>
<rect x="125.48" y="581.36" width="4.50" height="0.64" fill="#e8001c"/>
<rect x="125.48" y="493.91" width="4.50" height="87.45" fill="#8b2b24"/>
<rect x="125.48" y="440.65" width="4.50" height="53.26" fill="#ff4fa3"/>
<rect x="125.48" y="436.83" width="4.50" height="3.82" fill="#7e3c96"/>
<rect x="125.48" y="434.40" width="4.50" height="2.43" fill="#d3783b"/>
<rect x="125.48" y="433.79" width="4.50" height="0.61" fill="#e3cba8"/>
<rect x="125.48" y="433.11" width="4.50" height="0.68" fill="#f08484"/>
<rect x="125.48" y="432.41" width="4.50" height="0.70" fill="#7fb3d9"/>
<rect x="125.48" y="431.34" width="4.50" height="1.07" fill="#e8a9e0"/>
<rect x="125.48" y="430.75" width="4.50" height="0.59" fill="#2e8b7a"/>
<rect x="125.48" y="430.28" width="4.50" height="0.47" fill="#ff6418"/>
<rect x="125.48" y="429.56" width="4.50" height="0.72" fill="#ffb000"/>
<rect x="125.48" y="428.88" width="4.50" height="0.68" fill="#4a90d9"/>
<rect x="125.48" y="423.00" width="4.50" height="5.88" fill="#d6e2a2"/>
<rect x="131.47" y="581.36" width="4.50" height="0.64" fill="#e8001c"/>
<rect x="131.47" y="495.98" width="4.50" height="85.38" fill="#8b2b24"/>
<rect x="131.47" y="439.22" width="4.50" height="56.76" fill="#ff4fa3"/>
<rect x="131.47" y="434.13" width="4.50" height="5.09" fill="#7e3c96"/>
<rect x="131.47" y="432.40" width="4.50" height="1.73" fill="#d3783b"/>
<rect x="131.47" y="431.77" width="4.50" height="0.63" fill="#e3cba8"/>
<rect x="131.47" y="431.28" width="4.50" height="0.49" fill="#f08484"/>
<rect x="131.47" y="430.65" width="4.50" height="0.64" fill="#7fb3d9"/>
<rect x="131.47" y="429.54" width="4.50" height="1.11" fill="#e8a9e0"/>
<rect x="131.47" y="429.02" width="4.50" height="0.52" fill="#2e8b7a"/>
<rect x="131.47" y="428.63" width="4.50" height="0.39" fill="#ff6418"/>
<rect x="131.47" y="428.02" width="4.50" height="0.60" fill="#ffb000"/>
<rect x="131.47" y="427.45" width="4.50" height="0.57" fill="#4a90d9"/>
<rect x="131.47" y="423.00" width="4.50" height="4.45" fill="#d6e2a2"/>
<rect x="137.46" y="581.36" width="4.50" height="0.64" fill="#e8001c"/>
<rect x="137.46" y="502.02" width="4.50" height="79.34" fill="#8b2b24"/>
<rect x="137.46" y="438.90" width="4.50" height="63.12" fill="#ff4fa3"/>
<rect x="137.46" y="433.33" width="4.50" height="5.56" fill="#7e3c96"/>
<rect x="137.46" y="432.13" width="4.50" height="1.21" fill="#d3783b"/>
<rect x="137.46" y="431.52" width="4.50" height="0.61" fill="#e3cba8"/>
<rect x="137.46" y="431.06" width="4.50" height="0.46" fill="#f08484"/>
<rect x="137.46" y="430.66" width="4.50" height="0.40" fill="#7fb3d9"/>
<rect x="137.46" y="429.82" width="4.50" height="0.85" fill="#e8a9e0"/>
<rect x="137.46" y="429.45" width="4.50" height="0.36" fill="#2e8b7a"/>
<rect x="137.46" y="428.96" width="4.50" height="0.49" fill="#ff6418"/>
<rect x="137.46" y="428.24" width="4.50" height="0.73" fill="#ffb000"/>
<rect x="137.46" y="427.77" width="4.50" height="0.47" fill="#4a90d9"/>
<rect x="137.46" y="423.00" width="4.50" height="4.77" fill="#d6e2a2"/>
<rect x="143.45" y="581.36" width="4.50" height="0.64" fill="#e8001c"/>
<rect x="143.45" y="495.98" width="4.50" height="85.38" fill="#8b2b24"/>
<rect x="143.45" y="446.37" width="4.50" height="49.61" fill="#ff4fa3"/>
<rect x="143.45" y="435.40" width="4.50" height="10.97" fill="#7e3c96"/>
<rect x="143.45" y="433.80" width="4.50" height="1.60" fill="#d3783b"/>
<rect x="143.45" y="433.31" width="4.50" height="0.49" fill="#e3cba8"/>
<rect x="143.45" y="432.79" width="4.50" height="0.52" fill="#f08484"/>
<rect x="143.45" y="432.25" width="4.50" height="0.53" fill="#7fb3d9"/>
<rect x="143.45" y="431.22" width="4.50" height="1.03" fill="#e8a9e0"/>
<rect x="143.45" y="430.82" width="4.50" height="0.41" fill="#2e8b7a"/>
<rect x="143.45" y="430.22" width="4.50" height="0.60" fill="#ff6418"/>
<rect x="143.45" y="429.43" width="4.50" height="0.79" fill="#ffb000"/>
<rect x="143.45" y="428.88" width="4.50" height="0.55" fill="#4a90d9"/>
<rect x="143.45" y="423.00" width="4.50" height="5.88" fill="#d6e2a2"/>
<rect x="155.80" y="581.36" width="4.50" height="0.64" fill="#e8001c"/>
<rect x="155.80" y="492.64" width="4.50" height="88.72" fill="#8b2b24"/>
<rect x="155.80" y="442.40" width="4.50" height="50.24" fill="#ff4fa3"/>
<rect x="155.80" y="436.36" width="4.50" height="6.04" fill="#7e3c96"/>
<rect x="155.80" y="433.55" width="4.50" height="2.80" fill="#d3783b"/>
<rect x="155.80" y="432.59" width="4.50" height="0.96" fill="#e3cba8"/>
<rect x="155.80" y="432.04" width="4.50" height="0.55" fill="#f08484"/>
<rect x="155.80" y="431.31" width="4.50" height="0.73" fill="#7fb3d9"/>
<rect x="155.80" y="430.03" width="4.50" height="1.28" fill="#e8a9e0"/>
<rect x="155.80" y="429.48" width="4.50" height="0.54" fill="#2e8b7a"/>
<rect x="155.80" y="428.96" width="4.50" height="0.52" fill="#ff6418"/>
<rect x="155.80" y="427.88" width="4.50" height="1.08" fill="#ffb000"/>
<rect x="155.80" y="427.13" width="4.50" height="0.74" fill="#4a90d9"/>
<rect x="155.80" y="423.00" width="4.50" height="4.13" fill="#d6e2a2"/>
<rect x="161.79" y="581.36" width="4.50" height="0.64" fill="#e8001c"/>
<rect x="161.79" y="491.21" width="4.50" height="90.15" fill="#8b2b24"/>
<rect x="161.79" y="438.11" width="4.50" height="53.11" fill="#ff4fa3"/>
<rect x="161.79" y="434.45" width="4.50" height="3.66" fill="#7e3c96"/>
<rect x="161.79" y="432.45" width="4.50" height="2.00" fill="#d3783b"/>
<rect x="161.79" y="431.74" width="4.50" height="0.71" fill="#e3cba8"/>
<rect x="161.79" y="431.15" width="4.50" height="0.59" fill="#f08484"/>
<rect x="161.79" y="430.50" width="4.50" height="0.65" fill="#7fb3d9"/>
<rect x="161.79" y="429.66" width="4.50" height="0.84" fill="#e8a9e0"/>
<rect x="161.79" y="429.07" width="4.50" height="0.60" fill="#2e8b7a"/>
<rect x="161.79" y="428.49" width="4.50" height="0.58" fill="#ff6418"/>
<rect x="161.79" y="427.73" width="4.50" height="0.76" fill="#ffb000"/>
<rect x="161.79" y="427.13" width="4.50" height="0.60" fill="#4a90d9"/>
<rect x="161.79" y="423.00" width="4.50" height="4.13" fill="#d6e2a2"/>
<rect x="167.78" y="581.36" width="4.50" height="0.64" fill="#e8001c"/>
<rect x="167.78" y="490.89" width="4.50" height="90.47" fill="#8b2b24"/>
<rect x="167.78" y="439.54" width="4.50" height="51.36" fill="#ff4fa3"/>
<rect x="167.78" y="436.04" width="4.50" height="3.50" fill="#7e3c96"/>
<rect x="167.78" y="433.35" width="4.50" height="2.69" fill="#d3783b"/>
<rect x="167.78" y="432.66" width="4.50" height="0.69" fill="#e3cba8"/>
<rect x="167.78" y="432.17" width="4.50" height="0.49" fill="#f08484"/>
<rect x="167.78" y="431.28" width="4.50" height="0.89" fill="#7fb3d9"/>
<rect x="167.78" y="429.94" width="4.50" height="1.33" fill="#e8a9e0"/>
<rect x="167.78" y="429.32" width="4.50" height="0.62" fill="#2e8b7a"/>
<rect x="167.78" y="428.63" width="4.50" height="0.70" fill="#ff6418"/>
<rect x="167.78" y="427.70" width="4.50" height="0.93" fill="#ffb000"/>
<rect x="167.78" y="427.13" width="4.50" height="0.57" fill="#4a90d9"/>
<rect x="167.78" y="423.00" width="4.50" height="4.13" fill="#d6e2a2"/>
<rect x="173.77" y="581.36" width="4.50" height="0.64" fill="#e8001c"/>
<rect x="173.77" y="485.17" width="4.50" height="96.20" fill="#8b2b24"/>
<rect x="173.77" y="441.60" width="4.50" height="43.57" fill="#ff4fa3"/>
<rect x="173.77" y="436.67" width="4.50" height="4.93" fill="#7e3c96"/>
<rect x="173.77" y="433.95" width="4.50" height="2.72" fill="#d3783b"/>
<rect x="173.77" y="433.37" width="4.50" height="0.59" fill="#e3cba8"/>
<rect x="173.77" y="432.85" width="4.50" height="0.52" fill="#f08484"/>
<rect x="173.77" y="431.99" width="4.50" height="0.86" fill="#7fb3d9"/>
<rect x="173.77" y="430.60" width="4.50" height="1.40" fill="#e8a9e0"/>
<rect x="173.77" y="429.99" width="4.50" height="0.61" fill="#2e8b7a"/>
<rect x="173.77" y="429.38" width="4.50" height="0.61" fill="#ff6418"/>
<rect x="173.77" y="428.35" width="4.50" height="1.02" fill="#ffb000"/>
<rect x="173.77" y="427.45" width="4.50" height="0.90" fill="#4a90d9"/>
<rect x="173.77" y="423.00" width="4.50" height="4.45" fill="#d6e2a2"/>
<rect x="179.76" y="581.36" width="4.50" height="0.64" fill="#e8001c"/>
<rect x="179.76" y="490.42" width="4.50" height="90.95" fill="#8b2b24"/>
<rect x="179.76" y="437.15" width="4.50" height="53.26" fill="#ff4fa3"/>
<rect x="179.76" y="432.54" width="4.50" height="4.61" fill="#7e3c96"/>
<rect x="179.76" y="431.27" width="4.50" height="1.27" fill="#d3783b"/>
<rect x="179.76" y="430.68" width="4.50" height="0.59" fill="#e3cba8"/>
<rect x="179.76" y="430.31" width="4.50" height="0.37" fill="#f08484"/>
<rect x="179.76" y="429.74" width="4.50" height="0.57" fill="#7fb3d9"/>
<rect x="179.76" y="428.97" width="4.50" height="0.77" fill="#e8a9e0"/>
<rect x="179.76" y="428.67" width="4.50" height="0.30" fill="#2e8b7a"/>
<rect x="179.76" y="428.28" width="4.50" height="0.39" fill="#ff6418"/>
<rect x="179.76" y="427.61" width="4.50" height="0.67" fill="#ffb000"/>
<rect x="179.76" y="427.13" width="4.50" height="0.48" fill="#4a90d9"/>
<rect x="179.76" y="423.00" width="4.50" height="4.13" fill="#d6e2a2"/>
<rect x="185.75" y="581.36" width="4.50" height="0.64" fill="#e8001c"/>
<rect x="185.75" y="482.78" width="4.50" height="98.58" fill="#8b2b24"/>
<rect x="185.75" y="436.36" width="4.50" height="46.43" fill="#ff4fa3"/>
<rect x="185.75" y="433.02" width="4.50" height="3.34" fill="#7e3c96"/>
<rect x="185.75" y="431.50" width="4.50" height="1.51" fill="#d3783b"/>
<rect x="185.75" y="431.01" width="4.50" height="0.49" fill="#e3cba8"/>
<rect x="185.75" y="430.55" width="4.50" height="0.46" fill="#f08484"/>
<rect x="185.75" y="429.95" width="4.50" height="0.60" fill="#7fb3d9"/>
<rect x="185.75" y="429.07" width="4.50" height="0.88" fill="#e8a9e0"/>
<rect x="185.75" y="428.70" width="4.50" height="0.37" fill="#2e8b7a"/>
<rect x="185.75" y="428.31" width="4.50" height="0.39" fill="#ff6418"/>
<rect x="185.75" y="427.64" width="4.50" height="0.67" fill="#ffb000"/>
<rect x="185.75" y="427.13" width="4.50" height="0.50" fill="#4a90d9"/>
<rect x="185.75" y="423.00" width="4.50" height="4.13" fill="#d6e2a2"/>
<rect x="191.74" y="581.36" width="4.50" height="0.64" fill="#e8001c"/>
<rect x="191.74" y="493.44" width="4.50" height="87.93" fill="#8b2b24"/>
<rect x="191.74" y="440.01" width="4.50" height="53.42" fill="#ff4fa3"/>
<rect x="191.74" y="436.67" width="4.50" height="3.34" fill="#7e3c96"/>
<rect x="191.74" y="434.31" width="4.50" height="2.36" fill="#d3783b"/>
<rect x="191.74" y="433.37" width="4.50" height="0.94" fill="#e3cba8"/>
<rect x="191.74" y="432.82" width="4.50" height="0.56" fill="#f08484"/>
<rect x="191.74" y="432.08" width="4.50" height="0.74" fill="#7fb3d9"/>
<rect x="191.74" y="430.98" width="4.50" height="1.10" fill="#e8a9e0"/>
<rect x="191.74" y="430.45" width="4.50" height="0.53" fill="#2e8b7a"/>
<rect x="191.74" y="429.69" width="4.50" height="0.76" fill="#ff6418"/>
<rect x="191.74" y="428.90" width="4.50" height="0.79" fill="#ffb000"/>
<rect x="191.74" y="428.09" width="4.50" height="0.81" fill="#4a90d9"/>
<rect x="191.74" y="423.00" width="4.50" height="5.09" fill="#d6e2a2"/>
<rect x="197.73" y="581.36" width="4.50" height="0.64" fill="#e8001c"/>
<rect x="197.73" y="493.91" width="4.50" height="87.45" fill="#8b2b24"/>
<rect x="197.73" y="449.87" width="4.50" height="44.04" fill="#ff4fa3"/>
<rect x="197.73" y="436.67" width="4.50" height="13.20" fill="#7e3c96"/>
<rect x="197.73" y="434.30" width="4.50" height="2.37" fill="#d3783b"/>
<rect x="197.73" y="433.65" width="4.50" height="0.65" fill="#e3cba8"/>
<rect x="197.73" y="433.19" width="4.50" height="0.46" fill="#f08484"/>
<rect x="197.73" y="432.49" width="4.50" height="0.70" fill="#7fb3d9"/>
<rect x="197.73" y="431.45" width="4.50" height="1.05" fill="#e8a9e0"/>
<rect x="197.73" y="430.76" width="4.50" height="0.69" fill="#2e8b7a"/>
<rect x="197.73" y="430.27" width="4.50" height="0.48" fill="#ff6418"/>
<rect x="197.73" y="429.49" width="4.50" height="0.78" fill="#ffb000"/>
<rect x="197.73" y="428.88" width="4.50" height="0.61" fill="#4a90d9"/>
<rect x="197.73" y="423.00" width="4.50" height="5.88" fill="#d6e2a2"/>
<rect x="203.72" y="581.36" width="4.50" height="0.64" fill="#e8001c"/>
<rect x="203.72" y="488.35" width="4.50" height="93.02" fill="#8b2b24"/>
<rect x="203.72" y="440.97" width="4.50" height="47.38" fill="#ff4fa3"/>
<rect x="203.72" y="433.02" width="4.50" height="7.95" fill="#7e3c96"/>
<rect x="203.72" y="431.48" width="4.50" height="1.54" fill="#d3783b"/>
<rect x="203.72" y="430.89" width="4.50" height="0.58" fill="#e3cba8"/>
<rect x="203.72" y="430.44" width="4.50" height="0.46" fill="#f08484"/>
<rect x="203.72" y="430.06" width="4.50" height="0.38" fill="#7fb3d9"/>
<rect x="203.72" y="429.33" width="4.50" height="0.73" fill="#e8a9e0"/>
<rect x="203.72" y="428.90" width="4.50" height="0.43" fill="#2e8b7a"/>
<rect x="203.72" y="428.56" width="4.50" height="0.35" fill="#ff6418"/>
<rect x="203.72" y="427.96" width="4.50" height="0.60" fill="#ffb000"/>
<rect x="203.72" y="427.45" width="4.50" height="0.50" fill="#4a90d9"/>
<rect x="203.72" y="423.00" width="4.50" height="4.45" fill="#d6e2a2"/>
<rect x="209.71" y="581.36" width="4.50" height="0.64" fill="#e8001c"/>
<rect x="209.71" y="490.89" width="4.50" height="90.47" fill="#8b2b24"/>
<rect x="209.71" y="443.19" width="4.50" height="47.70" fill="#ff4fa3"/>
<rect x="209.71" y="433.02" width="4.50" height="10.18" fill="#7e3c96"/>
<rect x="209.71" y="431.56" width="4.50" height="1.45" fill="#d3783b"/>
<rect x="209.71" y="431.01" width="4.50" height="0.55" fill="#e3cba8"/>
<rect x="209.71" y="430.65" width="4.50" height="0.36" fill="#f08484"/>
<rect x="209.71" y="430.06" width="4.50" height="0.59" fill="#7fb3d9"/>
<rect x="209.71" y="429.19" width="4.50" height="0.86" fill="#e8a9e0"/>
<rect x="209.71" y="428.88" width="4.50" height="0.32" fill="#2e8b7a"/>
<rect x="209.71" y="428.43" width="4.50" height="0.45" fill="#ff6418"/>
<rect x="209.71" y="427.85" width="4.50" height="0.58" fill="#ffb000"/>
<rect x="209.71" y="427.45" width="4.50" height="0.40" fill="#4a90d9"/>
<rect x="209.71" y="423.00" width="4.50" height="4.45" fill="#d6e2a2"/>
<rect x="215.70" y="581.36" width="4.50" height="0.64" fill="#e8001c"/>
<rect x="215.70" y="501.07" width="4.50" height="80.30" fill="#8b2b24"/>
<rect x="215.70" y="439.06" width="4.50" height="62.01" fill="#ff4fa3"/>
<rect x="215.70" y="430.95" width="4.50" height="8.11" fill="#7e3c96"/>
<rect x="215.70" y="430.10" width="4.50" height="0.85" fill="#d3783b"/>
<rect x="215.70" y="429.77" width="4.50" height="0.32" fill="#e3cba8"/>
<rect x="215.70" y="429.54" width="4.50" height="0.23" fill="#f08484"/>
<rect x="215.70" y="429.18" width="4.50" height="0.36" fill="#7fb3d9"/>
<rect x="215.70" y="428.57" width="4.50" height="0.61" fill="#e8a9e0"/>
<rect x="215.70" y="428.28" width="4.50" height="0.28" fill="#2e8b7a"/>
<rect x="215.70" y="428.00" width="4.50" height="0.28" fill="#ff6418"/>
<rect x="215.70" y="427.52" width="4.50" height="0.48" fill="#ffb000"/>
<rect x="215.70" y="427.13" width="4.50" height="0.39" fill="#4a90d9"/>
<rect x="215.70" y="423.00" width="4.50" height="4.13" fill="#d6e2a2"/>
<rect x="221.69" y="581.36" width="4.50" height="0.64" fill="#e8001c"/>
<rect x="221.69" y="503.45" width="4.50" height="77.91" fill="#8b2b24"/>
<rect x="221.69" y="443.67" width="4.50" height="59.78" fill="#ff4fa3"/>
<rect x="221.69" y="432.54" width="4.50" height="11.13" fill="#7e3c96"/>
<rect x="221.69" y="430.99" width="4.50" height="1.55" fill="#d3783b"/>
<rect x="221.69" y="430.47" width="4.50" height="0.52" fill="#e3cba8"/>
<rect x="221.69" y="430.12" width="4.50" height="0.36" fill="#f08484"/>
<rect x="221.69" y="429.51" width="4.50" height="0.61" fill="#7fb3d9"/>
<rect x="221.69" y="428.64" width="4.50" height="0.87" fill="#e8a9e0"/>
<rect x="221.69" y="428.23" width="4.50" height="0.40" fill="#2e8b7a"/>
<rect x="221.69" y="427.77" width="4.50" height="0.46" fill="#ff6418"/>
<rect x="221.69" y="427.10" width="4.50" height="0.67" fill="#ffb000"/>
<rect x="221.69" y="426.50" width="4.50" height="0.60" fill="#4a90d9"/>
<rect x="221.69" y="423.00" width="4.50" height="3.50" fill="#d6e2a2"/>
<rect x="227.68" y="581.36" width="4.50" height="0.64" fill="#e8001c"/>
<rect x="227.68" y="486.60" width="4.50" height="94.76" fill="#8b2b24"/>
<rect x="227.68" y="433.02" width="4.50" height="53.58" fill="#ff4fa3"/>
<rect x="227.68" y="429.52" width="4.50" height="3.50" fill="#7e3c96"/>
<rect x="227.68" y="428.77" width="4.50" height="0.74" fill="#d3783b"/>
<rect x="227.68" y="428.40" width="4.50" height="0.38" fill="#e3cba8"/>
<rect x="227.68" y="428.18" width="4.50" height="0.22" fill="#f08484"/>
<rect x="227.68" y="427.91" width="4.50" height="0.27" fill="#7fb3d9"/>
<rect x="227.68" y="427.41" width="4.50" height="0.50" fill="#e8a9e0"/>
<rect x="227.68" y="427.14" width="4.50" height="0.27" fill="#2e8b7a"/>
<rect x="227.68" y="426.83" width="4.50" height="0.31" fill="#ff6418"/>
<rect x="227.68" y="426.49" width="4.50" height="0.34" fill="#ffb000"/>
<rect x="227.68" y="426.18" width="4.50" height="0.31" fill="#4a90d9"/>
<rect x="227.68" y="423.00" width="4.50" height="3.18" fill="#d6e2a2"/>
<rect x="233.67" y="581.36" width="4.50" height="0.64" fill="#e8001c"/>
<rect x="233.67" y="488.35" width="4.50" height="93.02" fill="#8b2b24"/>
<rect x="233.67" y="435.08" width="4.50" height="53.27" fill="#ff4fa3"/>
<rect x="233.67" y="429.52" width="4.50" height="5.56" fill="#7e3c96"/>
<rect x="233.67" y="428.61" width="4.50" height="0.91" fill="#d3783b"/>
<rect x="233.67" y="428.31" width="4.50" height="0.29" fill="#e3cba8"/>
<rect x="233.67" y="428.06" width="4.50" height="0.25" fill="#f08484"/>
<rect x="233.67" y="427.77" width="4.50" height="0.30" fill="#7fb3d9"/>
<rect x="233.67" y="427.20" width="4.50" height="0.57" fill="#e8a9e0"/>
<rect x="233.67" y="426.98" width="4.50" height="0.21" fill="#2e8b7a"/>
<rect x="233.67" y="426.76" width="4.50" height="0.22" fill="#ff6418"/>
<rect x="233.67" y="426.43" width="4.50" height="0.34" fill="#ffb000"/>
<rect x="233.67" y="426.18" width="4.50" height="0.25" fill="#4a90d9"/>
<rect x="233.67" y="423.00" width="4.50" height="3.18" fill="#d6e2a2"/>
<rect x="239.66" y="581.36" width="4.50" height="0.64" fill="#e8001c"/>
<rect x="239.66" y="487.39" width="4.50" height="93.97" fill="#8b2b24"/>
<rect x="239.66" y="438.11" width="4.50" height="49.29" fill="#ff4fa3"/>
<rect x="239.66" y="430.95" width="4.50" height="7.16" fill="#7e3c96"/>
<rect x="239.66" y="429.92" width="4.50" height="1.03" fill="#d3783b"/>
<rect x="239.66" y="429.54" width="4.50" height="0.38" fill="#e3cba8"/>
<rect x="239.66" y="429.12" width="4.50" height="0.41" fill="#f08484"/>
<rect x="239.66" y="428.71" width="4.50" height="0.42" fill="#7fb3d9"/>
<rect x="239.66" y="427.99" width="4.50" height="0.71" fill="#e8a9e0"/>
<rect x="239.66" y="427.71" width="4.50" height="0.28" fill="#2e8b7a"/>
<rect x="239.66" y="427.39" width="4.50" height="0.33" fill="#ff6418"/>
<rect x="239.66" y="427.00" width="4.50" height="0.39" fill="#ffb000"/>
<rect x="239.66" y="426.50" width="4.50" height="0.50" fill="#4a90d9"/>
<rect x="239.66" y="423.00" width="4.50" height="3.50" fill="#d6e2a2"/>
<rect x="245.65" y="581.36" width="4.50" height="0.64" fill="#e8001c"/>
<rect x="245.65" y="485.81" width="4.50" height="95.56" fill="#8b2b24"/>
<rect x="245.65" y="433.97" width="4.50" height="51.83" fill="#ff4fa3"/>
<rect x="245.65" y="428.41" width="4.50" height="5.56" fill="#7e3c96"/>
<rect x="245.65" y="427.81" width="4.50" height="0.59" fill="#d3783b"/>
<rect x="245.65" y="427.50" width="4.50" height="0.31" fill="#e3cba8"/>
<rect x="245.65" y="427.25" width="4.50" height="0.24" fill="#f08484"/>
<rect x="245.65" y="427.05" width="4.50" height="0.21" fill="#7fb3d9"/>
<rect x="245.65" y="426.69" width="4.50" height="0.36" fill="#e8a9e0"/>
<rect x="245.65" y="426.52" width="4.50" height="0.17" fill="#2e8b7a"/>
<rect x="245.65" y="426.27" width="4.50" height="0.24" fill="#ff6418"/>
<rect x="245.65" y="425.94" width="4.50" height="0.33" fill="#ffb000"/>
<rect x="245.65" y="425.70" width="4.50" height="0.23" fill="#4a90d9"/>
<rect x="245.65" y="423.00" width="4.50" height="2.70" fill="#d6e2a2"/>
<line x1="52.00" y1="422.70" x2="52.00" y2="582.30" stroke="#7a7a7a" stroke-width="1.1"/>
<line x1="52.00" y1="582.10" x2="250.50" y2="582.10" stroke="#8a8a8a" stroke-width="0.6"/>
<line x1="50.20" y1="582.00" x2="52.00" y2="582.00" stroke="#666" stroke-width="0.7"/>
<text x="49.80" y="584.00" font-size="5.6" fill="#444" text-anchor="end" stroke="#444" stroke-width="0.17">0</text>
<line x1="50.20" y1="550.20" x2="52.00" y2="550.20" stroke="#666" stroke-width="0.7"/>
<text x="49.80" y="552.20" font-size="5.6" fill="#444" text-anchor="end" stroke="#444" stroke-width="0.17">20</text>
<line x1="50.20" y1="518.40" x2="52.00" y2="518.40" stroke="#666" stroke-width="0.7"/>
<text x="49.80" y="520.40" font-size="5.6" fill="#444" text-anchor="end" stroke="#444" stroke-width="0.17">40</text>
<line x1="50.20" y1="486.60" x2="52.00" y2="486.60" stroke="#666" stroke-width="0.7"/>
<text x="49.80" y="488.60" font-size="5.6" fill="#444" text-anchor="end" stroke="#444" stroke-width="0.17">60</text>
<line x1="50.20" y1="454.80" x2="52.00" y2="454.80" stroke="#666" stroke-width="0.7"/>
<text x="49.80" y="456.80" font-size="5.6" fill="#444" text-anchor="end" stroke="#444" stroke-width="0.17">80</text>
<line x1="50.20" y1="423.00" x2="52.00" y2="423.00" stroke="#666" stroke-width="0.7"/>
<text x="49.80" y="425.00" font-size="5.6" fill="#444" text-anchor="end" stroke="#444" stroke-width="0.17">100</text>
<text x="57.05" y="584.60" font-size="3.9" fill="#444" text-anchor="end" transform="rotate(-90 57.05 584.60)">BL_22A</text>
<text x="159.25" y="584.60" font-size="3.9" fill="#444" text-anchor="end" transform="rotate(-90 159.25 584.60)">BL_30A</text>
<text x="63.04" y="584.60" font-size="3.9" fill="#444" text-anchor="end" transform="rotate(-90 63.04 584.60)">BL_19A</text>
<text x="165.24" y="584.60" font-size="3.9" fill="#444" text-anchor="end" transform="rotate(-90 165.24 584.60)">BL_18A</text>
<text x="69.03" y="584.60" font-size="3.9" fill="#444" text-anchor="end" transform="rotate(-90 69.03 584.60)">BL_21A</text>
<text x="171.23" y="584.60" font-size="3.9" fill="#444" text-anchor="end" transform="rotate(-90 171.23 584.60)">BL_21A</text>
<text x="75.02" y="584.60" font-size="3.9" fill="#444" text-anchor="end" transform="rotate(-90 75.02 584.60)">BL_27A</text>
<text x="177.22" y="584.60" font-size="3.9" fill="#444" text-anchor="end" transform="rotate(-90 177.22 584.60)">BL_14A</text>
<text x="81.01" y="584.60" font-size="3.9" fill="#444" text-anchor="end" transform="rotate(-90 81.01 584.60)">BL_24A</text>
<text x="183.21" y="584.60" font-size="3.9" fill="#444" text-anchor="end" transform="rotate(-90 183.21 584.60)">BL_15A</text>
<text x="87.00" y="584.60" font-size="3.9" fill="#444" text-anchor="end" transform="rotate(-90 87.00 584.60)">BL_30A</text>
<text x="189.20" y="584.60" font-size="3.9" fill="#444" text-anchor="end" transform="rotate(-90 189.20 584.60)">BL_23A</text>
<text x="92.99" y="584.60" font-size="3.9" fill="#444" text-anchor="end" transform="rotate(-90 92.99 584.60)">BL_18A</text>
<text x="195.19" y="584.60" font-size="3.9" fill="#444" text-anchor="end" transform="rotate(-90 195.19 584.60)">BL_25A</text>
<text x="98.98" y="584.60" font-size="3.9" fill="#444" text-anchor="end" transform="rotate(-90 98.98 584.60)">BL_21A</text>
<text x="201.18" y="584.60" font-size="3.9" fill="#444" text-anchor="end" transform="rotate(-90 201.18 584.60)">BL_20A</text>
<text x="104.97" y="584.60" font-size="3.9" fill="#444" text-anchor="end" transform="rotate(-90 104.97 584.60)">BL_14A</text>
<text x="207.17" y="584.60" font-size="3.9" fill="#444" text-anchor="end" transform="rotate(-90 207.17 584.60)">BL_17A</text>
<text x="110.96" y="584.60" font-size="3.9" fill="#444" text-anchor="end" transform="rotate(-90 110.96 584.60)">BL_15A</text>
<text x="213.16" y="584.60" font-size="3.9" fill="#444" text-anchor="end" transform="rotate(-90 213.16 584.60)">BL_13A</text>
<text x="116.95" y="584.60" font-size="3.9" fill="#444" text-anchor="end" transform="rotate(-90 116.95 584.60)">BL_23A</text>
<text x="219.15" y="584.60" font-size="3.9" fill="#444" text-anchor="end" transform="rotate(-90 219.15 584.60)">BL_26A</text>
<text x="122.94" y="584.60" font-size="3.9" fill="#444" text-anchor="end" transform="rotate(-90 122.94 584.60)">BL_25A</text>
<text x="225.14" y="584.60" font-size="3.9" fill="#444" text-anchor="end" transform="rotate(-90 225.14 584.60)">BL_16A</text>
<text x="128.93" y="584.60" font-size="3.9" fill="#444" text-anchor="end" transform="rotate(-90 128.93 584.60)">BL_20A</text>
<text x="231.13" y="584.60" font-size="3.9" fill="#444" text-anchor="end" transform="rotate(-90 231.13 584.60)">BL_29A</text>
<text x="134.92" y="584.60" font-size="3.9" fill="#444" text-anchor="end" transform="rotate(-90 134.92 584.60)">BL_17A</text>
<text x="237.12" y="584.60" font-size="3.9" fill="#444" text-anchor="end" transform="rotate(-90 237.12 584.60)">BL_22A</text>
<text x="140.91" y="584.60" font-size="3.9" fill="#444" text-anchor="end" transform="rotate(-90 140.91 584.60)">BL_13A</text>
<text x="243.11" y="584.60" font-size="3.9" fill="#444" text-anchor="end" transform="rotate(-90 243.11 584.60)">BL_19A</text>
<text x="146.90" y="584.60" font-size="3.9" fill="#444" text-anchor="end" transform="rotate(-90 146.90 584.60)">BL_26A</text>
<text x="249.10" y="584.60" font-size="3.9" fill="#444" text-anchor="end" transform="rotate(-90 249.10 584.60)">BL_21A</text>
<text x="38.40" y="502.50" font-size="11" fill="#2a2a2a" text-anchor="middle" textLength="91.60" lengthAdjust="spacingAndGlyphs" transform="rotate(-90 38.40 502.50)" stroke="#2a2a2a" stroke-width="0.33">Relative abundance</text>
<text x="69.50" y="610.40" font-size="7" fill="#2a2a2a" textLength="64.00" lengthAdjust="spacingAndGlyphs" stroke="#2a2a2a" stroke-width="0.21">High Actinobacteria</text>
<text x="171.40" y="610.40" font-size="7" fill="#2a2a2a" textLength="62.60" lengthAdjust="spacingAndGlyphs" stroke="#2a2a2a" stroke-width="0.21">Low Actinobacteria</text>
<text x="259.00" y="463.80" font-size="6.8" fill="#2a2a2a" stroke="#2a2a2a" stroke-width="0.20">Class</text>
<rect x="259.70" y="466.60" width="6.80" height="4.90" fill="#d6e2a2"/>
<text x="269.90" y="470.50" font-size="4.75" fill="#333">others</text>
<rect x="259.70" y="472.25" width="6.80" height="4.90" fill="#4a90d9"/>
<text x="269.90" y="476.15" font-size="4.75" fill="#333">unidentified_WPS-2</text>
<rect x="259.70" y="477.90" width="6.80" height="4.90" fill="#ffb000"/>
<text x="269.90" y="481.80" font-size="4.75" fill="#333">Acidobacteria-6</text>
<rect x="259.70" y="483.55" width="6.80" height="4.90" fill="#ff6418"/>
<text x="269.90" y="487.45" font-size="4.75" fill="#333">Bacteroidia</text>
<rect x="259.70" y="489.20" width="6.80" height="4.90" fill="#2e8b7a"/>
<text x="269.90" y="493.10" font-size="4.75" fill="#333">Deltaproteobacteria</text>
<rect x="259.70" y="494.85" width="6.80" height="4.90" fill="#e8a9e0"/>
<text x="269.90" y="498.75" font-size="4.75" fill="#333">Ktedonobacteria</text>
<rect x="259.70" y="500.50" width="6.80" height="4.90" fill="#7fb3d9"/>
<text x="269.90" y="504.40" font-size="4.75" fill="#333">Bacilli</text>
<rect x="259.70" y="506.15" width="6.80" height="4.90" fill="#f08484"/>
<text x="269.90" y="510.05" font-size="4.75" fill="#333">Chloroplast</text>
<rect x="259.70" y="511.80" width="6.80" height="4.90" fill="#e3cba8"/>
<text x="269.90" y="515.70" font-size="4.75" fill="#333">Clostridia</text>
<rect x="259.70" y="517.45" width="6.80" height="4.90" fill="#d3783b"/>
<text x="269.90" y="521.35" font-size="4.75" fill="#333">Betaproteobacteria</text>
<rect x="259.70" y="523.10" width="6.80" height="4.90" fill="#7e3c96"/>
<text x="269.90" y="527.00" font-size="4.75" fill="#333">Saprospirae</text>
<rect x="259.70" y="528.75" width="6.80" height="4.90" fill="#ff4fa3"/>
<text x="269.90" y="532.65" font-size="4.75" fill="#333">Alphaproteobacteria</text>
<rect x="259.70" y="534.40" width="6.80" height="4.90" fill="#8b2b24"/>
<text x="269.90" y="538.30" font-size="4.75" fill="#333">Gammaproteobacteria</text>
<rect x="259.70" y="540.05" width="6.80" height="4.90" fill="#e8001c"/>
<text x="269.90" y="543.95" font-size="4.75" fill="#333">Actinobacteria</text>
<rect x="53.20" y="783.43" width="4.50" height="3.17" fill="#20ee8c"/>
<rect x="53.20" y="732.71" width="4.50" height="50.72" fill="#8b2b24"/>
<rect x="53.20" y="693.24" width="4.50" height="39.47" fill="#ff4fa3"/>
<rect x="53.20" y="688.17" width="4.50" height="5.07" fill="#d3783b"/>
<rect x="53.20" y="681.67" width="4.50" height="6.50" fill="#e8001c"/>
<rect x="53.20" y="678.03" width="4.50" height="3.65" fill="#e3cba8"/>
<rect x="53.20" y="641.57" width="4.50" height="36.46" fill="#f08484"/>
<rect x="53.20" y="639.83" width="4.50" height="1.74" fill="#7fb3d9"/>
<rect x="53.20" y="638.24" width="4.50" height="1.59" fill="#e8a9e0"/>
<rect x="53.20" y="636.50" width="4.50" height="1.74" fill="#4a90d9"/>
<rect x="53.20" y="628.10" width="4.50" height="8.40" fill="#d6e2a2"/>
<rect x="59.19" y="786.12" width="4.50" height="0.48" fill="#20ee8c"/>
<rect x="59.19" y="701.49" width="4.50" height="84.64" fill="#8b2b24"/>
<rect x="59.19" y="648.71" width="4.50" height="52.78" fill="#ff4fa3"/>
<rect x="59.19" y="644.27" width="4.50" height="4.44" fill="#7e3c96"/>
<rect x="59.19" y="641.89" width="4.50" height="2.37" fill="#d3783b"/>
<rect x="59.19" y="639.47" width="4.50" height="2.42" fill="#e8001c"/>
<rect x="59.19" y="638.80" width="4.50" height="0.67" fill="#e3cba8"/>
<rect x="59.19" y="638.16" width="4.50" height="0.65" fill="#f08484"/>
<rect x="59.19" y="637.15" width="4.50" height="1.01" fill="#7fb3d9"/>
<rect x="59.19" y="635.97" width="4.50" height="1.18" fill="#e8a9e0"/>
<rect x="59.19" y="635.43" width="4.50" height="0.54" fill="#2e8b7a"/>
<rect x="59.19" y="634.84" width="4.50" height="0.59" fill="#ff6418"/>
<rect x="59.19" y="633.83" width="4.50" height="1.01" fill="#ffb000"/>
<rect x="59.19" y="633.01" width="4.50" height="0.82" fill="#4a90d9"/>
<rect x="59.19" y="628.10" width="4.50" height="4.91" fill="#d6e2a2"/>
<rect x="65.18" y="786.12" width="4.50" height="0.48" fill="#20ee8c"/>
<rect x="65.18" y="713.53" width="4.50" height="72.59" fill="#8b2b24"/>
<rect x="65.18" y="653.78" width="4.50" height="59.75" fill="#ff4fa3"/>
<rect x="65.18" y="646.49" width="4.50" height="7.29" fill="#7e3c96"/>
<rect x="65.18" y="644.36" width="4.50" height="2.12" fill="#d3783b"/>
<rect x="65.18" y="641.42" width="4.50" height="2.94" fill="#e8001c"/>
<rect x="65.18" y="640.57" width="4.50" height="0.86" fill="#e3cba8"/>
<rect x="65.18" y="639.89" width="4.50" height="0.67" fill="#f08484"/>
<rect x="65.18" y="639.14" width="4.50" height="0.75" fill="#7fb3d9"/>
<rect x="65.18" y="637.84" width="4.50" height="1.30" fill="#e8a9e0"/>
<rect x="65.18" y="637.39" width="4.50" height="0.45" fill="#2e8b7a"/>
<rect x="65.18" y="636.55" width="4.50" height="0.84" fill="#ff6418"/>
<rect x="65.18" y="635.65" width="4.50" height="0.90" fill="#ffb000"/>
<rect x="65.18" y="634.60" width="4.50" height="1.05" fill="#4a90d9"/>
<rect x="65.18" y="628.10" width="4.50" height="6.50" fill="#d6e2a2"/>
<rect x="71.17" y="786.12" width="4.50" height="0.48" fill="#20ee8c"/>
<rect x="71.17" y="699.43" width="4.50" height="86.70" fill="#8b2b24"/>
<rect x="71.17" y="646.49" width="4.50" height="52.94" fill="#ff4fa3"/>
<rect x="71.17" y="642.37" width="4.50" height="4.12" fill="#7e3c96"/>
<rect x="71.17" y="640.19" width="4.50" height="2.18" fill="#d3783b"/>
<rect x="71.17" y="638.09" width="4.50" height="2.09" fill="#e8001c"/>
<rect x="71.17" y="637.39" width="4.50" height="0.70" fill="#e3cba8"/>
<rect x="71.17" y="636.85" width="4.50" height="0.54" fill="#f08484"/>
<rect x="71.17" y="636.27" width="4.50" height="0.58" fill="#7fb3d9"/>
<rect x="71.17" y="635.52" width="4.50" height="0.75" fill="#e8a9e0"/>
<rect x="71.17" y="635.13" width="4.50" height="0.39" fill="#2e8b7a"/>
<rect x="71.17" y="634.58" width="4.50" height="0.55" fill="#ff6418"/>
<rect x="71.17" y="633.65" width="4.50" height="0.93" fill="#ffb000"/>
<rect x="71.17" y="633.01" width="4.50" height="0.63" fill="#4a90d9"/>
<rect x="71.17" y="628.10" width="4.50" height="4.91" fill="#d6e2a2"/>
<rect x="77.16" y="786.12" width="4.50" height="0.48" fill="#20ee8c"/>
<rect x="77.16" y="693.24" width="4.50" height="92.88" fill="#8b2b24"/>
<rect x="77.16" y="647.44" width="4.50" height="45.81" fill="#ff4fa3"/>
<rect x="77.16" y="643.16" width="4.50" height="4.28" fill="#7e3c96"/>
<rect x="77.16" y="641.58" width="4.50" height="1.57" fill="#d3783b"/>
<rect x="77.16" y="638.73" width="4.50" height="2.86" fill="#e8001c"/>
<rect x="77.16" y="638.06" width="4.50" height="0.67" fill="#e3cba8"/>
<rect x="77.16" y="637.29" width="4.50" height="0.77" fill="#f08484"/>
<rect x="77.16" y="636.35" width="4.50" height="0.94" fill="#7fb3d9"/>
<rect x="77.16" y="635.38" width="4.50" height="0.96" fill="#e8a9e0"/>
<rect x="77.16" y="634.91" width="4.50" height="0.47" fill="#2e8b7a"/>
<rect x="77.16" y="634.32" width="4.50" height="0.59" fill="#ff6418"/>
<rect x="77.16" y="633.42" width="4.50" height="0.89" fill="#ffb000"/>
<rect x="77.16" y="632.54" width="4.50" height="0.89" fill="#4a90d9"/>
<rect x="77.16" y="628.10" width="4.50" height="4.44" fill="#d6e2a2"/>
<rect x="83.15" y="786.12" width="4.50" height="0.48" fill="#20ee8c"/>
<rect x="83.15" y="702.12" width="4.50" height="84.00" fill="#8b2b24"/>
<rect x="83.15" y="657.26" width="4.50" height="44.86" fill="#ff4fa3"/>
<rect x="83.15" y="649.66" width="4.50" height="7.61" fill="#7e3c96"/>
<rect x="83.15" y="647.15" width="4.50" height="2.50" fill="#d3783b"/>
<rect x="83.15" y="643.78" width="4.50" height="3.37" fill="#e8001c"/>
<rect x="83.15" y="642.42" width="4.50" height="1.36" fill="#e3cba8"/>
<rect x="83.15" y="641.51" width="4.50" height="0.91" fill="#f08484"/>
<rect x="83.15" y="640.49" width="4.50" height="1.02" fill="#7fb3d9"/>
<rect x="83.15" y="638.73" width="4.50" height="1.76" fill="#e8a9e0"/>
<rect x="83.15" y="638.09" width="4.50" height="0.63" fill="#2e8b7a"/>
<rect x="83.15" y="637.12" width="4.50" height="0.97" fill="#ff6418"/>
<rect x="83.15" y="635.91" width="4.50" height="1.22" fill="#ffb000"/>
<rect x="83.15" y="634.60" width="4.50" height="1.31" fill="#4a90d9"/>
<rect x="83.15" y="628.10" width="4.50" height="6.50" fill="#d6e2a2"/>
<rect x="89.14" y="786.12" width="4.50" height="0.48" fill="#20ee8c"/>
<rect x="89.14" y="703.55" width="4.50" height="82.58" fill="#8b2b24"/>
<rect x="89.14" y="650.77" width="4.50" height="52.78" fill="#ff4fa3"/>
<rect x="89.14" y="644.11" width="4.50" height="6.66" fill="#7e3c96"/>
<rect x="89.14" y="642.41" width="4.50" height="1.70" fill="#d3783b"/>
<rect x="89.14" y="640.02" width="4.50" height="2.39" fill="#e8001c"/>
<rect x="89.14" y="639.20" width="4.50" height="0.82" fill="#e3cba8"/>
<rect x="89.14" y="638.65" width="4.50" height="0.55" fill="#f08484"/>
<rect x="89.14" y="638.00" width="4.50" height="0.65" fill="#7fb3d9"/>
<rect x="89.14" y="636.77" width="4.50" height="1.22" fill="#e8a9e0"/>
<rect x="89.14" y="636.29" width="4.50" height="0.49" fill="#2e8b7a"/>
<rect x="89.14" y="635.76" width="4.50" height="0.52" fill="#ff6418"/>
<rect x="89.14" y="634.81" width="4.50" height="0.95" fill="#ffb000"/>
<rect x="89.14" y="633.96" width="4.50" height="0.84" fill="#4a90d9"/>
<rect x="89.14" y="628.10" width="4.50" height="5.86" fill="#d6e2a2"/>
<rect x="95.13" y="786.12" width="4.50" height="0.48" fill="#20ee8c"/>
<rect x="95.13" y="710.36" width="4.50" height="75.76" fill="#8b2b24"/>
<rect x="95.13" y="653.46" width="4.50" height="56.90" fill="#ff4fa3"/>
<rect x="95.13" y="643.63" width="4.50" height="9.83" fill="#7e3c96"/>
<rect x="95.13" y="641.80" width="4.50" height="1.83" fill="#d3783b"/>
<rect x="95.13" y="639.59" width="4.50" height="2.21" fill="#e8001c"/>
<rect x="95.13" y="638.97" width="4.50" height="0.62" fill="#e3cba8"/>
<rect x="95.13" y="638.32" width="4.50" height="0.66" fill="#f08484"/>
<rect x="95.13" y="637.69" width="4.50" height="0.63" fill="#7fb3d9"/>
<rect x="95.13" y="636.56" width="4.50" height="1.13" fill="#e8a9e0"/>
<rect x="95.13" y="636.15" width="4.50" height="0.41" fill="#2e8b7a"/>
<rect x="95.13" y="635.52" width="4.50" height="0.63" fill="#ff6418"/>
<rect x="95.13" y="634.53" width="4.50" height="0.99" fill="#ffb000"/>
<rect x="95.13" y="633.96" width="4.50" height="0.57" fill="#4a90d9"/>
<rect x="95.13" y="628.10" width="4.50" height="5.86" fill="#d6e2a2"/>
<rect x="101.12" y="786.12" width="4.50" height="0.48" fill="#20ee8c"/>
<rect x="101.12" y="688.96" width="4.50" height="97.16" fill="#8b2b24"/>
<rect x="101.12" y="642.37" width="4.50" height="46.60" fill="#ff4fa3"/>
<rect x="101.12" y="639.35" width="4.50" height="3.01" fill="#7e3c96"/>
<rect x="101.12" y="637.88" width="4.50" height="1.47" fill="#d3783b"/>
<rect x="101.12" y="636.43" width="4.50" height="1.45" fill="#e8001c"/>
<rect x="101.12" y="635.85" width="4.50" height="0.58" fill="#e3cba8"/>
<rect x="101.12" y="635.42" width="4.50" height="0.43" fill="#f08484"/>
<rect x="101.12" y="634.91" width="4.50" height="0.51" fill="#7fb3d9"/>
<rect x="101.12" y="634.33" width="4.50" height="0.57" fill="#e8a9e0"/>
<rect x="101.12" y="634.03" width="4.50" height="0.30" fill="#2e8b7a"/>
<rect x="101.12" y="633.58" width="4.50" height="0.45" fill="#ff6418"/>
<rect x="101.12" y="633.03" width="4.50" height="0.55" fill="#ffb000"/>
<rect x="101.12" y="632.54" width="4.50" height="0.49" fill="#4a90d9"/>
<rect x="101.12" y="628.10" width="4.50" height="4.44" fill="#d6e2a2"/>
<rect x="107.11" y="786.12" width="4.50" height="0.48" fill="#20ee8c"/>
<rect x="107.11" y="707.51" width="4.50" height="78.62" fill="#8b2b24"/>
<rect x="107.11" y="652.83" width="4.50" height="54.68" fill="#ff4fa3"/>
<rect x="107.11" y="644.43" width="4.50" height="8.40" fill="#7e3c96"/>
<rect x="107.11" y="642.77" width="4.50" height="1.65" fill="#d3783b"/>
<rect x="107.11" y="640.04" width="4.50" height="2.74" fill="#e8001c"/>
<rect x="107.11" y="639.34" width="4.50" height="0.69" fill="#e3cba8"/>
<rect x="107.11" y="638.66" width="4.50" height="0.68" fill="#f08484"/>
<rect x="107.11" y="638.00" width="4.50" height="0.66" fill="#7fb3d9"/>
<rect x="107.11" y="636.98" width="4.50" height="1.01" fill="#e8a9e0"/>
<rect x="107.11" y="636.46" width="4.50" height="0.52" fill="#2e8b7a"/>
<rect x="107.11" y="635.75" width="4.50" height="0.71" fill="#ff6418"/>
<rect x="107.11" y="634.69" width="4.50" height="1.06" fill="#ffb000"/>
<rect x="107.11" y="633.96" width="4.50" height="0.72" fill="#4a90d9"/>
<rect x="107.11" y="628.10" width="4.50" height="5.86" fill="#d6e2a2"/>
<rect x="113.10" y="786.12" width="4.50" height="0.48" fill="#20ee8c"/>
<rect x="113.10" y="697.36" width="4.50" height="88.76" fill="#8b2b24"/>
<rect x="113.10" y="646.01" width="4.50" height="51.35" fill="#ff4fa3"/>
<rect x="113.10" y="642.37" width="4.50" height="3.65" fill="#7e3c96"/>
<rect x="113.10" y="640.89" width="4.50" height="1.47" fill="#d3783b"/>
<rect x="113.10" y="639.26" width="4.50" height="1.63" fill="#e8001c"/>
<rect x="113.10" y="638.65" width="4.50" height="0.61" fill="#e3cba8"/>
<rect x="113.10" y="637.97" width="4.50" height="0.68" fill="#f08484"/>
<rect x="113.10" y="637.36" width="4.50" height="0.61" fill="#7fb3d9"/>
<rect x="113.10" y="636.25" width="4.50" height="1.11" fill="#e8a9e0"/>
<rect x="113.10" y="635.76" width="4.50" height="0.48" fill="#2e8b7a"/>
<rect x="113.10" y="635.19" width="4.50" height="0.57" fill="#ff6418"/>
<rect x="113.10" y="634.47" width="4.50" height="0.73" fill="#ffb000"/>
<rect x="113.10" y="633.65" width="4.50" height="0.82" fill="#4a90d9"/>
<rect x="113.10" y="628.10" width="4.50" height="5.55" fill="#d6e2a2"/>
<rect x="119.09" y="786.12" width="4.50" height="0.48" fill="#20ee8c"/>
<rect x="119.09" y="694.67" width="4.50" height="91.45" fill="#8b2b24"/>
<rect x="119.09" y="647.91" width="4.50" height="46.76" fill="#ff4fa3"/>
<rect x="119.09" y="639.35" width="4.50" height="8.56" fill="#7e3c96"/>
<rect x="119.09" y="637.97" width="4.50" height="1.39" fill="#d3783b"/>
<rect x="119.09" y="636.64" width="4.50" height="1.33" fill="#e8001c"/>
<rect x="119.09" y="636.17" width="4.50" height="0.46" fill="#e3cba8"/>
<rect x="119.09" y="635.80" width="4.50" height="0.37" fill="#f08484"/>
<rect x="119.09" y="635.26" width="4.50" height="0.54" fill="#7fb3d9"/>
<rect x="119.09" y="634.40" width="4.50" height="0.86" fill="#e8a9e0"/>
<rect x="119.09" y="634.08" width="4.50" height="0.32" fill="#2e8b7a"/>
<rect x="119.09" y="633.61" width="4.50" height="0.47" fill="#ff6418"/>
<rect x="119.09" y="633.04" width="4.50" height="0.57" fill="#ffb000"/>
<rect x="119.09" y="632.54" width="4.50" height="0.50" fill="#4a90d9"/>
<rect x="119.09" y="628.10" width="4.50" height="4.44" fill="#d6e2a2"/>
<rect x="125.08" y="786.12" width="4.50" height="0.48" fill="#20ee8c"/>
<rect x="125.08" y="704.18" width="4.50" height="81.94" fill="#8b2b24"/>
<rect x="125.08" y="649.66" width="4.50" height="54.52" fill="#ff4fa3"/>
<rect x="125.08" y="643.47" width="4.50" height="6.18" fill="#7e3c96"/>
<rect x="125.08" y="641.06" width="4.50" height="2.41" fill="#d3783b"/>
<rect x="125.08" y="638.93" width="4.50" height="2.13" fill="#e8001c"/>
<rect x="125.08" y="638.29" width="4.50" height="0.64" fill="#e3cba8"/>
<rect x="125.08" y="637.66" width="4.50" height="0.62" fill="#f08484"/>
<rect x="125.08" y="636.68" width="4.50" height="0.98" fill="#7fb3d9"/>
<rect x="125.08" y="635.74" width="4.50" height="0.94" fill="#e8a9e0"/>
<rect x="125.08" y="635.24" width="4.50" height="0.49" fill="#2e8b7a"/>
<rect x="125.08" y="634.59" width="4.50" height="0.65" fill="#ff6418"/>
<rect x="125.08" y="633.75" width="4.50" height="0.84" fill="#ffb000"/>
<rect x="125.08" y="633.01" width="4.50" height="0.74" fill="#4a90d9"/>
<rect x="125.08" y="628.10" width="4.50" height="4.91" fill="#d6e2a2"/>
<rect x="131.07" y="786.12" width="4.50" height="0.48" fill="#20ee8c"/>
<rect x="131.07" y="696.89" width="4.50" height="89.24" fill="#8b2b24"/>
<rect x="131.07" y="644.43" width="4.50" height="52.46" fill="#ff4fa3"/>
<rect x="131.07" y="639.35" width="4.50" height="5.07" fill="#7e3c96"/>
<rect x="131.07" y="637.98" width="4.50" height="1.37" fill="#d3783b"/>
<rect x="131.07" y="636.40" width="4.50" height="1.59" fill="#e8001c"/>
<rect x="131.07" y="636.02" width="4.50" height="0.38" fill="#e3cba8"/>
<rect x="131.07" y="635.69" width="4.50" height="0.33" fill="#f08484"/>
<rect x="131.07" y="635.09" width="4.50" height="0.60" fill="#7fb3d9"/>
<rect x="131.07" y="634.50" width="4.50" height="0.59" fill="#e8a9e0"/>
<rect x="131.07" y="634.18" width="4.50" height="0.32" fill="#2e8b7a"/>
<rect x="131.07" y="633.80" width="4.50" height="0.38" fill="#ff6418"/>
<rect x="131.07" y="633.07" width="4.50" height="0.72" fill="#ffb000"/>
<rect x="131.07" y="632.54" width="4.50" height="0.54" fill="#4a90d9"/>
<rect x="131.07" y="628.10" width="4.50" height="4.44" fill="#d6e2a2"/>
<rect x="137.06" y="786.12" width="4.50" height="0.48" fill="#20ee8c"/>
<rect x="137.06" y="703.55" width="4.50" height="82.58" fill="#8b2b24"/>
<rect x="137.06" y="646.17" width="4.50" height="57.38" fill="#ff4fa3"/>
<rect x="137.06" y="641.26" width="4.50" height="4.91" fill="#7e3c96"/>
<rect x="137.06" y="639.63" width="4.50" height="1.63" fill="#d3783b"/>
<rect x="137.06" y="637.40" width="4.50" height="2.23" fill="#e8001c"/>
<rect x="137.06" y="636.81" width="4.50" height="0.59" fill="#e3cba8"/>
<rect x="137.06" y="636.24" width="4.50" height="0.57" fill="#f08484"/>
<rect x="137.06" y="635.72" width="4.50" height="0.52" fill="#7fb3d9"/>
<rect x="137.06" y="635.02" width="4.50" height="0.70" fill="#e8a9e0"/>
<rect x="137.06" y="634.68" width="4.50" height="0.34" fill="#2e8b7a"/>
<rect x="137.06" y="634.30" width="4.50" height="0.37" fill="#ff6418"/>
<rect x="137.06" y="633.59" width="4.50" height="0.71" fill="#ffb000"/>
<rect x="137.06" y="633.01" width="4.50" height="0.58" fill="#4a90d9"/>
<rect x="137.06" y="628.10" width="4.50" height="4.91" fill="#d6e2a2"/>
<rect x="143.05" y="786.12" width="4.50" height="0.48" fill="#20ee8c"/>
<rect x="143.05" y="702.60" width="4.50" height="83.53" fill="#8b2b24"/>
<rect x="143.05" y="653.46" width="4.50" height="49.13" fill="#ff4fa3"/>
<rect x="143.05" y="642.37" width="4.50" height="11.10" fill="#7e3c96"/>
<rect x="143.05" y="640.79" width="4.50" height="1.57" fill="#d3783b"/>
<rect x="143.05" y="639.06" width="4.50" height="1.73" fill="#e8001c"/>
<rect x="143.05" y="638.52" width="4.50" height="0.54" fill="#e3cba8"/>
<rect x="143.05" y="637.92" width="4.50" height="0.60" fill="#f08484"/>
<rect x="143.05" y="637.30" width="4.50" height="0.62" fill="#7fb3d9"/>
<rect x="143.05" y="636.45" width="4.50" height="0.85" fill="#e8a9e0"/>
<rect x="143.05" y="636.02" width="4.50" height="0.43" fill="#2e8b7a"/>
<rect x="143.05" y="635.47" width="4.50" height="0.55" fill="#ff6418"/>
<rect x="143.05" y="634.56" width="4.50" height="0.90" fill="#ffb000"/>
<rect x="143.05" y="633.96" width="4.50" height="0.60" fill="#4a90d9"/>
<rect x="143.05" y="628.10" width="4.50" height="5.86" fill="#d6e2a2"/>
<rect x="154.90" y="786.12" width="4.50" height="0.48" fill="#20ee8c"/>
<rect x="154.90" y="691.34" width="4.50" height="94.78" fill="#8b2b24"/>
<rect x="154.90" y="648.71" width="4.50" height="42.64" fill="#ff4fa3"/>
<rect x="154.90" y="643.00" width="4.50" height="5.71" fill="#7e3c96"/>
<rect x="154.90" y="640.86" width="4.50" height="2.14" fill="#d3783b"/>
<rect x="154.90" y="638.47" width="4.50" height="2.39" fill="#e8001c"/>
<rect x="154.90" y="637.81" width="4.50" height="0.66" fill="#e3cba8"/>
<rect x="154.90" y="637.21" width="4.50" height="0.60" fill="#f08484"/>
<rect x="154.90" y="636.46" width="4.50" height="0.75" fill="#7fb3d9"/>
<rect x="154.90" y="635.27" width="4.50" height="1.19" fill="#e8a9e0"/>
<rect x="154.90" y="634.80" width="4.50" height="0.47" fill="#2e8b7a"/>
<rect x="154.90" y="634.33" width="4.50" height="0.47" fill="#ff6418"/>
<rect x="154.90" y="633.46" width="4.50" height="0.87" fill="#ffb000"/>
<rect x="154.90" y="632.70" width="4.50" height="0.76" fill="#4a90d9"/>
<rect x="154.90" y="628.10" width="4.50" height="4.60" fill="#d6e2a2"/>
<rect x="160.89" y="786.12" width="4.50" height="0.48" fill="#20ee8c"/>
<rect x="160.89" y="700.53" width="4.50" height="85.59" fill="#8b2b24"/>
<rect x="160.89" y="647.91" width="4.50" height="52.62" fill="#ff4fa3"/>
<rect x="160.89" y="644.11" width="4.50" height="3.80" fill="#7e3c96"/>
<rect x="160.89" y="641.56" width="4.50" height="2.55" fill="#d3783b"/>
<rect x="160.89" y="638.95" width="4.50" height="2.61" fill="#e8001c"/>
<rect x="160.89" y="638.19" width="4.50" height="0.77" fill="#e3cba8"/>
<rect x="160.89" y="637.59" width="4.50" height="0.60" fill="#f08484"/>
<rect x="160.89" y="636.55" width="4.50" height="1.04" fill="#7fb3d9"/>
<rect x="160.89" y="635.49" width="4.50" height="1.06" fill="#e8a9e0"/>
<rect x="160.89" y="635.00" width="4.50" height="0.49" fill="#2e8b7a"/>
<rect x="160.89" y="634.42" width="4.50" height="0.58" fill="#ff6418"/>
<rect x="160.89" y="633.43" width="4.50" height="0.99" fill="#ffb000"/>
<rect x="160.89" y="632.70" width="4.50" height="0.73" fill="#4a90d9"/>
<rect x="160.89" y="628.10" width="4.50" height="4.60" fill="#d6e2a2"/>
<rect x="166.88" y="786.12" width="4.50" height="0.48" fill="#20ee8c"/>
<rect x="166.88" y="715.27" width="4.50" height="70.85" fill="#8b2b24"/>
<rect x="166.88" y="651.24" width="4.50" height="64.03" fill="#ff4fa3"/>
<rect x="166.88" y="645.54" width="4.50" height="5.71" fill="#7e3c96"/>
<rect x="166.88" y="642.87" width="4.50" height="2.66" fill="#d3783b"/>
<rect x="166.88" y="640.72" width="4.50" height="2.15" fill="#e8001c"/>
<rect x="166.88" y="640.03" width="4.50" height="0.69" fill="#e3cba8"/>
<rect x="166.88" y="639.18" width="4.50" height="0.85" fill="#f08484"/>
<rect x="166.88" y="638.47" width="4.50" height="0.72" fill="#7fb3d9"/>
<rect x="166.88" y="636.97" width="4.50" height="1.50" fill="#e8a9e0"/>
<rect x="166.88" y="636.46" width="4.50" height="0.51" fill="#2e8b7a"/>
<rect x="166.88" y="635.86" width="4.50" height="0.60" fill="#ff6418"/>
<rect x="166.88" y="634.93" width="4.50" height="0.94" fill="#ffb000"/>
<rect x="166.88" y="633.96" width="4.50" height="0.96" fill="#4a90d9"/>
<rect x="166.88" y="628.10" width="4.50" height="5.86" fill="#d6e2a2"/>
<rect x="172.87" y="786.12" width="4.50" height="0.48" fill="#20ee8c"/>
<rect x="172.87" y="700.06" width="4.50" height="86.07" fill="#8b2b24"/>
<rect x="172.87" y="656.79" width="4.50" height="43.27" fill="#ff4fa3"/>
<rect x="172.87" y="643.00" width="4.50" height="13.79" fill="#7e3c96"/>
<rect x="172.87" y="641.51" width="4.50" height="1.49" fill="#d3783b"/>
<rect x="172.87" y="639.51" width="4.50" height="2.00" fill="#e8001c"/>
<rect x="172.87" y="638.73" width="4.50" height="0.78" fill="#e3cba8"/>
<rect x="172.87" y="638.14" width="4.50" height="0.59" fill="#f08484"/>
<rect x="172.87" y="637.46" width="4.50" height="0.68" fill="#7fb3d9"/>
<rect x="172.87" y="636.66" width="4.50" height="0.80" fill="#e8a9e0"/>
<rect x="172.87" y="636.22" width="4.50" height="0.44" fill="#2e8b7a"/>
<rect x="172.87" y="635.68" width="4.50" height="0.53" fill="#ff6418"/>
<rect x="172.87" y="634.76" width="4.50" height="0.92" fill="#ffb000"/>
<rect x="172.87" y="633.96" width="4.50" height="0.80" fill="#4a90d9"/>
<rect x="172.87" y="628.10" width="4.50" height="5.86" fill="#d6e2a2"/>
<rect x="178.86" y="786.12" width="4.50" height="0.48" fill="#20ee8c"/>
<rect x="178.86" y="694.35" width="4.50" height="91.77" fill="#8b2b24"/>
<rect x="178.86" y="641.57" width="4.50" height="52.78" fill="#ff4fa3"/>
<rect x="178.86" y="636.98" width="4.50" height="4.60" fill="#7e3c96"/>
<rect x="178.86" y="635.97" width="4.50" height="1.01" fill="#d3783b"/>
<rect x="178.86" y="634.88" width="4.50" height="1.08" fill="#e8001c"/>
<rect x="178.86" y="634.52" width="4.50" height="0.36" fill="#e3cba8"/>
<rect x="178.86" y="634.12" width="4.50" height="0.40" fill="#f08484"/>
<rect x="178.86" y="633.64" width="4.50" height="0.48" fill="#7fb3d9"/>
<rect x="178.86" y="633.16" width="4.50" height="0.48" fill="#e8a9e0"/>
<rect x="178.86" y="632.91" width="4.50" height="0.24" fill="#2e8b7a"/>
<rect x="178.86" y="632.60" width="4.50" height="0.31" fill="#ff6418"/>
<rect x="178.86" y="632.02" width="4.50" height="0.58" fill="#ffb000"/>
<rect x="178.86" y="631.59" width="4.50" height="0.43" fill="#4a90d9"/>
<rect x="178.86" y="628.10" width="4.50" height="3.49" fill="#d6e2a2"/>
<rect x="184.85" y="786.12" width="4.50" height="0.48" fill="#20ee8c"/>
<rect x="184.85" y="692.93" width="4.50" height="93.20" fill="#8b2b24"/>
<rect x="184.85" y="639.20" width="4.50" height="53.73" fill="#ff4fa3"/>
<rect x="184.85" y="636.66" width="4.50" height="2.54" fill="#7e3c96"/>
<rect x="184.85" y="635.81" width="4.50" height="0.85" fill="#d3783b"/>
<rect x="184.85" y="634.58" width="4.50" height="1.23" fill="#e8001c"/>
<rect x="184.85" y="634.22" width="4.50" height="0.36" fill="#e3cba8"/>
<rect x="184.85" y="633.98" width="4.50" height="0.24" fill="#f08484"/>
<rect x="184.85" y="633.58" width="4.50" height="0.40" fill="#7fb3d9"/>
<rect x="184.85" y="633.03" width="4.50" height="0.55" fill="#e8a9e0"/>
<rect x="184.85" y="632.84" width="4.50" height="0.19" fill="#2e8b7a"/>
<rect x="184.85" y="632.46" width="4.50" height="0.38" fill="#ff6418"/>
<rect x="184.85" y="632.02" width="4.50" height="0.44" fill="#ffb000"/>
<rect x="184.85" y="631.59" width="4.50" height="0.43" fill="#4a90d9"/>
<rect x="184.85" y="628.10" width="4.50" height="3.49" fill="#d6e2a2"/>
<rect x="190.84" y="786.12" width="4.50" height="0.48" fill="#20ee8c"/>
<rect x="190.84" y="708.62" width="4.50" height="77.51" fill="#8b2b24"/>
<rect x="190.84" y="645.54" width="4.50" height="63.08" fill="#ff4fa3"/>
<rect x="190.84" y="640.94" width="4.50" height="4.60" fill="#7e3c96"/>
<rect x="190.84" y="639.11" width="4.50" height="1.82" fill="#d3783b"/>
<rect x="190.84" y="637.18" width="4.50" height="1.94" fill="#e8001c"/>
<rect x="190.84" y="636.60" width="4.50" height="0.58" fill="#e3cba8"/>
<rect x="190.84" y="636.09" width="4.50" height="0.51" fill="#f08484"/>
<rect x="190.84" y="635.45" width="4.50" height="0.64" fill="#7fb3d9"/>
<rect x="190.84" y="634.51" width="4.50" height="0.94" fill="#e8a9e0"/>
<rect x="190.84" y="634.17" width="4.50" height="0.34" fill="#2e8b7a"/>
<rect x="190.84" y="633.69" width="4.50" height="0.48" fill="#ff6418"/>
<rect x="190.84" y="632.93" width="4.50" height="0.76" fill="#ffb000"/>
<rect x="190.84" y="632.22" width="4.50" height="0.71" fill="#4a90d9"/>
<rect x="190.84" y="628.10" width="4.50" height="4.12" fill="#d6e2a2"/>
<rect x="196.83" y="786.12" width="4.50" height="0.48" fill="#20ee8c"/>
<rect x="196.83" y="693.24" width="4.50" height="92.88" fill="#8b2b24"/>
<rect x="196.83" y="644.58" width="4.50" height="48.66" fill="#ff4fa3"/>
<rect x="196.83" y="637.13" width="4.50" height="7.45" fill="#7e3c96"/>
<rect x="196.83" y="636.31" width="4.50" height="0.82" fill="#d3783b"/>
<rect x="196.83" y="634.96" width="4.50" height="1.35" fill="#e8001c"/>
<rect x="196.83" y="634.66" width="4.50" height="0.30" fill="#e3cba8"/>
<rect x="196.83" y="634.31" width="4.50" height="0.36" fill="#f08484"/>
<rect x="196.83" y="633.97" width="4.50" height="0.33" fill="#7fb3d9"/>
<rect x="196.83" y="633.44" width="4.50" height="0.53" fill="#e8a9e0"/>
<rect x="196.83" y="633.25" width="4.50" height="0.19" fill="#2e8b7a"/>
<rect x="196.83" y="632.96" width="4.50" height="0.29" fill="#ff6418"/>
<rect x="196.83" y="632.53" width="4.50" height="0.43" fill="#ffb000"/>
<rect x="196.83" y="632.22" width="4.50" height="0.31" fill="#4a90d9"/>
<rect x="196.83" y="628.10" width="4.50" height="4.12" fill="#d6e2a2"/>
<rect x="202.82" y="786.12" width="4.50" height="0.48" fill="#20ee8c"/>
<rect x="202.82" y="691.34" width="4.50" height="94.78" fill="#8b2b24"/>
<rect x="202.82" y="639.99" width="4.50" height="51.35" fill="#ff4fa3"/>
<rect x="202.82" y="635.39" width="4.50" height="4.60" fill="#7e3c96"/>
<rect x="202.82" y="634.43" width="4.50" height="0.96" fill="#d3783b"/>
<rect x="202.82" y="633.57" width="4.50" height="0.86" fill="#e8001c"/>
<rect x="202.82" y="633.26" width="4.50" height="0.31" fill="#e3cba8"/>
<rect x="202.82" y="633.03" width="4.50" height="0.24" fill="#f08484"/>
<rect x="202.82" y="632.75" width="4.50" height="0.28" fill="#7fb3d9"/>
<rect x="202.82" y="632.38" width="4.50" height="0.37" fill="#e8a9e0"/>
<rect x="202.82" y="632.21" width="4.50" height="0.16" fill="#2e8b7a"/>
<rect x="202.82" y="631.93" width="4.50" height="0.29" fill="#ff6418"/>
<rect x="202.82" y="631.59" width="4.50" height="0.34" fill="#ffb000"/>
<rect x="202.82" y="631.27" width="4.50" height="0.32" fill="#4a90d9"/>
<rect x="202.82" y="628.10" width="4.50" height="3.17" fill="#d6e2a2"/>
<rect x="208.81" y="786.12" width="4.50" height="0.48" fill="#20ee8c"/>
<rect x="208.81" y="697.84" width="4.50" height="88.28" fill="#8b2b24"/>
<rect x="208.81" y="645.54" width="4.50" height="52.30" fill="#ff4fa3"/>
<rect x="208.81" y="640.94" width="4.50" height="4.60" fill="#7e3c96"/>
<rect x="208.81" y="639.61" width="4.50" height="1.33" fill="#d3783b"/>
<rect x="208.81" y="637.70" width="4.50" height="1.91" fill="#e8001c"/>
<rect x="208.81" y="637.04" width="4.50" height="0.66" fill="#e3cba8"/>
<rect x="208.81" y="636.45" width="4.50" height="0.60" fill="#f08484"/>
<rect x="208.81" y="635.88" width="4.50" height="0.57" fill="#7fb3d9"/>
<rect x="208.81" y="635.02" width="4.50" height="0.85" fill="#e8a9e0"/>
<rect x="208.81" y="634.73" width="4.50" height="0.29" fill="#2e8b7a"/>
<rect x="208.81" y="634.32" width="4.50" height="0.41" fill="#ff6418"/>
<rect x="208.81" y="633.45" width="4.50" height="0.87" fill="#ffb000"/>
<rect x="208.81" y="632.70" width="4.50" height="0.75" fill="#4a90d9"/>
<rect x="208.81" y="628.10" width="4.50" height="4.60" fill="#d6e2a2"/>
<rect x="214.80" y="786.12" width="4.50" height="0.48" fill="#20ee8c"/>
<rect x="214.80" y="697.05" width="4.50" height="89.08" fill="#8b2b24"/>
<rect x="214.80" y="649.66" width="4.50" height="47.39" fill="#ff4fa3"/>
<rect x="214.80" y="639.20" width="4.50" height="10.46" fill="#7e3c96"/>
<rect x="214.80" y="637.55" width="4.50" height="1.64" fill="#d3783b"/>
<rect x="214.80" y="636.12" width="4.50" height="1.43" fill="#e8001c"/>
<rect x="214.80" y="635.49" width="4.50" height="0.63" fill="#e3cba8"/>
<rect x="214.80" y="635.15" width="4.50" height="0.34" fill="#f08484"/>
<rect x="214.80" y="634.69" width="4.50" height="0.45" fill="#7fb3d9"/>
<rect x="214.80" y="634.08" width="4.50" height="0.61" fill="#e8a9e0"/>
<rect x="214.80" y="633.70" width="4.50" height="0.38" fill="#2e8b7a"/>
<rect x="214.80" y="633.37" width="4.50" height="0.34" fill="#ff6418"/>
<rect x="214.80" y="632.64" width="4.50" height="0.73" fill="#ffb000"/>
<rect x="214.80" y="632.22" width="4.50" height="0.42" fill="#4a90d9"/>
<rect x="214.80" y="628.10" width="4.50" height="4.12" fill="#d6e2a2"/>
<rect x="220.79" y="786.12" width="4.50" height="0.48" fill="#20ee8c"/>
<rect x="220.79" y="707.03" width="4.50" height="79.09" fill="#8b2b24"/>
<rect x="220.79" y="646.17" width="4.50" height="60.86" fill="#ff4fa3"/>
<rect x="220.79" y="637.13" width="4.50" height="9.03" fill="#7e3c96"/>
<rect x="220.79" y="635.89" width="4.50" height="1.24" fill="#d3783b"/>
<rect x="220.79" y="634.90" width="4.50" height="0.99" fill="#e8001c"/>
<rect x="220.79" y="634.45" width="4.50" height="0.45" fill="#e3cba8"/>
<rect x="220.79" y="634.15" width="4.50" height="0.30" fill="#f08484"/>
<rect x="220.79" y="633.67" width="4.50" height="0.47" fill="#7fb3d9"/>
<rect x="220.79" y="633.00" width="4.50" height="0.67" fill="#e8a9e0"/>
<rect x="220.79" y="632.73" width="4.50" height="0.27" fill="#2e8b7a"/>
<rect x="220.79" y="632.47" width="4.50" height="0.26" fill="#ff6418"/>
<rect x="220.79" y="632.06" width="4.50" height="0.40" fill="#ffb000"/>
<rect x="220.79" y="631.59" width="4.50" height="0.48" fill="#4a90d9"/>
<rect x="220.79" y="628.10" width="4.50" height="3.49" fill="#d6e2a2"/>
<rect x="226.78" y="786.12" width="4.50" height="0.48" fill="#20ee8c"/>
<rect x="226.78" y="698.95" width="4.50" height="87.17" fill="#8b2b24"/>
<rect x="226.78" y="649.02" width="4.50" height="49.93" fill="#ff4fa3"/>
<rect x="226.78" y="642.52" width="4.50" height="6.50" fill="#7e3c96"/>
<rect x="226.78" y="640.48" width="4.50" height="2.05" fill="#d3783b"/>
<rect x="226.78" y="638.36" width="4.50" height="2.12" fill="#e8001c"/>
<rect x="226.78" y="637.62" width="4.50" height="0.73" fill="#e3cba8"/>
<rect x="226.78" y="637.10" width="4.50" height="0.52" fill="#f08484"/>
<rect x="226.78" y="636.49" width="4.50" height="0.61" fill="#7fb3d9"/>
<rect x="226.78" y="635.44" width="4.50" height="1.05" fill="#e8a9e0"/>
<rect x="226.78" y="634.93" width="4.50" height="0.51" fill="#2e8b7a"/>
<rect x="226.78" y="634.36" width="4.50" height="0.56" fill="#ff6418"/>
<rect x="226.78" y="633.47" width="4.50" height="0.89" fill="#ffb000"/>
<rect x="226.78" y="632.70" width="4.50" height="0.78" fill="#4a90d9"/>
<rect x="226.78" y="628.10" width="4.50" height="4.60" fill="#d6e2a2"/>
<rect x="232.77" y="786.12" width="4.50" height="0.48" fill="#20ee8c"/>
<rect x="232.77" y="706.08" width="4.50" height="80.04" fill="#8b2b24"/>
<rect x="232.77" y="646.64" width="4.50" height="59.44" fill="#ff4fa3"/>
<rect x="232.77" y="639.99" width="4.50" height="6.66" fill="#7e3c96"/>
<rect x="232.77" y="638.37" width="4.50" height="1.62" fill="#d3783b"/>
<rect x="232.77" y="636.47" width="4.50" height="1.90" fill="#e8001c"/>
<rect x="232.77" y="635.91" width="4.50" height="0.56" fill="#e3cba8"/>
<rect x="232.77" y="635.52" width="4.50" height="0.40" fill="#f08484"/>
<rect x="232.77" y="635.08" width="4.50" height="0.44" fill="#7fb3d9"/>
<rect x="232.77" y="634.18" width="4.50" height="0.90" fill="#e8a9e0"/>
<rect x="232.77" y="633.87" width="4.50" height="0.32" fill="#2e8b7a"/>
<rect x="232.77" y="633.37" width="4.50" height="0.49" fill="#ff6418"/>
<rect x="232.77" y="632.83" width="4.50" height="0.55" fill="#ffb000"/>
<rect x="232.77" y="632.22" width="4.50" height="0.61" fill="#4a90d9"/>
<rect x="232.77" y="628.10" width="4.50" height="4.12" fill="#d6e2a2"/>
<rect x="238.76" y="786.12" width="4.50" height="0.48" fill="#20ee8c"/>
<rect x="238.76" y="709.73" width="4.50" height="76.40" fill="#8b2b24"/>
<rect x="238.76" y="649.66" width="4.50" height="60.07" fill="#ff4fa3"/>
<rect x="238.76" y="639.20" width="4.50" height="10.46" fill="#7e3c96"/>
<rect x="238.76" y="637.64" width="4.50" height="1.55" fill="#d3783b"/>
<rect x="238.76" y="636.37" width="4.50" height="1.27" fill="#e8001c"/>
<rect x="238.76" y="635.74" width="4.50" height="0.63" fill="#e3cba8"/>
<rect x="238.76" y="635.24" width="4.50" height="0.50" fill="#f08484"/>
<rect x="238.76" y="634.80" width="4.50" height="0.45" fill="#7fb3d9"/>
<rect x="238.76" y="634.15" width="4.50" height="0.64" fill="#e8a9e0"/>
<rect x="238.76" y="633.84" width="4.50" height="0.32" fill="#2e8b7a"/>
<rect x="238.76" y="633.39" width="4.50" height="0.45" fill="#ff6418"/>
<rect x="238.76" y="632.85" width="4.50" height="0.54" fill="#ffb000"/>
<rect x="238.76" y="632.22" width="4.50" height="0.63" fill="#4a90d9"/>
<rect x="238.76" y="628.10" width="4.50" height="4.12" fill="#d6e2a2"/>
<rect x="244.75" y="786.12" width="4.50" height="0.48" fill="#20ee8c"/>
<rect x="244.75" y="703.07" width="4.50" height="83.05" fill="#8b2b24"/>
<rect x="244.75" y="646.33" width="4.50" height="56.74" fill="#ff4fa3"/>
<rect x="244.75" y="641.57" width="4.50" height="4.75" fill="#7e3c96"/>
<rect x="244.75" y="639.77" width="4.50" height="1.80" fill="#d3783b"/>
<rect x="244.75" y="637.47" width="4.50" height="2.30" fill="#e8001c"/>
<rect x="244.75" y="636.75" width="4.50" height="0.72" fill="#e3cba8"/>
<rect x="244.75" y="636.29" width="4.50" height="0.46" fill="#f08484"/>
<rect x="244.75" y="635.74" width="4.50" height="0.55" fill="#7fb3d9"/>
<rect x="244.75" y="634.90" width="4.50" height="0.85" fill="#e8a9e0"/>
<rect x="244.75" y="634.53" width="4.50" height="0.36" fill="#2e8b7a"/>
<rect x="244.75" y="634.01" width="4.50" height="0.52" fill="#ff6418"/>
<rect x="244.75" y="633.42" width="4.50" height="0.60" fill="#ffb000"/>
<rect x="244.75" y="632.70" width="4.50" height="0.72" fill="#4a90d9"/>
<rect x="244.75" y="628.10" width="4.50" height="4.60" fill="#d6e2a2"/>
<line x1="52.00" y1="627.80" x2="52.00" y2="786.90" stroke="#7a7a7a" stroke-width="1.1"/>
<line x1="52.00" y1="786.70" x2="250.50" y2="786.70" stroke="#8a8a8a" stroke-width="0.6"/>
<line x1="50.20" y1="786.60" x2="52.00" y2="786.60" stroke="#666" stroke-width="0.7"/>
<text x="49.80" y="788.60" font-size="5.6" fill="#444" text-anchor="end" stroke="#444" stroke-width="0.17">0</text>
<line x1="50.20" y1="754.90" x2="52.00" y2="754.90" stroke="#666" stroke-width="0.7"/>
<text x="49.80" y="756.90" font-size="5.6" fill="#444" text-anchor="end" stroke="#444" stroke-width="0.17">20</text>
<line x1="50.20" y1="723.20" x2="52.00" y2="723.20" stroke="#666" stroke-width="0.7"/>
<text x="49.80" y="725.20" font-size="5.6" fill="#444" text-anchor="end" stroke="#444" stroke-width="0.17">40</text>
<line x1="50.20" y1="691.50" x2="52.00" y2="691.50" stroke="#666" stroke-width="0.7"/>
<text x="49.80" y="693.50" font-size="5.6" fill="#444" text-anchor="end" stroke="#444" stroke-width="0.17">60</text>
<line x1="50.20" y1="659.80" x2="52.00" y2="659.80" stroke="#666" stroke-width="0.7"/>
<text x="49.80" y="661.80" font-size="5.6" fill="#444" text-anchor="end" stroke="#444" stroke-width="0.17">80</text>
<line x1="50.20" y1="628.10" x2="52.00" y2="628.10" stroke="#666" stroke-width="0.7"/>
<text x="49.80" y="630.10" font-size="5.6" fill="#444" text-anchor="end" stroke="#444" stroke-width="0.17">100</text>
<text x="56.65" y="789.20" font-size="3.9" fill="#444" text-anchor="end" transform="rotate(-90 56.65 789.20)">BL_22A</text>
<text x="158.35" y="789.20" font-size="3.9" fill="#444" text-anchor="end" transform="rotate(-90 158.35 789.20)">BL_14A</text>
<text x="62.64" y="789.20" font-size="3.9" fill="#444" text-anchor="end" transform="rotate(-90 62.64 789.20)">BL_21A</text>
<text x="164.34" y="789.20" font-size="3.9" fill="#444" text-anchor="end" transform="rotate(-90 164.34 789.20)">BL_19A</text>
<text x="68.63" y="789.20" font-size="3.9" fill="#444" text-anchor="end" transform="rotate(-90 68.63 789.20)">BL_28A</text>
<text x="170.33" y="789.20" font-size="3.9" fill="#444" text-anchor="end" transform="rotate(-90 170.33 789.20)">BL_21A</text>
<text x="74.62" y="789.20" font-size="3.9" fill="#444" text-anchor="end" transform="rotate(-90 74.62 789.20)">BL_23A</text>
<text x="176.32" y="789.20" font-size="3.9" fill="#444" text-anchor="end" transform="rotate(-90 176.32 789.20)">BL_18A</text>
<text x="80.61" y="789.20" font-size="3.9" fill="#444" text-anchor="end" transform="rotate(-90 80.61 789.20)">BL_13A</text>
<text x="182.31" y="789.20" font-size="3.9" fill="#444" text-anchor="end" transform="rotate(-90 182.31 789.20)">BL_26A</text>
<text x="86.60" y="789.20" font-size="3.9" fill="#444" text-anchor="end" transform="rotate(-90 86.60 789.20)">BL_14A</text>
<text x="188.30" y="789.20" font-size="3.9" fill="#444" text-anchor="end" transform="rotate(-90 188.30 789.20)">BL_25A</text>
<text x="92.59" y="789.20" font-size="3.9" fill="#444" text-anchor="end" transform="rotate(-90 92.59 789.20)">BL_19A</text>
<text x="194.29" y="789.20" font-size="3.9" fill="#444" text-anchor="end" transform="rotate(-90 194.29 789.20)">BL_24A</text>
<text x="98.58" y="789.20" font-size="3.9" fill="#444" text-anchor="end" transform="rotate(-90 98.58 789.20)">BL_21A</text>
<text x="200.28" y="789.20" font-size="3.9" fill="#444" text-anchor="end" transform="rotate(-90 200.28 789.20)">BL_27A</text>
<text x="104.57" y="789.20" font-size="3.9" fill="#444" text-anchor="end" transform="rotate(-90 104.57 789.20)">BL_18A</text>
<text x="206.27" y="789.20" font-size="3.9" fill="#444" text-anchor="end" transform="rotate(-90 206.27 789.20)">BL_15A</text>
<text x="110.56" y="789.20" font-size="3.9" fill="#444" text-anchor="end" transform="rotate(-90 110.56 789.20)">BL_26A</text>
<text x="212.26" y="789.20" font-size="3.9" fill="#444" text-anchor="end" transform="rotate(-90 212.26 789.20)">BL_23A</text>
<text x="116.55" y="789.20" font-size="3.9" fill="#444" text-anchor="end" transform="rotate(-90 116.55 789.20)">BL_25A</text>
<text x="218.25" y="789.20" font-size="3.9" fill="#444" text-anchor="end" transform="rotate(-90 218.25 789.20)">BL_20A</text>
<text x="122.54" y="789.20" font-size="3.9" fill="#444" text-anchor="end" transform="rotate(-90 122.54 789.20)">BL_24A</text>
<text x="224.24" y="789.20" font-size="3.9" fill="#444" text-anchor="end" transform="rotate(-90 224.24 789.20)">BL_11A</text>
<text x="128.53" y="789.20" font-size="3.9" fill="#444" text-anchor="end" transform="rotate(-90 128.53 789.20)">BL_27A</text>
<text x="230.23" y="789.20" font-size="3.9" fill="#444" text-anchor="end" transform="rotate(-90 230.23 789.20)">BL_29A</text>
<text x="134.52" y="789.20" font-size="3.9" fill="#444" text-anchor="end" transform="rotate(-90 134.52 789.20)">BL_15A</text>
<text x="236.22" y="789.20" font-size="3.9" fill="#444" text-anchor="end" transform="rotate(-90 236.22 789.20)">BL_22A</text>
<text x="140.51" y="789.20" font-size="3.9" fill="#444" text-anchor="end" transform="rotate(-90 140.51 789.20)">BL_23A</text>
<text x="242.21" y="789.20" font-size="3.9" fill="#444" text-anchor="end" transform="rotate(-90 242.21 789.20)">BL_21A</text>
<text x="146.50" y="789.20" font-size="3.9" fill="#444" text-anchor="end" transform="rotate(-90 146.50 789.20)">BL_20A</text>
<text x="248.20" y="789.20" font-size="3.9" fill="#444" text-anchor="end" transform="rotate(-90 248.20 789.20)">BL_28A</text>
<text x="38.40" y="706.00" font-size="11" fill="#2a2a2a" text-anchor="middle" textLength="91.60" lengthAdjust="spacingAndGlyphs" transform="rotate(-90 38.40 706.00)" stroke="#2a2a2a" stroke-width="0.33">Relative abundance</text>
<text x="70.80" y="816.40" font-size="7" fill="#2a2a2a" textLength="62.70" lengthAdjust="spacingAndGlyphs" stroke="#2a2a2a" stroke-width="0.21">High Acidobacteriia</text>
<text x="171.40" y="816.40" font-size="7" fill="#2a2a2a" textLength="61.70" lengthAdjust="spacingAndGlyphs" stroke="#2a2a2a" stroke-width="0.21">Low Acidobacteriia</text>
<text x="259.50" y="670.30" font-size="6.8" fill="#2a2a2a" stroke="#2a2a2a" stroke-width="0.20">Class</text>
<rect x="259.70" y="673.60" width="7.00" height="4.70" fill="#d6e2a2"/>
<text x="269.90" y="677.40" font-size="4.75" fill="#333">others</text>
<rect x="259.70" y="679.21" width="7.00" height="4.70" fill="#4a90d9"/>
<text x="269.90" y="683.01" font-size="4.75" fill="#333">unidentified_WPS-2</text>
<rect x="259.70" y="684.82" width="7.00" height="4.70" fill="#ffb000"/>
<text x="269.90" y="688.62" font-size="4.75" fill="#333">Acidobacteria-6</text>
<rect x="259.70" y="690.43" width="7.00" height="4.70" fill="#ff6418"/>
<text x="269.90" y="694.23" font-size="4.75" fill="#333">Bacteroidia</text>
<rect x="259.70" y="696.04" width="7.00" height="4.70" fill="#2e8b7a"/>
<text x="269.90" y="699.84" font-size="4.75" fill="#333">Deltaproteobacteria</text>
<rect x="259.70" y="701.65" width="7.00" height="4.70" fill="#e8a9e0"/>
<text x="269.90" y="705.45" font-size="4.75" fill="#333">Ktedonobacteria</text>
<rect x="259.70" y="707.26" width="7.00" height="4.70" fill="#7fb3d9"/>
<text x="269.90" y="711.06" font-size="4.75" fill="#333">Bacilli</text>
<rect x="259.70" y="712.87" width="7.00" height="4.70" fill="#f08484"/>
<text x="269.90" y="716.67" font-size="4.75" fill="#333">Chloroplast</text>
<rect x="259.70" y="718.48" width="7.00" height="4.70" fill="#e3cba8"/>
<text x="269.90" y="722.28" font-size="4.75" fill="#333">Clostridia</text>
<rect x="259.70" y="724.09" width="7.00" height="4.70" fill="#e8001c"/>
<text x="269.90" y="727.89" font-size="4.75" fill="#333">Actinobacteria</text>
<rect x="259.70" y="729.70" width="7.00" height="4.70" fill="#d3783b"/>
<text x="269.90" y="733.50" font-size="4.75" fill="#333">Betaproteobacteria</text>
<rect x="259.70" y="735.31" width="7.00" height="4.70" fill="#7e3c96"/>
<text x="269.90" y="739.11" font-size="4.75" fill="#333">Saprospirae</text>
<rect x="259.70" y="740.92" width="7.00" height="4.70" fill="#ff4fa3"/>
<text x="269.90" y="744.72" font-size="4.75" fill="#333">Alphaproteobacteria</text>
<rect x="259.70" y="746.53" width="7.00" height="4.70" fill="#8b2b24"/>
<text x="269.90" y="750.33" font-size="4.75" fill="#333">Gammaproteobacteria</text>
<rect x="259.70" y="752.14" width="7.00" height="4.70" fill="#20ee8c"/>
<text x="269.90" y="755.94" font-size="4.75" fill="#333">Acidobacteria</text>
<line x1="118.00" y1="890.60" x2="118.00" y2="1175.10" stroke="#333" stroke-width="1.2"/>
<line x1="117.40" y1="1174.50" x2="238.23" y2="1174.50" stroke="#333" stroke-width="1.2"/>
<line x1="130.80" y1="890.60" x2="130.80" y2="1174.50" stroke="#333" stroke-width="0.9" stroke-dasharray="1.6,1.6"/>
<line x1="117.80" y1="1174.50" x2="117.80" y2="1176.10" stroke="#333" stroke-width="0.9"/>
<text x="117.80" y="1184.20" font-size="7.2" fill="#333" text-anchor="middle" stroke="#333" stroke-width="0.22">0</text>
<line x1="131.07" y1="1174.50" x2="131.07" y2="1176.10" stroke="#333" stroke-width="0.9"/>
<text x="131.07" y="1184.20" font-size="7.2" fill="#333" text-anchor="middle" stroke="#333" stroke-width="0.22">1</text>
<line x1="144.34" y1="1174.50" x2="144.34" y2="1176.10" stroke="#333" stroke-width="0.9"/>
<text x="144.34" y="1184.20" font-size="7.2" fill="#333" text-anchor="middle" stroke="#333" stroke-width="0.22">2</text>
<line x1="157.61" y1="1174.50" x2="157.61" y2="1176.10" stroke="#333" stroke-width="0.9"/>
<text x="157.61" y="1184.20" font-size="7.2" fill="#333" text-anchor="middle" stroke="#333" stroke-width="0.22">3</text>
<line x1="170.88" y1="1174.50" x2="170.88" y2="1176.10" stroke="#333" stroke-width="0.9"/>
<text x="170.88" y="1184.20" font-size="7.2" fill="#333" text-anchor="middle" stroke="#333" stroke-width="0.22">4</text>
<line x1="184.15" y1="1174.50" x2="184.15" y2="1176.10" stroke="#333" stroke-width="0.9"/>
<text x="184.15" y="1184.20" font-size="7.2" fill="#333" text-anchor="middle" stroke="#333" stroke-width="0.22">5</text>
<line x1="197.42" y1="1174.50" x2="197.42" y2="1176.10" stroke="#333" stroke-width="0.9"/>
<text x="197.42" y="1184.20" font-size="7.2" fill="#333" text-anchor="middle" stroke="#333" stroke-width="0.22">6</text>
<line x1="210.69" y1="1174.50" x2="210.69" y2="1176.10" stroke="#333" stroke-width="0.9"/>
<text x="210.69" y="1184.20" font-size="7.2" fill="#333" text-anchor="middle" stroke="#333" stroke-width="0.22">7</text>
<line x1="223.96" y1="1174.50" x2="223.96" y2="1176.10" stroke="#333" stroke-width="0.9"/>
<text x="223.96" y="1184.20" font-size="7.2" fill="#333" text-anchor="middle" stroke="#333" stroke-width="0.22">8</text>
<line x1="237.23" y1="1174.50" x2="237.23" y2="1176.10" stroke="#333" stroke-width="0.9"/>
<text x="237.23" y="1184.20" font-size="7.2" fill="#333" text-anchor="middle" stroke="#333" stroke-width="0.22">9</text>
<line x1="115.40" y1="904.40" x2="118.00" y2="904.40" stroke="#333" stroke-width="0.9"/>
<text x="115.60" y="906.70" font-size="6.8" fill="#2a2a2a" text-anchor="end" stroke="#2a2a2a" stroke-width="0.20">Age (yr)</text>
<text x="115.60" y="914.60" font-size="6.8" fill="#2a2a2a" text-anchor="end" stroke="#2a2a2a" stroke-width="0.20">(&lt;66 vs ≥66)</text>
<line x1="121.90" y1="904.40" x2="167.90" y2="904.40" stroke="#333" stroke-width="1.0"/>
<line x1="121.90" y1="902.80" x2="121.90" y2="906.00" stroke="#333" stroke-width="0.8"/>
<line x1="167.90" y1="902.80" x2="167.90" y2="906.00" stroke="#333" stroke-width="0.8"/>
<circle cx="144.70" cy="904.40" r="1.9" fill="#111"/>
<text x="277.40" y="907.40" font-size="8.4" fill="#222" text-anchor="middle" stroke="#222" stroke-width="0.25" letter-spacing="0.3">1.54 (0.60-3.91)</text>
<text x="343.40" y="907.40" font-size="8.4" fill="#222" text-anchor="middle" stroke="#222" stroke-width="0.25" letter-spacing="0.3">0.37</text>
<line x1="115.40" y1="924.19" x2="118.00" y2="924.19" stroke="#333" stroke-width="0.9"/>
<text x="115.60" y="926.49" font-size="6.8" fill="#2a2a2a" text-anchor="end" stroke="#2a2a2a" stroke-width="0.20">Sex</text>
<text x="115.60" y="934.39" font-size="6.8" fill="#2a2a2a" text-anchor="end" stroke="#2a2a2a" stroke-width="0.20">(Male vs Female)</text>
<line x1="122.90" y1="924.19" x2="149.90" y2="924.19" stroke="#333" stroke-width="1.0"/>
<line x1="122.90" y1="922.59" x2="122.90" y2="925.79" stroke="#333" stroke-width="0.8"/>
<line x1="149.90" y1="922.59" x2="149.90" y2="925.79" stroke="#333" stroke-width="0.8"/>
<circle cx="136.10" cy="924.19" r="1.9" fill="#111"/>
<text x="277.40" y="927.07" font-size="8.4" fill="#222" text-anchor="middle" stroke="#222" stroke-width="0.25" letter-spacing="0.3">1.12 (0.50-2.54)</text>
<text x="343.40" y="927.07" font-size="8.4" fill="#222" text-anchor="middle" stroke="#222" stroke-width="0.25" letter-spacing="0.3">0.78</text>
<line x1="115.40" y1="943.98" x2="118.00" y2="943.98" stroke="#333" stroke-width="0.9"/>
<text x="115.60" y="946.28" font-size="6.8" fill="#2a2a2a" text-anchor="end" stroke="#2a2a2a" stroke-width="0.20">Preoperative CA19-9 (U/ml)</text>
<text x="115.60" y="954.18" font-size="6.8" fill="#2a2a2a" text-anchor="end" stroke="#2a2a2a" stroke-width="0.20">(CA19-9 ≤ 150 vs CA 19-9 &gt; 150)</text>
<line x1="120.50" y1="943.98" x2="143.70" y2="943.98" stroke="#333" stroke-width="1.0"/>
<line x1="120.50" y1="942.38" x2="120.50" y2="945.58" stroke="#333" stroke-width="0.8"/>
<line x1="143.70" y1="942.38" x2="143.70" y2="945.58" stroke="#333" stroke-width="0.8"/>
<circle cx="131.60" cy="943.98" r="1.9" fill="#111"/>
<text x="277.40" y="946.74" font-size="8.4" fill="#222" text-anchor="middle" stroke="#222" stroke-width="0.25" letter-spacing="0.3">0.84 (0.35-2.04)</text>
<text x="343.40" y="946.74" font-size="8.4" fill="#222" text-anchor="middle" stroke="#222" stroke-width="0.25" letter-spacing="0.3">0.7</text>
<line x1="115.40" y1="963.77" x2="118.00" y2="963.77" stroke="#333" stroke-width="0.9"/>
<text x="115.60" y="966.07" font-size="6.8" fill="#2a2a2a" text-anchor="end" stroke="#2a2a2a" stroke-width="0.20">Preoperative biliary drainage</text>
<text x="115.60" y="973.97" font-size="6.8" fill="#2a2a2a" text-anchor="end" stroke="#2a2a2a" stroke-width="0.20">(Not performed vs Performed)</text>
<line x1="121.20" y1="963.77" x2="149.90" y2="963.77" stroke="#333" stroke-width="1.0"/>
<line x1="121.20" y1="962.17" x2="121.20" y2="965.37" stroke="#333" stroke-width="0.8"/>
<line x1="149.90" y1="962.17" x2="149.90" y2="965.37" stroke="#333" stroke-width="0.8"/>
<circle cx="135.00" cy="963.77" r="1.9" fill="#111"/>
<text x="277.40" y="966.41" font-size="8.4" fill="#222" text-anchor="middle" stroke="#222" stroke-width="0.25" letter-spacing="0.3">1.04 (0.42-2.53)</text>
<text x="343.40" y="966.41" font-size="8.4" fill="#222" text-anchor="middle" stroke="#222" stroke-width="0.25" letter-spacing="0.3">0.94</text>
<line x1="115.40" y1="983.56" x2="118.00" y2="983.56" stroke="#333" stroke-width="0.9"/>
<text x="115.60" y="985.86" font-size="6.8" fill="#2a2a2a" stroke="#2a2a2a" stroke-width="0.20" text-anchor="end">pT<tspan font-size="4.08" dy="-3.06">a</tspan></text>
<text x="115.60" y="993.76" font-size="6.8" fill="#2a2a2a" text-anchor="end" stroke="#2a2a2a" stroke-width="0.20">(1/2 vs 3/4)</text>
<line x1="133.30" y1="983.56" x2="158.60" y2="983.56" stroke="#333" stroke-width="1.0"/>
<line x1="133.30" y1="981.96" x2="133.30" y2="985.16" stroke="#333" stroke-width="0.8"/>
<line x1="158.60" y1="981.96" x2="158.60" y2="985.16" stroke="#333" stroke-width="0.8"/>
<circle cx="146.10" cy="983.56" r="1.9" fill="#111"/>
<text x="277.40" y="986.08" font-size="8.4" fill="#222" text-anchor="middle" stroke="#222" stroke-width="0.25" letter-spacing="0.3">1.98 (1.25-3.12)</text>
<text x="343.40" y="986.08" font-size="8.4" fill="#222" text-anchor="middle" stroke="#222" stroke-width="0.25" letter-spacing="0.3">0.003</text>
<line x1="115.40" y1="1003.35" x2="118.00" y2="1003.35" stroke="#333" stroke-width="0.9"/>
<text x="115.60" y="1005.65" font-size="6.8" fill="#2a2a2a" text-anchor="end" stroke="#2a2a2a" stroke-width="0.20">Lymph node metastasis</text>
<text x="115.60" y="1013.55" font-size="6.8" fill="#2a2a2a" text-anchor="end" stroke="#2a2a2a" stroke-width="0.20">(Absent vs Present)</text>
<line x1="135.00" y1="1003.35" x2="156.50" y2="1003.35" stroke="#333" stroke-width="1.0"/>
<line x1="135.00" y1="1001.75" x2="135.00" y2="1004.95" stroke="#333" stroke-width="0.8"/>
<line x1="156.50" y1="1001.75" x2="156.50" y2="1004.95" stroke="#333" stroke-width="0.8"/>
<circle cx="146.10" cy="1003.35" r="1.9" fill="#111"/>
<text x="277.40" y="1005.75" font-size="8.4" fill="#222" text-anchor="middle" stroke="#222" stroke-width="0.25" letter-spacing="0.3">2.01 (1.38-2.92)</text>
<text x="343.40" y="1005.75" font-size="8.4" fill="#222" text-anchor="middle" stroke="#222" stroke-width="0.25" letter-spacing="0.3">&lt;0.001</text>
<line x1="115.40" y1="1023.14" x2="118.00" y2="1023.14" stroke="#333" stroke-width="0.9"/>
<text x="115.60" y="1025.44" font-size="6.8" fill="#2a2a2a" stroke="#2a2a2a" stroke-width="0.20" text-anchor="end">pStage<tspan font-size="4.08" dy="-3.06">a</tspan></text>
<text x="115.60" y="1033.34" font-size="6.8" fill="#2a2a2a" text-anchor="end" stroke="#2a2a2a" stroke-width="0.20">(I/II vs III/IV)</text>
<line x1="135.00" y1="1023.14" x2="222.30" y2="1023.14" stroke="#333" stroke-width="1.0"/>
<line x1="135.00" y1="1021.54" x2="135.00" y2="1024.74" stroke="#333" stroke-width="0.8"/>
<line x1="222.30" y1="1021.54" x2="222.30" y2="1024.74" stroke="#333" stroke-width="0.8"/>
<circle cx="178.30" cy="1023.14" r="1.9" fill="#111"/>
<text x="277.40" y="1025.42" font-size="8.4" fill="#222" text-anchor="middle" stroke="#222" stroke-width="0.25" letter-spacing="0.3">3.49 (1.48-8.24)</text>
<text x="343.40" y="1025.42" font-size="8.4" fill="#222" text-anchor="middle" stroke="#222" stroke-width="0.25" letter-spacing="0.3">0.004</text>
<line x1="115.40" y1="1042.93" x2="118.00" y2="1042.93" stroke="#333" stroke-width="0.9"/>
<text x="115.60" y="1045.23" font-size="6.8" fill="#2a2a2a" text-anchor="end" stroke="#2a2a2a" stroke-width="0.20">Histological grade</text>
<text x="115.60" y="1053.13" font-size="6.8" fill="#2a2a2a" text-anchor="end" stroke="#2a2a2a" stroke-width="0.20">(G2 vs G3)</text>
<line x1="122.90" y1="1042.93" x2="167.20" y2="1042.93" stroke="#333" stroke-width="1.0"/>
<line x1="122.90" y1="1041.33" x2="122.90" y2="1044.53" stroke="#333" stroke-width="0.8"/>
<line x1="167.20" y1="1041.33" x2="167.20" y2="1044.53" stroke="#333" stroke-width="0.8"/>
<circle cx="145.40" cy="1042.93" r="1.9" fill="#111"/>
<text x="277.40" y="1045.09" font-size="8.4" fill="#222" text-anchor="middle" stroke="#222" stroke-width="0.25" letter-spacing="0.3">1.62 (0.68-3.88)</text>
<text x="343.40" y="1045.09" font-size="8.4" fill="#222" text-anchor="middle" stroke="#222" stroke-width="0.25" letter-spacing="0.3">0.28</text>
<line x1="115.40" y1="1062.72" x2="118.00" y2="1062.72" stroke="#333" stroke-width="0.9"/>
<text x="115.60" y="1065.02" font-size="6.8" fill="#2a2a2a" text-anchor="end" stroke="#2a2a2a" stroke-width="0.20">Microscopic lymphovascular invasion</text>
<text x="115.60" y="1072.92" font-size="6.8" fill="#2a2a2a" text-anchor="end" stroke="#2a2a2a" stroke-width="0.20">(Absent vs Present)</text>
<line x1="122.20" y1="1062.72" x2="178.30" y2="1062.72" stroke="#333" stroke-width="1.0"/>
<line x1="122.20" y1="1061.12" x2="122.20" y2="1064.32" stroke="#333" stroke-width="0.8"/>
<line x1="178.30" y1="1061.12" x2="178.30" y2="1064.32" stroke="#333" stroke-width="0.8"/>
<circle cx="149.90" cy="1062.72" r="1.9" fill="#111"/>
<text x="277.40" y="1064.76" font-size="8.4" fill="#222" text-anchor="middle" stroke="#222" stroke-width="0.25" letter-spacing="0.3">1.40 (0.40-4.84)</text>
<text x="343.40" y="1064.76" font-size="8.4" fill="#222" text-anchor="middle" stroke="#222" stroke-width="0.25" letter-spacing="0.3">0.6</text>
<line x1="115.40" y1="1082.51" x2="118.00" y2="1082.51" stroke="#333" stroke-width="0.9"/>
<text x="115.60" y="1084.81" font-size="6.8" fill="#2a2a2a" text-anchor="end" stroke="#2a2a2a" stroke-width="0.20">Microscopic perineural invasion</text>
<text x="115.60" y="1092.71" font-size="6.8" fill="#2a2a2a" text-anchor="end" stroke="#2a2a2a" stroke-width="0.20">(Absent vs Present)</text>
<line x1="119.50" y1="1082.51" x2="134.30" y2="1082.51" stroke="#333" stroke-width="1.0"/>
<line x1="119.50" y1="1080.91" x2="119.50" y2="1084.11" stroke="#333" stroke-width="0.8"/>
<line x1="134.30" y1="1080.91" x2="134.30" y2="1084.11" stroke="#333" stroke-width="0.8"/>
<circle cx="127.40" cy="1082.51" r="1.9" fill="#111"/>
<text x="277.40" y="1084.43" font-size="8.4" fill="#222" text-anchor="middle" stroke="#222" stroke-width="0.25" letter-spacing="0.3">0.59 (0.26-1.33)</text>
<text x="343.40" y="1084.43" font-size="8.4" fill="#222" text-anchor="middle" stroke="#222" stroke-width="0.25" letter-spacing="0.3">0.2</text>
<line x1="115.40" y1="1102.30" x2="118.00" y2="1102.30" stroke="#333" stroke-width="0.9"/>
<text x="115.60" y="1104.60" font-size="6.8" fill="#2a2a2a" text-anchor="end" stroke="#2a2a2a" stroke-width="0.20">Resection margin status</text>
<text x="115.60" y="1112.50" font-size="6.8" fill="#2a2a2a" text-anchor="end" stroke="#2a2a2a" stroke-width="0.20">(R0 vs R1)</text>
<line x1="141.30" y1="1102.30" x2="172.40" y2="1102.30" stroke="#333" stroke-width="1.0"/>
<line x1="141.30" y1="1100.70" x2="141.30" y2="1103.90" stroke="#333" stroke-width="0.8"/>
<line x1="172.40" y1="1100.70" x2="172.40" y2="1103.90" stroke="#333" stroke-width="0.8"/>
<circle cx="156.90" cy="1102.30" r="1.9" fill="#111"/>
<text x="277.40" y="1104.10" font-size="8.4" fill="#222" text-anchor="middle" stroke="#222" stroke-width="0.25" letter-spacing="0.3">2.78 (1.85-4.4.19)</text>
<text x="343.40" y="1104.10" font-size="8.4" fill="#222" text-anchor="middle" stroke="#222" stroke-width="0.25" letter-spacing="0.3">&lt;0.001</text>
<line x1="115.40" y1="1122.09" x2="118.00" y2="1122.09" stroke="#333" stroke-width="0.9"/>
<text x="115.60" y="1124.39" font-size="6.8" fill="#2a2a2a" text-anchor="end" stroke="#2a2a2a" stroke-width="0.20">Postoperative adjuvant therapy</text>
<text x="115.60" y="1132.29" font-size="6.8" fill="#2a2a2a" text-anchor="end" stroke="#2a2a2a" stroke-width="0.20">(Not recieved vs Recieved)</text>
<line x1="122.20" y1="1122.09" x2="150.60" y2="1122.09" stroke="#333" stroke-width="1.0"/>
<line x1="122.20" y1="1120.49" x2="122.20" y2="1123.69" stroke="#333" stroke-width="0.8"/>
<line x1="150.60" y1="1120.49" x2="150.60" y2="1123.69" stroke="#333" stroke-width="0.8"/>
<circle cx="136.10" cy="1122.09" r="1.9" fill="#111"/>
<text x="277.40" y="1123.77" font-size="8.4" fill="#222" text-anchor="middle" stroke="#222" stroke-width="0.25" letter-spacing="0.3">1.14 (0.50-2.62)</text>
<text x="343.40" y="1123.77" font-size="8.4" fill="#222" text-anchor="middle" stroke="#222" stroke-width="0.25" letter-spacing="0.3">0.76</text>
<line x1="115.40" y1="1141.88" x2="118.00" y2="1141.88" stroke="#333" stroke-width="0.9"/>
<text x="115.60" y="1144.18" font-size="6.8" fill="#2a2a2a" text-anchor="end" stroke="#2a2a2a" stroke-width="0.20">CD8 positive rate</text>
<text x="115.60" y="1152.08" font-size="6.8" fill="#2a2a2a" text-anchor="end" stroke="#2a2a2a" stroke-width="0.20">(Low vs High)</text>
<line x1="117.70" y1="1141.88" x2="127.40" y2="1141.88" stroke="#333" stroke-width="1.0"/>
<line x1="117.70" y1="1140.28" x2="117.70" y2="1143.48" stroke="#333" stroke-width="0.8"/>
<line x1="127.40" y1="1140.28" x2="127.40" y2="1143.48" stroke="#333" stroke-width="0.8"/>
<circle cx="122.90" cy="1141.88" r="1.9" fill="#111"/>
<text x="277.40" y="1143.44" font-size="8.4" fill="#222" text-anchor="middle" stroke="#222" stroke-width="0.25" letter-spacing="0.3">0.33 (0.14-82)</text>
<text x="343.40" y="1143.44" font-size="8.4" fill="#222" text-anchor="middle" stroke="#222" stroke-width="0.25" letter-spacing="0.3">0.016</text>
<line x1="115.40" y1="1161.67" x2="118.00" y2="1161.67" stroke="#333" stroke-width="0.9"/>
<text x="115.60" y="1163.97" font-size="6.8" fill="#2a2a2a" text-anchor="end" stroke="#2a2a2a" stroke-width="0.20">Clostridia abundance</text>
<text x="115.60" y="1171.87" font-size="6.8" fill="#2a2a2a" text-anchor="end" stroke="#2a2a2a" stroke-width="0.20">(Low vs High)</text>
<line x1="118.80" y1="1161.67" x2="129.80" y2="1161.67" stroke="#333" stroke-width="1.0"/>
<line x1="118.80" y1="1160.07" x2="118.80" y2="1163.27" stroke="#333" stroke-width="0.8"/>
<line x1="129.80" y1="1160.07" x2="129.80" y2="1163.27" stroke="#333" stroke-width="0.8"/>
<circle cx="124.00" cy="1161.67" r="1.9" fill="#111"/>
<text x="277.40" y="1163.11" font-size="8.4" fill="#222" text-anchor="middle" stroke="#222" stroke-width="0.25" letter-spacing="0.3">0.40 (0.17-0.96)</text>
<text x="343.40" y="1163.11" font-size="8.4" fill="#222" text-anchor="middle" stroke="#222" stroke-width="0.25" letter-spacing="0.3">0.039</text>
<text x="117.00" y="873.20" font-size="6.6" fill="#2a2a2a" text-anchor="end" stroke="#2a2a2a" stroke-width="0.20">All patients</text>
<line x1="84.60" y1="875.00" x2="117.20" y2="875.00" stroke="#333" stroke-width="0.8"/>
<text x="117.00" y="883.50" font-size="6.7" fill="#2a2a2a" text-anchor="end" stroke="#2a2a2a" stroke-width="0.20">Univariable risk factor</text>
<line x1="51.00" y1="885.60" x2="118.20" y2="885.60" stroke="#333" stroke-width="1.1"/>
<text x="277.60" y="892.40" font-size="8.4" fill="#222" text-anchor="middle" stroke="#222" stroke-width="0.25" letter-spacing="0.3">HR (95%)</text>
<text x="343.40" y="892.20" font-size="8.4" fill="#222" text-anchor="middle" font-style="italic" stroke="#222" stroke-width="0.25">P</text>
<line x1="233.70" y1="894.60" x2="365.90" y2="894.60" stroke="#333" stroke-width="1.2"/>
<line x1="479.40" y1="888.30" x2="479.40" y2="970.30" stroke="#333" stroke-width="1.2"/>
<line x1="478.80" y1="969.70" x2="599.61" y2="969.70" stroke="#333" stroke-width="1.2"/>
<line x1="492.70" y1="888.30" x2="492.70" y2="969.70" stroke="#333" stroke-width="0.9" stroke-dasharray="1.6,1.6"/>
<line x1="479.00" y1="969.70" x2="479.00" y2="971.30" stroke="#333" stroke-width="0.9"/>
<text x="479.00" y="979.00" font-size="7.2" fill="#333" text-anchor="middle" stroke="#333" stroke-width="0.22">0</text>
<line x1="492.29" y1="969.70" x2="492.29" y2="971.30" stroke="#333" stroke-width="0.9"/>
<text x="492.29" y="979.00" font-size="7.2" fill="#333" text-anchor="middle" stroke="#333" stroke-width="0.22">1</text>
<line x1="505.58" y1="969.70" x2="505.58" y2="971.30" stroke="#333" stroke-width="0.9"/>
<text x="505.58" y="979.00" font-size="7.2" fill="#333" text-anchor="middle" stroke="#333" stroke-width="0.22">2</text>
<line x1="518.87" y1="969.70" x2="518.87" y2="971.30" stroke="#333" stroke-width="0.9"/>
<text x="518.87" y="979.00" font-size="7.2" fill="#333" text-anchor="middle" stroke="#333" stroke-width="0.22">3</text>
<line x1="532.16" y1="969.70" x2="532.16" y2="971.30" stroke="#333" stroke-width="0.9"/>
<text x="532.16" y="979.00" font-size="7.2" fill="#333" text-anchor="middle" stroke="#333" stroke-width="0.22">4</text>
<line x1="545.45" y1="969.70" x2="545.45" y2="971.30" stroke="#333" stroke-width="0.9"/>
<text x="545.45" y="979.00" font-size="7.2" fill="#333" text-anchor="middle" stroke="#333" stroke-width="0.22">5</text>
<line x1="558.74" y1="969.70" x2="558.74" y2="971.30" stroke="#333" stroke-width="0.9"/>
<text x="558.74" y="979.00" font-size="7.2" fill="#333" text-anchor="middle" stroke="#333" stroke-width="0.22">6</text>
<line x1="572.03" y1="969.70" x2="572.03" y2="971.30" stroke="#333" stroke-width="0.9"/>
<text x="572.03" y="979.00" font-size="7.2" fill="#333" text-anchor="middle" stroke="#333" stroke-width="0.22">7</text>
<line x1="585.32" y1="969.70" x2="585.32" y2="971.30" stroke="#333" stroke-width="0.9"/>
<text x="585.32" y="979.00" font-size="7.2" fill="#333" text-anchor="middle" stroke="#333" stroke-width="0.22">8</text>
<line x1="598.61" y1="969.70" x2="598.61" y2="971.30" stroke="#333" stroke-width="0.9"/>
<text x="598.61" y="979.00" font-size="7.2" fill="#333" text-anchor="middle" stroke="#333" stroke-width="0.22">9</text>
<line x1="476.80" y1="904.90" x2="479.40" y2="904.90" stroke="#333" stroke-width="0.9"/>
<text x="476.60" y="907.20" font-size="6.9" fill="#2a2a2a" stroke="#2a2a2a" stroke-width="0.21" text-anchor="end">pStage<tspan font-size="4.14" dy="-3.11">a</tspan></text>
<text x="476.60" y="915.10" font-size="6.9" fill="#2a2a2a" text-anchor="end" stroke="#2a2a2a" stroke-width="0.21">(I/II vs IIIA/IIIB/IIIC/IVA/IVB)</text>
<line x1="496.40" y1="904.90" x2="584.20" y2="904.90" stroke="#333" stroke-width="1.0"/>
<line x1="496.40" y1="903.30" x2="496.40" y2="906.50" stroke="#333" stroke-width="0.8"/>
<line x1="584.20" y1="903.30" x2="584.20" y2="906.50" stroke="#333" stroke-width="0.8"/>
<circle cx="540.70" cy="904.90" r="1.9" fill="#111"/>
<line x1="476.80" y1="928.60" x2="479.40" y2="928.60" stroke="#333" stroke-width="0.9"/>
<text x="476.60" y="930.90" font-size="6.9" fill="#2a2a2a" text-anchor="end" stroke="#2a2a2a" stroke-width="0.21">Resection margin status</text>
<text x="476.60" y="938.80" font-size="6.9" fill="#2a2a2a" text-anchor="end" stroke="#2a2a2a" stroke-width="0.21">(R0 vs R1)</text>
<line x1="492.80" y1="928.60" x2="504.70" y2="928.60" stroke="#333" stroke-width="1.0"/>
<line x1="492.80" y1="927.00" x2="492.80" y2="930.20" stroke="#333" stroke-width="0.8"/>
<line x1="504.70" y1="927.00" x2="504.70" y2="930.20" stroke="#333" stroke-width="0.8"/>
<circle cx="498.30" cy="928.60" r="1.9" fill="#111"/>
<line x1="476.80" y1="953.10" x2="479.40" y2="953.10" stroke="#333" stroke-width="0.9"/>
<text x="476.60" y="955.40" font-size="6.9" fill="#2a2a2a" text-anchor="end" stroke="#2a2a2a" stroke-width="0.21">Clostridia abundance</text>
<text x="476.60" y="963.30" font-size="6.9" fill="#2a2a2a" text-anchor="end" stroke="#2a2a2a" stroke-width="0.21">(Low vs High)</text>
<line x1="482.50" y1="953.10" x2="488.10" y2="953.10" stroke="#333" stroke-width="1.0"/>
<line x1="482.50" y1="951.50" x2="482.50" y2="954.70" stroke="#333" stroke-width="0.8"/>
<line x1="488.10" y1="951.50" x2="488.10" y2="954.70" stroke="#333" stroke-width="0.8"/>
<circle cx="484.50" cy="953.10" r="1.9" fill="#111"/>
<text x="640.80" y="908.20" font-size="9.7" fill="#222" text-anchor="middle" textLength="62.40" lengthAdjust="spacingAndGlyphs" stroke="#222" stroke-width="0.29">3.49 (1.48-8.24)</text>
<text x="698.40" y="908.20" font-size="9.7" fill="#222" text-anchor="middle" textLength="21.60" lengthAdjust="spacingAndGlyphs" stroke="#222" stroke-width="0.29">0.004</text>
<text x="640.80" y="931.90" font-size="9.7" fill="#222" text-anchor="middle" textLength="62.40" lengthAdjust="spacingAndGlyphs" stroke="#222" stroke-width="0.29">1.44 (1.06-1.96)</text>
<text x="698.40" y="931.90" font-size="9.7" fill="#222" text-anchor="middle" textLength="17.00" lengthAdjust="spacingAndGlyphs" stroke="#222" stroke-width="0.29">0.02</text>
<text x="640.80" y="956.00" font-size="9.7" fill="#222" text-anchor="middle" textLength="62.40" lengthAdjust="spacingAndGlyphs" stroke="#222" stroke-width="0.29">0.45 (0.30-0.67)</text>
<text x="698.40" y="956.00" font-size="9.7" fill="#222" text-anchor="middle" textLength="17.00" lengthAdjust="spacingAndGlyphs" stroke="#222" stroke-width="0.29">0.03</text>
<text x="478.60" y="873.90" font-size="6.6" fill="#2a2a2a" text-anchor="end" stroke="#2a2a2a" stroke-width="0.20">All patients</text>
<line x1="446.10" y1="876.60" x2="479.40" y2="876.60" stroke="#333" stroke-width="0.8"/>
<text x="478.60" y="885.20" font-size="6.7" fill="#2a2a2a" text-anchor="end" stroke="#2a2a2a" stroke-width="0.20">Multivariable risk factor</text>
<line x1="411.60" y1="888.30" x2="479.40" y2="888.30" stroke="#333" stroke-width="1.1"/>
<text x="640.60" y="889.60" font-size="9.7" fill="#222" text-anchor="middle" textLength="37.90" lengthAdjust="spacingAndGlyphs" stroke="#222" stroke-width="0.29">HR (95%)</text>
<text x="698.00" y="889.40" font-size="9.6" fill="#222" text-anchor="middle" font-style="italic" stroke="#222" stroke-width="0.29">P</text>
<line x1="601.60" y1="892.30" x2="717.60" y2="892.30" stroke="#333" stroke-width="1.2"/>
</svg>
</body></html>
